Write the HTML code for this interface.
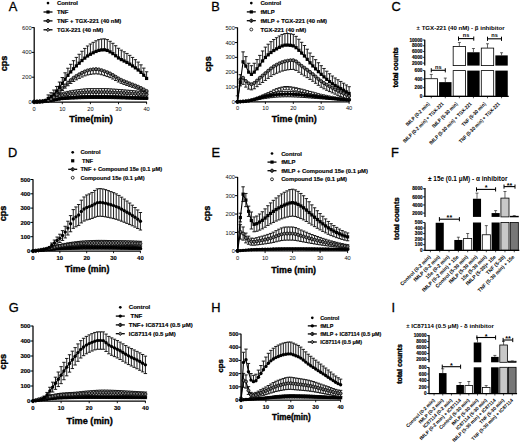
<!DOCTYPE html>
<html><head><meta charset="utf-8"><style>
html,body{margin:0;padding:0;background:#fff;}
svg{display:block;}
text{font-family:"Liberation Sans", sans-serif;}
.h{stroke:#000;stroke-width:0.35px;}
.m{stroke:#000;stroke-width:0.15px;}
.l{stroke:#000;stroke-width:0.3px;}
.hf{fill:#777;stroke:#000;stroke-width:0.8px;}
.op{fill:#fff;stroke:#000;stroke-width:0.8px;}
</style></head><body>
<svg width="520" height="443" viewBox="0 0 520 443">
<rect width="520" height="443" fill="#fff"/>
<text x="8.78" y="10.93" font-size="12.8" class="l">A</text>
<line x1="34.2" y1="27.3" x2="34.2" y2="102.5" stroke="#000" stroke-width="1.25"/>
<line x1="31.6" y1="102" x2="34.2" y2="102" stroke="#000" stroke-width="1.0"/>
<text x="31.6" y="104.05" font-size="5.7" text-anchor="end" fill="#111">0</text>
<line x1="31.6" y1="77.2" x2="34.2" y2="77.2" stroke="#000" stroke-width="1.0"/>
<text x="31.6" y="79.25" font-size="5.7" text-anchor="end" fill="#111">200</text>
<line x1="31.6" y1="52.4" x2="34.2" y2="52.4" stroke="#000" stroke-width="1.0"/>
<text x="31.6" y="54.45" font-size="5.7" text-anchor="end" fill="#111">400</text>
<line x1="31.6" y1="27.6" x2="34.2" y2="27.6" stroke="#000" stroke-width="1.0"/>
<text x="31.6" y="29.65" font-size="5.7" text-anchor="end" fill="#111">600</text>
<line x1="33.7" y1="102" x2="146.9" y2="102" stroke="#000" stroke-width="1.25"/>
<line x1="34.2" y1="102" x2="34.2" y2="104.2" stroke="#000" stroke-width="0.9"/>
<text x="34.2" y="110.65" font-size="5.7" text-anchor="middle" fill="#111">0</text>
<line x1="62.3" y1="102" x2="62.3" y2="104.2" stroke="#000" stroke-width="0.9"/>
<text x="62.3" y="110.65" font-size="5.7" text-anchor="middle" fill="#111">10</text>
<line x1="90.4" y1="102" x2="90.4" y2="104.2" stroke="#000" stroke-width="0.9"/>
<text x="90.4" y="110.65" font-size="5.7" text-anchor="middle" fill="#111">20</text>
<line x1="118.5" y1="102" x2="118.5" y2="104.2" stroke="#000" stroke-width="0.9"/>
<text x="118.5" y="110.65" font-size="5.7" text-anchor="middle" fill="#111">30</text>
<line x1="146.6" y1="102" x2="146.6" y2="104.2" stroke="#000" stroke-width="0.9"/>
<text x="146.6" y="110.65" font-size="5.7" text-anchor="middle" fill="#111">40</text>
<text x="69.2" y="121.7" font-size="9.2" font-weight="bold" class="h">Time(min)</text>
<text x="0" y="0" font-size="9" font-weight="bold" text-anchor="middle" class="h" transform="translate(7.2,63.5) rotate(-90)">cps</text>
<path d="M34.2 101.38V101.16M32.5 101.16h3.4M34.2 101.38V101.6M32.5 101.6h3.4M37.01 101.35V101.13M35.31 101.13h3.4M37.01 101.35V101.58M35.31 101.58h3.4M39.82 101.28V101.03M38.12 101.03h3.4M39.82 101.28V101.53M38.12 101.53h3.4M42.63 101.16V100.87M40.93 100.87h3.4M42.63 101.16V101.46M40.93 101.46h3.4M45.44 101.01V100.66M43.74 100.66h3.4M45.44 101.01V101.36M43.74 101.36h3.4M48.25 100.44V99.89M46.55 99.89h3.4M48.25 100.44V100.98M46.55 100.98h3.4M51.06 99.38V98.46M49.36 98.46h3.4M51.06 99.38V100.3M49.36 100.3h3.4M53.87 98.28V96.98M52.17 96.98h3.4M53.87 98.28V99.58M52.17 99.58h3.4M56.68 97.18V95.5M54.98 95.5h3.4M56.68 97.18V98.87M54.98 98.87h3.4M59.49 96.04V93.96M57.79 93.96h3.4M59.49 96.04V98.13M57.79 98.13h3.4M62.3 95.18V92.79M60.6 92.79h3.4M62.3 95.18V97.57M60.6 97.57h3.4M65.11 94.61V92.02M63.41 92.02h3.4M65.11 94.61V97.19M63.41 97.19h3.4M67.92 94.12V91.36M66.22 91.36h3.4M67.92 94.12V96.88M66.22 96.88h3.4M70.73 93.71V90.81M69.03 90.81h3.4M70.73 93.71V96.61M69.03 96.61h3.4M73.54 93.36V90.34M71.84 90.34h3.4M73.54 93.36V96.39M71.84 96.39h3.4M76.35 93.07V89.95M74.65 89.95h3.4M76.35 93.07V96.2M74.65 96.2h3.4M79.16 92.8V89.57M77.46 89.57h3.4M79.16 92.8V96.02M77.46 96.02h3.4M81.97 92.53V89.21M80.27 89.21h3.4M81.97 92.53V95.84M80.27 95.84h3.4M84.78 92.3V88.9M83.08 88.9h3.4M84.78 92.3V95.69M83.08 95.69h3.4M87.59 92.14V88.69M85.89 88.69h3.4M87.59 92.14V95.59M85.89 95.59h3.4M90.4 92.08V88.61M88.7 88.61h3.4M90.4 92.08V95.55M88.7 95.55h3.4M93.21 92.08V88.61M91.51 88.61h3.4M93.21 92.08V95.55M91.51 95.55h3.4M96.02 92.08V88.61M94.32 88.61h3.4M96.02 92.08V95.55M94.32 95.55h3.4M98.83 92.08V88.61M97.13 88.61h3.4M98.83 92.08V95.55M97.13 95.55h3.4M101.64 92.08V88.61M99.94 88.61h3.4M101.64 92.08V95.55M99.94 95.55h3.4M104.45 92.08V88.61M102.75 88.61h3.4M104.45 92.08V95.55M102.75 95.55h3.4M107.26 92.12V88.66M105.56 88.66h3.4M107.26 92.12V95.58M105.56 95.58h3.4M110.07 92.23V88.81M108.37 88.81h3.4M110.07 92.23V95.65M108.37 95.65h3.4M112.88 92.38V89.01M111.18 89.01h3.4M112.88 92.38V95.75M111.18 95.75h3.4M115.69 92.54V89.23M113.99 89.23h3.4M115.69 92.54V95.85M113.99 95.85h3.4M118.5 92.7V89.44M116.8 89.44h3.4M118.5 92.7V95.95M116.8 95.95h3.4M121.31 92.85V89.65M119.61 89.65h3.4M121.31 92.85V96.05M119.61 96.05h3.4M124.12 93.02V89.88M122.42 89.88h3.4M124.12 93.02V96.16M122.42 96.16h3.4M126.93 93.2V90.12M125.23 90.12h3.4M126.93 93.2V96.28M125.23 96.28h3.4M129.74 93.38V90.37M128.04 90.37h3.4M129.74 93.38V96.4M128.04 96.4h3.4M132.55 93.57V90.62M130.85 90.62h3.4M132.55 93.57V96.52M130.85 96.52h3.4M135.36 93.76V90.87M133.66 90.87h3.4M135.36 93.76V96.64M133.66 96.64h3.4M138.17 93.95V91.13M136.47 91.13h3.4M138.17 93.95V96.77M136.47 96.77h3.4M140.98 94.15V91.4M139.28 91.4h3.4M140.98 94.15V96.9M139.28 96.9h3.4M143.79 94.35V91.67M142.09 91.67h3.4M143.79 94.35V97.03M142.09 97.03h3.4M146.6 94.56V91.96M144.9 91.96h3.4M146.6 94.56V97.16M144.9 97.16h3.4" fill="none" stroke="#111" stroke-width="0.95"/>
<path d="M34.2 101.38 L37.01 101.35 L39.82 101.28 L42.63 101.16 L45.44 101.01 L48.25 100.44 L51.06 99.38 L53.87 98.28 L56.68 97.18 L59.49 96.04 L62.3 95.18 L65.11 94.61 L67.92 94.12 L70.73 93.71 L73.54 93.36 L76.35 93.07 L79.16 92.8 L81.97 92.53 L84.78 92.3 L87.59 92.14 L90.4 92.08 L93.21 92.08 L96.02 92.08 L98.83 92.08 L101.64 92.08 L104.45 92.08 L107.26 92.12 L110.07 92.23 L112.88 92.38 L115.69 92.54 L118.5 92.7 L121.31 92.85 L124.12 93.02 L126.93 93.2 L129.74 93.38 L132.55 93.57 L135.36 93.76 L138.17 93.95 L140.98 94.15 L143.79 94.35 L146.6 94.56" fill="none" stroke="#000" stroke-width="1.1" stroke-linejoin="round"/>
<circle cx="34.2" cy="101.38" r="1.55" class="hf"/>
<circle cx="37.01" cy="101.35" r="1.55" class="hf"/>
<circle cx="39.82" cy="101.28" r="1.55" class="hf"/>
<circle cx="42.63" cy="101.16" r="1.55" class="hf"/>
<circle cx="45.44" cy="101.01" r="1.55" class="hf"/>
<circle cx="48.25" cy="100.44" r="1.55" class="hf"/>
<circle cx="51.06" cy="99.38" r="1.55" class="hf"/>
<circle cx="53.87" cy="98.28" r="1.55" class="hf"/>
<circle cx="56.68" cy="97.18" r="1.55" class="hf"/>
<circle cx="59.49" cy="96.04" r="1.55" class="hf"/>
<circle cx="62.3" cy="95.18" r="1.55" class="hf"/>
<circle cx="65.11" cy="94.61" r="1.55" class="hf"/>
<circle cx="67.92" cy="94.12" r="1.55" class="hf"/>
<circle cx="70.73" cy="93.71" r="1.55" class="hf"/>
<circle cx="73.54" cy="93.36" r="1.55" class="hf"/>
<circle cx="76.35" cy="93.07" r="1.55" class="hf"/>
<circle cx="79.16" cy="92.8" r="1.55" class="hf"/>
<circle cx="81.97" cy="92.53" r="1.55" class="hf"/>
<circle cx="84.78" cy="92.3" r="1.55" class="hf"/>
<circle cx="87.59" cy="92.14" r="1.55" class="hf"/>
<circle cx="90.4" cy="92.08" r="1.55" class="hf"/>
<circle cx="93.21" cy="92.08" r="1.55" class="hf"/>
<circle cx="96.02" cy="92.08" r="1.55" class="hf"/>
<circle cx="98.83" cy="92.08" r="1.55" class="hf"/>
<circle cx="101.64" cy="92.08" r="1.55" class="hf"/>
<circle cx="104.45" cy="92.08" r="1.55" class="hf"/>
<circle cx="107.26" cy="92.12" r="1.55" class="hf"/>
<circle cx="110.07" cy="92.23" r="1.55" class="hf"/>
<circle cx="112.88" cy="92.38" r="1.55" class="hf"/>
<circle cx="115.69" cy="92.54" r="1.55" class="hf"/>
<circle cx="118.5" cy="92.7" r="1.55" class="hf"/>
<circle cx="121.31" cy="92.85" r="1.55" class="hf"/>
<circle cx="124.12" cy="93.02" r="1.55" class="hf"/>
<circle cx="126.93" cy="93.2" r="1.55" class="hf"/>
<circle cx="129.74" cy="93.38" r="1.55" class="hf"/>
<circle cx="132.55" cy="93.57" r="1.55" class="hf"/>
<circle cx="135.36" cy="93.76" r="1.55" class="hf"/>
<circle cx="138.17" cy="93.95" r="1.55" class="hf"/>
<circle cx="140.98" cy="94.15" r="1.55" class="hf"/>
<circle cx="143.79" cy="94.35" r="1.55" class="hf"/>
<circle cx="146.6" cy="94.56" r="1.55" class="hf"/>
<path d="M34.2 101.63V101.52M32.5 101.52h3.4M34.2 101.63V101.74M32.5 101.74h3.4M37.01 101.61V101.49M35.31 101.49h3.4M37.01 101.61V101.73M35.31 101.73h3.4M39.82 101.56V101.43M38.12 101.43h3.4M39.82 101.56V101.69M38.12 101.69h3.4M42.63 101.48V101.33M40.93 101.33h3.4M42.63 101.48V101.64M40.93 101.64h3.4M45.44 101.38V101.19M43.74 101.19h3.4M45.44 101.38V101.57M43.74 101.57h3.4M48.25 101.11V100.85M46.55 100.85h3.4M48.25 101.11V101.38M46.55 101.38h3.4M51.06 100.64V100.24M49.36 100.24h3.4M51.06 100.64V101.05M49.36 101.05h3.4M53.87 100.14V99.58M52.17 99.58h3.4M53.87 100.14V100.7M52.17 100.7h3.4M56.68 99.58V98.86M54.98 98.86h3.4M56.68 99.58V100.31M54.98 100.31h3.4M59.49 98.98V98.07M57.79 98.07h3.4M59.49 98.98V99.88M57.79 99.88h3.4M62.3 98.53V97.49M60.6 97.49h3.4M62.3 98.53V99.57M60.6 99.57h3.4M65.11 98.25V97.13M63.41 97.13h3.4M65.11 98.25V99.38M63.41 99.38h3.4M67.92 98.03V96.83M66.22 96.83h3.4M67.92 98.03V99.22M66.22 99.22h3.4M70.73 97.84V96.59M69.03 96.59h3.4M70.73 97.84V99.09M69.03 99.09h3.4M73.54 97.68V96.38M71.84 96.38h3.4M73.54 97.68V98.97M71.84 98.97h3.4M76.35 97.54V96.2M74.65 96.2h3.4M76.35 97.54V98.88M74.65 98.88h3.4M79.16 97.4V96.02M77.46 96.02h3.4M79.16 97.4V98.78M77.46 98.78h3.4M81.97 97.27V95.85M80.27 95.85h3.4M81.97 97.27V98.69M80.27 98.69h3.4M84.78 97.15V95.7M83.08 95.7h3.4M84.78 97.15V98.61M83.08 98.61h3.4M87.59 97.07V95.59M85.89 95.59h3.4M87.59 97.07V98.55M85.89 98.55h3.4M90.4 97.04V95.55M88.7 95.55h3.4M90.4 97.04V98.53M88.7 98.53h3.4M93.21 97.04V95.55M91.51 95.55h3.4M93.21 97.04V98.53M91.51 98.53h3.4M96.02 97.04V95.55M94.32 95.55h3.4M96.02 97.04V98.53M94.32 98.53h3.4M98.83 97.04V95.55M97.13 95.55h3.4M98.83 97.04V98.53M97.13 98.53h3.4M101.64 97.04V95.55M99.94 95.55h3.4M101.64 97.04V98.53M99.94 98.53h3.4M104.45 97.04V95.55M102.75 95.55h3.4M104.45 97.04V98.53M102.75 98.53h3.4M107.26 97.07V95.58M105.56 95.58h3.4M107.26 97.07V98.55M105.56 98.55h3.4M110.07 97.13V95.67M108.37 95.67h3.4M110.07 97.13V98.59M108.37 98.59h3.4M112.88 97.22V95.79M111.18 95.79h3.4M112.88 97.22V98.65M111.18 98.65h3.4M115.69 97.32V95.91M113.99 95.91h3.4M115.69 97.32V98.72M113.99 98.72h3.4M118.5 97.41V96.04M116.8 96.04h3.4M118.5 97.41V98.79M116.8 98.79h3.4M121.31 97.5V96.16M119.61 96.16h3.4M121.31 97.5V98.85M119.61 98.85h3.4M124.12 97.61V96.29M122.42 96.29h3.4M124.12 97.61V98.92M122.42 98.92h3.4M126.93 97.71V96.43M125.23 96.43h3.4M126.93 97.71V99M125.23 99h3.4M129.74 97.82V96.56M128.04 96.56h3.4M129.74 97.82V99.07M128.04 99.07h3.4M132.55 97.91V96.68M130.85 96.68h3.4M132.55 97.91V99.14M130.85 99.14h3.4M135.36 97.99V96.79M133.66 96.79h3.4M135.36 97.99V99.19M133.66 99.19h3.4M138.17 98.07V96.89M136.47 96.89h3.4M138.17 98.07V99.25M136.47 99.25h3.4M140.98 98.15V96.99M139.28 96.99h3.4M140.98 98.15V99.3M139.28 99.3h3.4M143.79 98.22V97.08M142.09 97.08h3.4M143.79 98.22V99.35M142.09 99.35h3.4M146.6 98.28V97.16M144.9 97.16h3.4M146.6 98.28V99.4M144.9 99.4h3.4" fill="none" stroke="#111" stroke-width="0.95"/>
<path d="M34.2 101.63 L37.01 101.61 L39.82 101.56 L42.63 101.48 L45.44 101.38 L48.25 101.11 L51.06 100.64 L53.87 100.14 L56.68 99.58 L59.49 98.98 L62.3 98.53 L65.11 98.25 L67.92 98.03 L70.73 97.84 L73.54 97.68 L76.35 97.54 L79.16 97.4 L81.97 97.27 L84.78 97.15 L87.59 97.07 L90.4 97.04 L93.21 97.04 L96.02 97.04 L98.83 97.04 L101.64 97.04 L104.45 97.04 L107.26 97.07 L110.07 97.13 L112.88 97.22 L115.69 97.32 L118.5 97.41 L121.31 97.5 L124.12 97.61 L126.93 97.71 L129.74 97.82 L132.55 97.91 L135.36 97.99 L138.17 98.07 L140.98 98.15 L143.79 98.22 L146.6 98.28" fill="none" stroke="#000" stroke-width="2.2" stroke-linejoin="round"/>
<circle cx="34.2" cy="101.63" r="1.7"/>
<circle cx="37.01" cy="101.61" r="1.7"/>
<circle cx="39.82" cy="101.56" r="1.7"/>
<circle cx="42.63" cy="101.48" r="1.7"/>
<circle cx="45.44" cy="101.38" r="1.7"/>
<circle cx="48.25" cy="101.11" r="1.7"/>
<circle cx="51.06" cy="100.64" r="1.7"/>
<circle cx="53.87" cy="100.14" r="1.7"/>
<circle cx="56.68" cy="99.58" r="1.7"/>
<circle cx="59.49" cy="98.98" r="1.7"/>
<circle cx="62.3" cy="98.53" r="1.7"/>
<circle cx="65.11" cy="98.25" r="1.7"/>
<circle cx="67.92" cy="98.03" r="1.7"/>
<circle cx="70.73" cy="97.84" r="1.7"/>
<circle cx="73.54" cy="97.68" r="1.7"/>
<circle cx="76.35" cy="97.54" r="1.7"/>
<circle cx="79.16" cy="97.4" r="1.7"/>
<circle cx="81.97" cy="97.27" r="1.7"/>
<circle cx="84.78" cy="97.15" r="1.7"/>
<circle cx="87.59" cy="97.07" r="1.7"/>
<circle cx="90.4" cy="97.04" r="1.7"/>
<circle cx="93.21" cy="97.04" r="1.7"/>
<circle cx="96.02" cy="97.04" r="1.7"/>
<circle cx="98.83" cy="97.04" r="1.7"/>
<circle cx="101.64" cy="97.04" r="1.7"/>
<circle cx="104.45" cy="97.04" r="1.7"/>
<circle cx="107.26" cy="97.07" r="1.7"/>
<circle cx="110.07" cy="97.13" r="1.7"/>
<circle cx="112.88" cy="97.22" r="1.7"/>
<circle cx="115.69" cy="97.32" r="1.7"/>
<circle cx="118.5" cy="97.41" r="1.7"/>
<circle cx="121.31" cy="97.5" r="1.7"/>
<circle cx="124.12" cy="97.61" r="1.7"/>
<circle cx="126.93" cy="97.71" r="1.7"/>
<circle cx="129.74" cy="97.82" r="1.7"/>
<circle cx="132.55" cy="97.91" r="1.7"/>
<circle cx="135.36" cy="97.99" r="1.7"/>
<circle cx="138.17" cy="98.07" r="1.7"/>
<circle cx="140.98" cy="98.15" r="1.7"/>
<circle cx="143.79" cy="98.22" r="1.7"/>
<circle cx="146.6" cy="98.28" r="1.7"/>
<path d="M51.06 99.03V100.13M49.36 100.13h3.4M53.87 97.29V98.6M52.17 98.6h3.4M56.68 94.67V96.3M54.98 96.3h3.4M59.49 91.28V93.31M57.79 93.31h3.4M62.3 88.11V90.52M60.6 90.52h3.4M65.11 85.36V88.1M63.41 88.1h3.4M67.92 82.65V85.72M66.22 85.72h3.4M70.73 80.11V83.48M69.03 83.48h3.4M73.54 77.84V81.48M71.84 81.48h3.4M76.35 75.96V79.83M74.65 79.83h3.4M79.16 74.34V78.4M77.46 78.4h3.4M81.97 72.81V77.06M80.27 77.06h3.4M84.78 71.48V75.89M83.08 75.89h3.4M87.59 70.43V74.97M85.89 74.97h3.4M90.4 69.76V74.37M88.7 74.37h3.4M93.21 69.34V74M91.51 74h3.4M96.02 69.14V73.83M94.32 73.83h3.4M98.83 69.43V74.09M97.13 74.09h3.4M101.64 70.18V74.74M99.94 74.74h3.4M104.45 71.18V75.62M102.75 75.62h3.4M107.26 72.24V76.56M105.56 76.56h3.4M110.07 73.48V77.65M108.37 77.65h3.4M112.88 75.04V79.02M111.18 79.02h3.4M115.69 76.76V80.53M113.99 80.53h3.4M118.5 78.44V82.01M116.8 82.01h3.4M121.31 79.93V83.32M119.61 83.32h3.4M124.12 81.18V84.43M122.42 84.43h3.4M126.93 82.33V85.44M125.23 85.44h3.4M129.74 83.42V86.39M128.04 86.39h3.4M132.55 84.48V87.33M130.85 87.33h3.4M135.36 85.57V88.29M133.66 88.29h3.4M138.17 86.73V89.31M136.47 89.31h3.4M140.98 88.01V90.43M139.28 90.43h3.4M143.79 89.44V91.69M142.09 91.69h3.4M146.6 90.96V93.03M144.9 93.03h3.4" fill="none" stroke="#111" stroke-width="0.95"/>
<path d="M34.2 102 L37.01 101.91 L39.82 101.65 L42.63 101.26 L45.44 100.75 L48.25 100.14 L51.06 99.03 L53.87 97.29 L56.68 94.67 L59.49 91.28 L62.3 88.11 L65.11 85.36 L67.92 82.65 L70.73 80.11 L73.54 77.84 L76.35 75.96 L79.16 74.34 L81.97 72.81 L84.78 71.48 L87.59 70.43 L90.4 69.76 L93.21 69.34 L96.02 69.14 L98.83 69.43 L101.64 70.18 L104.45 71.18 L107.26 72.24 L110.07 73.48 L112.88 75.04 L115.69 76.76 L118.5 78.44 L121.31 79.93 L124.12 81.18 L126.93 82.33 L129.74 83.42 L132.55 84.48 L135.36 85.57 L138.17 86.73 L140.98 88.01 L143.79 89.44 L146.6 90.96" fill="none" stroke="#000" stroke-width="1.1" stroke-linejoin="round"/>
<circle cx="34.2" cy="102" r="1.55" class="hf"/>
<circle cx="37.01" cy="101.91" r="1.55" class="hf"/>
<circle cx="39.82" cy="101.65" r="1.55" class="hf"/>
<circle cx="42.63" cy="101.26" r="1.55" class="hf"/>
<circle cx="45.44" cy="100.75" r="1.55" class="hf"/>
<circle cx="48.25" cy="100.14" r="1.55" class="hf"/>
<circle cx="51.06" cy="99.03" r="1.55" class="hf"/>
<circle cx="53.87" cy="97.29" r="1.55" class="hf"/>
<circle cx="56.68" cy="94.67" r="1.55" class="hf"/>
<circle cx="59.49" cy="91.28" r="1.55" class="hf"/>
<circle cx="62.3" cy="88.11" r="1.55" class="hf"/>
<circle cx="65.11" cy="85.36" r="1.55" class="hf"/>
<circle cx="67.92" cy="82.65" r="1.55" class="hf"/>
<circle cx="70.73" cy="80.11" r="1.55" class="hf"/>
<circle cx="73.54" cy="77.84" r="1.55" class="hf"/>
<circle cx="76.35" cy="75.96" r="1.55" class="hf"/>
<circle cx="79.16" cy="74.34" r="1.55" class="hf"/>
<circle cx="81.97" cy="72.81" r="1.55" class="hf"/>
<circle cx="84.78" cy="71.48" r="1.55" class="hf"/>
<circle cx="87.59" cy="70.43" r="1.55" class="hf"/>
<circle cx="90.4" cy="69.76" r="1.55" class="hf"/>
<circle cx="93.21" cy="69.34" r="1.55" class="hf"/>
<circle cx="96.02" cy="69.14" r="1.55" class="hf"/>
<circle cx="98.83" cy="69.43" r="1.55" class="hf"/>
<circle cx="101.64" cy="70.18" r="1.55" class="hf"/>
<circle cx="104.45" cy="71.18" r="1.55" class="hf"/>
<circle cx="107.26" cy="72.24" r="1.55" class="hf"/>
<circle cx="110.07" cy="73.48" r="1.55" class="hf"/>
<circle cx="112.88" cy="75.04" r="1.55" class="hf"/>
<circle cx="115.69" cy="76.76" r="1.55" class="hf"/>
<circle cx="118.5" cy="78.44" r="1.55" class="hf"/>
<circle cx="121.31" cy="79.93" r="1.55" class="hf"/>
<circle cx="124.12" cy="81.18" r="1.55" class="hf"/>
<circle cx="126.93" cy="82.33" r="1.55" class="hf"/>
<circle cx="129.74" cy="83.42" r="1.55" class="hf"/>
<circle cx="132.55" cy="84.48" r="1.55" class="hf"/>
<circle cx="135.36" cy="85.57" r="1.55" class="hf"/>
<circle cx="138.17" cy="86.73" r="1.55" class="hf"/>
<circle cx="140.98" cy="88.01" r="1.55" class="hf"/>
<circle cx="143.79" cy="89.44" r="1.55" class="hf"/>
<circle cx="146.6" cy="90.96" r="1.55" class="hf"/>
<path d="M48.25 98.53V94.91M46.55 94.91h3.4M51.06 96.63V92.72M49.36 92.72h3.4M53.87 94.31V90.06M52.17 90.06h3.4M56.68 91.17V86.45M54.98 86.45h3.4M59.49 87.35V82.05M57.79 82.05h3.4M62.3 83.4V77.51M60.6 77.51h3.4M65.11 79.3V72.8M63.41 72.8h3.4M67.92 75.34V68.24M66.22 68.24h3.4M70.73 71.92V64.3M69.03 64.3h3.4M73.54 68.77V60.69M71.84 60.69h3.4M76.35 65.92V57.4M74.65 57.4h3.4M79.16 63.2V54.28M77.46 54.28h3.4M81.97 60.56V51.25M80.27 51.25h3.4M84.78 58.11V48.43M83.08 48.43h3.4M87.59 55.97V45.97M85.89 45.97h3.4M90.4 54.26V44M88.7 44h3.4M93.21 52.8V42.32M91.51 42.32h3.4M96.02 51.46V40.77M94.32 40.77h3.4M98.83 50.43V39.6M97.13 39.6h3.4M101.64 49.92V39.01M99.94 39.01h3.4M104.45 49.8V38.87M102.75 38.87h3.4M107.26 50.43V39.59M105.56 39.59h3.4M110.07 51.91V41.3M108.37 41.3h3.4M112.88 53.64V43.29M111.18 43.29h3.4M115.69 55.77V45.73M113.99 45.73h3.4M118.5 57.98V48.28M116.8 48.28h3.4M121.31 59.61V50.15M119.61 50.15h3.4M124.12 61.03V51.78M122.42 51.78h3.4M126.93 62.47V53.44M125.23 53.44h3.4M129.74 64.13V55.35M128.04 55.35h3.4M132.55 65.93V57.42M130.85 57.42h3.4M135.36 67.87V59.65M133.66 59.65h3.4M138.17 69.99V62.09M136.47 62.09h3.4M140.98 72.37V64.83M139.28 64.83h3.4M143.79 75.22V68.1M142.09 68.1h3.4M146.6 78.44V71.81M144.9 71.81h3.4" fill="none" stroke="#111" stroke-width="0.95"/>
<path d="M34.2 102 L37.01 101.96 L39.82 101.83 L42.63 101.63 L45.44 100.46 L48.25 98.53 L51.06 96.63 L53.87 94.31 L56.68 91.17 L59.49 87.35 L62.3 83.4 L65.11 79.3 L67.92 75.34 L70.73 71.92 L73.54 68.77 L76.35 65.92 L79.16 63.2 L81.97 60.56 L84.78 58.11 L87.59 55.97 L90.4 54.26 L93.21 52.8 L96.02 51.46 L98.83 50.43 L101.64 49.92 L104.45 49.8 L107.26 50.43 L110.07 51.91 L112.88 53.64 L115.69 55.77 L118.5 57.98 L121.31 59.61 L124.12 61.03 L126.93 62.47 L129.74 64.13 L132.55 65.93 L135.36 67.87 L138.17 69.99 L140.98 72.37 L143.79 75.22 L146.6 78.44" fill="none" stroke="#000" stroke-width="1.1" stroke-linejoin="round"/>
<rect x="32.6" y="100.4" width="3.2" height="3.2"/>
<rect x="35.41" y="100.36" width="3.2" height="3.2"/>
<rect x="38.22" y="100.23" width="3.2" height="3.2"/>
<rect x="41.03" y="100.03" width="3.2" height="3.2"/>
<rect x="43.84" y="98.86" width="3.2" height="3.2"/>
<rect x="46.65" y="96.93" width="3.2" height="3.2"/>
<rect x="49.46" y="95.03" width="3.2" height="3.2"/>
<rect x="52.27" y="92.71" width="3.2" height="3.2"/>
<rect x="55.08" y="89.57" width="3.2" height="3.2"/>
<rect x="57.89" y="85.75" width="3.2" height="3.2"/>
<rect x="60.7" y="81.8" width="3.2" height="3.2"/>
<rect x="63.51" y="77.7" width="3.2" height="3.2"/>
<rect x="66.32" y="73.74" width="3.2" height="3.2"/>
<rect x="69.13" y="70.32" width="3.2" height="3.2"/>
<rect x="71.94" y="67.17" width="3.2" height="3.2"/>
<rect x="74.75" y="64.32" width="3.2" height="3.2"/>
<rect x="77.56" y="61.6" width="3.2" height="3.2"/>
<rect x="80.37" y="58.96" width="3.2" height="3.2"/>
<rect x="83.18" y="56.51" width="3.2" height="3.2"/>
<rect x="85.99" y="54.37" width="3.2" height="3.2"/>
<rect x="88.8" y="52.66" width="3.2" height="3.2"/>
<rect x="91.61" y="51.2" width="3.2" height="3.2"/>
<rect x="94.42" y="49.86" width="3.2" height="3.2"/>
<rect x="97.23" y="48.83" width="3.2" height="3.2"/>
<rect x="100.04" y="48.32" width="3.2" height="3.2"/>
<rect x="102.85" y="48.2" width="3.2" height="3.2"/>
<rect x="105.66" y="48.83" width="3.2" height="3.2"/>
<rect x="108.47" y="50.31" width="3.2" height="3.2"/>
<rect x="111.28" y="52.04" width="3.2" height="3.2"/>
<rect x="114.09" y="54.17" width="3.2" height="3.2"/>
<rect x="116.9" y="56.38" width="3.2" height="3.2"/>
<rect x="119.71" y="58.01" width="3.2" height="3.2"/>
<rect x="122.52" y="59.43" width="3.2" height="3.2"/>
<rect x="125.33" y="60.87" width="3.2" height="3.2"/>
<rect x="128.14" y="62.53" width="3.2" height="3.2"/>
<rect x="130.95" y="64.33" width="3.2" height="3.2"/>
<rect x="133.76" y="66.27" width="3.2" height="3.2"/>
<rect x="136.57" y="68.39" width="3.2" height="3.2"/>
<rect x="139.38" y="70.77" width="3.2" height="3.2"/>
<rect x="142.19" y="73.62" width="3.2" height="3.2"/>
<rect x="145" y="76.84" width="3.2" height="3.2"/>
<circle cx="48" cy="3.1" r="1.35"/>
<text x="57" y="5.22" font-size="5.9" font-weight="bold" class="m">Control</text>
<line x1="43.5" y1="12" x2="52.5" y2="12" stroke="#000" stroke-width="1.3"/>
<rect x="46.4" y="10.4" width="3.2" height="3.2"/>
<text x="57" y="14.12" font-size="5.9" font-weight="bold" class="m">TNF</text>
<line x1="43.5" y1="20.9" x2="52.5" y2="20.9" stroke="#000" stroke-width="1.3"/>
<circle cx="48" cy="20.9" r="1.55" class="hf"/>
<line x1="48" y1="19" x2="48" y2="22.8" stroke="#000" stroke-width="0.8"/>
<text x="57" y="23.02" font-size="5.9" font-weight="bold" class="m">TNF + TGX-221 (40 nM)</text>
<line x1="43.5" y1="29.8" x2="52.5" y2="29.8" stroke="#000" stroke-width="1.3"/>
<path d="M48 28l1.8 1.8l-1.8 1.8l-1.8-1.8z" class="hf"/>
<text x="57" y="31.92" font-size="5.9" font-weight="bold" class="m">TGX-221 (40 nM)</text>
<text x="211.15" y="10.93" font-size="12.8" class="l">B</text>
<line x1="237.5" y1="27.45" x2="237.5" y2="102.25" stroke="#000" stroke-width="1.25"/>
<line x1="234.9" y1="101.75" x2="237.5" y2="101.75" stroke="#000" stroke-width="1.0"/>
<text x="234.9" y="103.8" font-size="5.7" text-anchor="end" fill="#111">0</text>
<line x1="234.9" y1="86.95" x2="237.5" y2="86.95" stroke="#000" stroke-width="1.0"/>
<text x="234.9" y="89" font-size="5.7" text-anchor="end" fill="#111">100</text>
<line x1="234.9" y1="72.15" x2="237.5" y2="72.15" stroke="#000" stroke-width="1.0"/>
<text x="234.9" y="74.2" font-size="5.7" text-anchor="end" fill="#111">200</text>
<line x1="234.9" y1="57.35" x2="237.5" y2="57.35" stroke="#000" stroke-width="1.0"/>
<text x="234.9" y="59.4" font-size="5.7" text-anchor="end" fill="#111">300</text>
<line x1="234.9" y1="42.55" x2="237.5" y2="42.55" stroke="#000" stroke-width="1.0"/>
<text x="234.9" y="44.6" font-size="5.7" text-anchor="end" fill="#111">400</text>
<line x1="234.9" y1="27.75" x2="237.5" y2="27.75" stroke="#000" stroke-width="1.0"/>
<text x="234.9" y="29.8" font-size="5.7" text-anchor="end" fill="#111">500</text>
<line x1="237" y1="101.75" x2="349.4" y2="101.75" stroke="#000" stroke-width="1.25"/>
<line x1="237.5" y1="101.75" x2="237.5" y2="103.95" stroke="#000" stroke-width="0.9"/>
<text x="237.5" y="110.4" font-size="5.7" text-anchor="middle" fill="#111">0</text>
<line x1="265.4" y1="101.75" x2="265.4" y2="103.95" stroke="#000" stroke-width="0.9"/>
<text x="265.4" y="110.4" font-size="5.7" text-anchor="middle" fill="#111">10</text>
<line x1="293.3" y1="101.75" x2="293.3" y2="103.95" stroke="#000" stroke-width="0.9"/>
<text x="293.3" y="110.4" font-size="5.7" text-anchor="middle" fill="#111">20</text>
<line x1="321.2" y1="101.75" x2="321.2" y2="103.95" stroke="#000" stroke-width="0.9"/>
<text x="321.2" y="110.4" font-size="5.7" text-anchor="middle" fill="#111">30</text>
<line x1="349.1" y1="101.75" x2="349.1" y2="103.95" stroke="#000" stroke-width="0.9"/>
<text x="349.1" y="110.4" font-size="5.7" text-anchor="middle" fill="#111">40</text>
<text x="271.7" y="122" font-size="8.95" font-weight="bold" class="h">Time (min)</text>
<text x="0" y="0" font-size="9" font-weight="bold" text-anchor="middle" class="h" transform="translate(210.7,64) rotate(-90)">cps</text>
<path d="M245.87 101.01V100.9M244.17 100.9h3.4M248.66 100.57V100.39M246.96 100.39h3.4M251.45 99.97V99.71M249.75 99.71h3.4M254.24 99.22V98.84M252.54 98.84h3.4M257.03 98.28V97.76M255.33 97.76h3.4M259.82 97.24V96.57M258.12 96.57h3.4M262.61 96.16V95.32M260.91 95.32h3.4M265.4 95.09V94.09M263.7 94.09h3.4M268.19 93.96V92.79M266.49 92.79h3.4M270.98 92.72V91.37M269.28 91.37h3.4M273.77 91.5V89.96M272.07 89.96h3.4M276.56 90.42V88.72M274.86 88.72h3.4M279.35 89.61V87.79M277.65 87.79h3.4M282.14 88.97V87.05M280.44 87.05h3.4M284.93 88.5V86.52M283.23 86.52h3.4M287.72 88.48V86.49M286.02 86.49h3.4M290.51 88.77V86.83M288.81 86.83h3.4M293.3 89.17V87.28M291.6 87.28h3.4M296.09 89.62V87.8M294.39 87.8h3.4M298.88 90.18V88.45M297.18 88.45h3.4M301.67 90.81V89.17M299.97 89.17h3.4M304.46 91.48V89.94M302.76 89.94h3.4M307.25 92.13V90.69M305.55 90.69h3.4M310.04 92.8V91.45M308.34 91.45h3.4M312.83 93.51V92.27M311.13 92.27h3.4M315.62 94.22V93.09M313.92 93.09h3.4M318.41 94.91V93.89M316.71 93.89h3.4M321.2 95.53V94.6M319.5 94.6h3.4M323.99 96.11V95.26M322.29 95.26h3.4M326.78 96.66V95.89M325.08 95.89h3.4M329.57 97.17V96.49M327.87 96.49h3.4M332.36 97.64V97.03M330.66 97.03h3.4M335.15 98.05V97.5M333.45 97.5h3.4M337.94 98.41V97.91M336.24 97.91h3.4M340.73 98.75V98.3M339.03 98.3h3.4M343.52 99.05V98.64M341.82 98.64h3.4M346.31 99.31V98.95M344.61 98.95h3.4M349.1 99.53V99.2M347.4 99.2h3.4" fill="none" stroke="#111" stroke-width="0.95"/>
<path d="M237.5 101.75 L240.29 101.6 L243.08 101.34 L245.87 101.01 L248.66 100.57 L251.45 99.97 L254.24 99.22 L257.03 98.28 L259.82 97.24 L262.61 96.16 L265.4 95.09 L268.19 93.96 L270.98 92.72 L273.77 91.5 L276.56 90.42 L279.35 89.61 L282.14 88.97 L284.93 88.5 L287.72 88.48 L290.51 88.77 L293.3 89.17 L296.09 89.62 L298.88 90.18 L301.67 90.81 L304.46 91.48 L307.25 92.13 L310.04 92.8 L312.83 93.51 L315.62 94.22 L318.41 94.91 L321.2 95.53 L323.99 96.11 L326.78 96.66 L329.57 97.17 L332.36 97.64 L335.15 98.05 L337.94 98.41 L340.73 98.75 L343.52 99.05 L346.31 99.31 L349.1 99.53" fill="none" stroke="#000" stroke-width="1.1" stroke-linejoin="round"/>
<circle cx="237.5" cy="101.75" r="1.45" class="op"/>
<circle cx="240.29" cy="101.6" r="1.45" class="op"/>
<circle cx="243.08" cy="101.34" r="1.45" class="op"/>
<circle cx="245.87" cy="101.01" r="1.45" class="op"/>
<circle cx="248.66" cy="100.57" r="1.45" class="op"/>
<circle cx="251.45" cy="99.97" r="1.45" class="op"/>
<circle cx="254.24" cy="99.22" r="1.45" class="op"/>
<circle cx="257.03" cy="98.28" r="1.45" class="op"/>
<circle cx="259.82" cy="97.24" r="1.45" class="op"/>
<circle cx="262.61" cy="96.16" r="1.45" class="op"/>
<circle cx="265.4" cy="95.09" r="1.45" class="op"/>
<circle cx="268.19" cy="93.96" r="1.45" class="op"/>
<circle cx="270.98" cy="92.72" r="1.45" class="op"/>
<circle cx="273.77" cy="91.5" r="1.45" class="op"/>
<circle cx="276.56" cy="90.42" r="1.45" class="op"/>
<circle cx="279.35" cy="89.61" r="1.45" class="op"/>
<circle cx="282.14" cy="88.97" r="1.45" class="op"/>
<circle cx="284.93" cy="88.5" r="1.45" class="op"/>
<circle cx="287.72" cy="88.48" r="1.45" class="op"/>
<circle cx="290.51" cy="88.77" r="1.45" class="op"/>
<circle cx="293.3" cy="89.17" r="1.45" class="op"/>
<circle cx="296.09" cy="89.62" r="1.45" class="op"/>
<circle cx="298.88" cy="90.18" r="1.45" class="op"/>
<circle cx="301.67" cy="90.81" r="1.45" class="op"/>
<circle cx="304.46" cy="91.48" r="1.45" class="op"/>
<circle cx="307.25" cy="92.13" r="1.45" class="op"/>
<circle cx="310.04" cy="92.8" r="1.45" class="op"/>
<circle cx="312.83" cy="93.51" r="1.45" class="op"/>
<circle cx="315.62" cy="94.22" r="1.45" class="op"/>
<circle cx="318.41" cy="94.91" r="1.45" class="op"/>
<circle cx="321.2" cy="95.53" r="1.45" class="op"/>
<circle cx="323.99" cy="96.11" r="1.45" class="op"/>
<circle cx="326.78" cy="96.66" r="1.45" class="op"/>
<circle cx="329.57" cy="97.17" r="1.45" class="op"/>
<circle cx="332.36" cy="97.64" r="1.45" class="op"/>
<circle cx="335.15" cy="98.05" r="1.45" class="op"/>
<circle cx="337.94" cy="98.41" r="1.45" class="op"/>
<circle cx="340.73" cy="98.75" r="1.45" class="op"/>
<circle cx="343.52" cy="99.05" r="1.45" class="op"/>
<circle cx="346.31" cy="99.31" r="1.45" class="op"/>
<circle cx="349.1" cy="99.53" r="1.45" class="op"/>
<path d="M243.08 101.53V101.45M241.38 101.45h3.4M243.08 101.53V101.61M241.38 101.61h3.4M245.87 101.31V101.15M244.17 101.15h3.4M245.87 101.31V101.46M244.17 101.46h3.4M248.66 100.88V100.57M246.96 100.57h3.4M248.66 100.88V101.18M246.96 101.18h3.4M251.45 100.27V99.75M249.75 99.75h3.4M251.45 100.27V100.79M249.75 100.79h3.4M254.24 99.59V98.84M252.54 98.84h3.4M254.24 99.59V100.35M252.54 100.35h3.4M257.03 98.81V97.78M255.33 97.78h3.4M257.03 98.81V99.84M255.33 99.84h3.4M259.82 97.99V96.67M258.12 96.67h3.4M259.82 97.99V99.3M258.12 99.3h3.4M262.61 97.21V95.63M260.91 95.63h3.4M262.61 97.21V98.8M260.91 98.8h3.4M265.4 96.57V94.76M263.7 94.76h3.4M265.4 96.57V98.38M263.7 98.38h3.4M268.19 96.01V94M266.49 94h3.4M268.19 96.01V98.02M266.49 98.02h3.4M270.98 95.46V93.26M269.28 93.26h3.4M270.98 95.46V97.66M269.28 97.66h3.4M273.77 94.98V92.6M272.07 92.6h3.4M273.77 94.98V97.35M272.07 97.35h3.4M276.56 94.59V92.08M274.86 92.08h3.4M276.56 94.59V97.1M274.86 97.1h3.4M279.35 94.35V91.76M277.65 91.76h3.4M279.35 94.35V96.94M277.65 96.94h3.4M282.14 94.21V91.56M280.44 91.56h3.4M282.14 94.21V96.85M280.44 96.85h3.4M284.93 94.1V91.42M283.23 91.42h3.4M284.93 94.1V96.78M283.23 96.78h3.4M287.72 94.05V91.36M286.02 91.36h3.4M287.72 94.05V96.75M286.02 96.75h3.4M290.51 94.11V91.44M288.81 91.44h3.4M290.51 94.11V96.78M288.81 96.78h3.4M293.3 94.25V91.63M291.6 91.63h3.4M293.3 94.25V96.88M291.6 96.88h3.4M296.09 94.44V91.88M294.39 91.88h3.4M296.09 94.44V97M294.39 97h3.4M298.88 94.65V92.16M297.18 92.16h3.4M298.88 94.65V97.13M297.18 97.13h3.4M301.67 94.88V92.48M299.97 92.48h3.4M301.67 94.88V97.29M299.97 97.29h3.4M304.46 95.18V92.88M302.76 92.88h3.4M304.46 95.18V97.48M302.76 97.48h3.4M307.25 95.52V93.34M305.55 93.34h3.4M307.25 95.52V97.7M305.55 97.7h3.4M310.04 95.88V93.82M308.34 93.82h3.4M310.04 95.88V97.93M308.34 97.93h3.4M312.83 96.23V94.3M311.13 94.3h3.4M312.83 96.23V98.16M311.13 98.16h3.4M315.62 96.57V94.76M313.92 94.76h3.4M315.62 96.57V98.38M313.92 98.38h3.4M318.41 96.89V95.19M316.71 95.19h3.4M318.41 96.89V98.59M316.71 98.59h3.4M321.2 97.23V95.64M319.5 95.64h3.4M321.2 97.23V98.81M319.5 98.81h3.4M323.99 97.56V96.09M322.29 96.09h3.4M323.99 97.56V99.03M322.29 99.03h3.4M326.78 97.89V96.54M325.08 96.54h3.4M326.78 97.89V99.24M325.08 99.24h3.4M329.57 98.21V96.97M327.87 96.97h3.4M329.57 98.21V99.45M327.87 99.45h3.4M332.36 98.51V97.37M330.66 97.37h3.4M332.36 98.51V99.64M330.66 99.64h3.4M335.15 98.79V97.75M333.45 97.75h3.4M335.15 98.79V99.83M333.45 99.83h3.4M337.94 99.05V98.11M336.24 98.11h3.4M337.94 99.05V100M336.24 100h3.4M340.73 99.3V98.45M339.03 98.45h3.4M340.73 99.3V100.16M339.03 100.16h3.4M343.52 99.54V98.77M341.82 98.77h3.4M343.52 99.54V100.31M341.82 100.31h3.4M346.31 99.76V99.07M344.61 99.07h3.4M346.31 99.76V100.46M344.61 100.46h3.4M349.1 99.97V99.35M347.4 99.35h3.4M349.1 99.97V100.6M347.4 100.6h3.4" fill="none" stroke="#111" stroke-width="0.95"/>
<path d="M237.5 101.75 L240.29 101.69 L243.08 101.53 L245.87 101.31 L248.66 100.88 L251.45 100.27 L254.24 99.59 L257.03 98.81 L259.82 97.99 L262.61 97.21 L265.4 96.57 L268.19 96.01 L270.98 95.46 L273.77 94.98 L276.56 94.59 L279.35 94.35 L282.14 94.21 L284.93 94.1 L287.72 94.05 L290.51 94.11 L293.3 94.25 L296.09 94.44 L298.88 94.65 L301.67 94.88 L304.46 95.18 L307.25 95.52 L310.04 95.88 L312.83 96.23 L315.62 96.57 L318.41 96.89 L321.2 97.23 L323.99 97.56 L326.78 97.89 L329.57 98.21 L332.36 98.51 L335.15 98.79 L337.94 99.05 L340.73 99.3 L343.52 99.54 L346.31 99.76 L349.1 99.97" fill="none" stroke="#000" stroke-width="2.4" stroke-linejoin="round"/>
<circle cx="237.5" cy="101.75" r="1.7"/>
<circle cx="240.29" cy="101.69" r="1.7"/>
<circle cx="243.08" cy="101.53" r="1.7"/>
<circle cx="245.87" cy="101.31" r="1.7"/>
<circle cx="248.66" cy="100.88" r="1.7"/>
<circle cx="251.45" cy="100.27" r="1.7"/>
<circle cx="254.24" cy="99.59" r="1.7"/>
<circle cx="257.03" cy="98.81" r="1.7"/>
<circle cx="259.82" cy="97.99" r="1.7"/>
<circle cx="262.61" cy="97.21" r="1.7"/>
<circle cx="265.4" cy="96.57" r="1.7"/>
<circle cx="268.19" cy="96.01" r="1.7"/>
<circle cx="270.98" cy="95.46" r="1.7"/>
<circle cx="273.77" cy="94.98" r="1.7"/>
<circle cx="276.56" cy="94.59" r="1.7"/>
<circle cx="279.35" cy="94.35" r="1.7"/>
<circle cx="282.14" cy="94.21" r="1.7"/>
<circle cx="284.93" cy="94.1" r="1.7"/>
<circle cx="287.72" cy="94.05" r="1.7"/>
<circle cx="290.51" cy="94.11" r="1.7"/>
<circle cx="293.3" cy="94.25" r="1.7"/>
<circle cx="296.09" cy="94.44" r="1.7"/>
<circle cx="298.88" cy="94.65" r="1.7"/>
<circle cx="301.67" cy="94.88" r="1.7"/>
<circle cx="304.46" cy="95.18" r="1.7"/>
<circle cx="307.25" cy="95.52" r="1.7"/>
<circle cx="310.04" cy="95.88" r="1.7"/>
<circle cx="312.83" cy="96.23" r="1.7"/>
<circle cx="315.62" cy="96.57" r="1.7"/>
<circle cx="318.41" cy="96.89" r="1.7"/>
<circle cx="321.2" cy="97.23" r="1.7"/>
<circle cx="323.99" cy="97.56" r="1.7"/>
<circle cx="326.78" cy="97.89" r="1.7"/>
<circle cx="329.57" cy="98.21" r="1.7"/>
<circle cx="332.36" cy="98.51" r="1.7"/>
<circle cx="335.15" cy="98.79" r="1.7"/>
<circle cx="337.94" cy="99.05" r="1.7"/>
<circle cx="340.73" cy="99.3" r="1.7"/>
<circle cx="343.52" cy="99.54" r="1.7"/>
<circle cx="346.31" cy="99.76" r="1.7"/>
<circle cx="349.1" cy="99.97" r="1.7"/>
<path d="M237.5 101.75V101.75M235.8 101.75h3.4M240.29 79.55V85.84M238.59 85.84h3.4M243.08 77.77V84.33M241.38 84.33h3.4M245.87 81.03V87.1M244.17 87.1h3.4M248.66 83.35V89.07M246.96 89.07h3.4M251.45 84.26V89.84M249.75 89.84h3.4M254.24 83V88.77M252.54 88.77h3.4M257.03 80.53V86.67M255.33 86.67h3.4M259.82 77.82V84.37M258.12 84.37h3.4M262.61 75.55V82.44M260.91 82.44h3.4M265.4 73.17V80.42M263.7 80.42h3.4M268.19 70.74V78.35M266.49 78.35h3.4M270.98 68.42V76.38M269.28 76.38h3.4M273.77 66.37V74.64M272.07 74.64h3.4M276.56 64.76V73.27M274.86 73.27h3.4M279.35 63.38V72.1M277.65 72.1h3.4M282.14 62.19V71.09M280.44 71.09h3.4M284.93 61.3V70.33M283.23 70.33h3.4M287.72 60.73V69.84M286.02 69.84h3.4M290.51 60.3V69.47M288.81 69.47h3.4M293.3 60.2V69.39M291.6 69.39h3.4M296.09 61.41V70.42M294.39 70.42h3.4M298.88 63.61V72.29M297.18 72.29h3.4M301.67 65.89V74.23M299.97 74.23h3.4M304.46 67.84V75.89M302.76 75.89h3.4M307.25 69.87V77.61M305.55 77.61h3.4M310.04 71.97V79.4M308.34 79.4h3.4M312.83 74.15V81.25M311.13 81.25h3.4M315.62 76.52V83.27M313.92 83.27h3.4M318.41 78.94V85.32M316.71 85.32h3.4M321.2 81.17V87.22M319.5 87.22h3.4M323.99 83.06V88.82M322.29 88.82h3.4M326.78 84.76V90.27M325.08 90.27h3.4M329.57 86.33V91.6M327.87 91.6h3.4M332.36 87.84V92.89M330.66 92.89h3.4M335.15 89.32V94.14M333.45 94.14h3.4M337.94 90.76V95.37M336.24 95.37h3.4M340.73 92.15V96.55M339.03 96.55h3.4M343.52 93.49V97.69M341.82 97.69h3.4M346.31 94.76V98.77M344.61 98.77h3.4M349.1 95.98V99.8M347.4 99.8h3.4" fill="none" stroke="#111" stroke-width="0.95"/>
<path d="M237.5 101.75 L240.29 79.55 L243.08 77.77 L245.87 81.03 L248.66 83.35 L251.45 84.26 L254.24 83 L257.03 80.53 L259.82 77.82 L262.61 75.55 L265.4 73.17 L268.19 70.74 L270.98 68.42 L273.77 66.37 L276.56 64.76 L279.35 63.38 L282.14 62.19 L284.93 61.3 L287.72 60.73 L290.51 60.3 L293.3 60.2 L296.09 61.41 L298.88 63.61 L301.67 65.89 L304.46 67.84 L307.25 69.87 L310.04 71.97 L312.83 74.15 L315.62 76.52 L318.41 78.94 L321.2 81.17 L323.99 83.06 L326.78 84.76 L329.57 86.33 L332.36 87.84 L335.15 89.32 L337.94 90.76 L340.73 92.15 L343.52 93.49 L346.31 94.76 L349.1 95.98" fill="none" stroke="#000" stroke-width="1.1" stroke-linejoin="round"/>
<circle cx="237.5" cy="101.75" r="1.55" class="hf"/>
<circle cx="240.29" cy="79.55" r="1.55" class="hf"/>
<circle cx="243.08" cy="77.77" r="1.55" class="hf"/>
<circle cx="245.87" cy="81.03" r="1.55" class="hf"/>
<circle cx="248.66" cy="83.35" r="1.55" class="hf"/>
<circle cx="251.45" cy="84.26" r="1.55" class="hf"/>
<circle cx="254.24" cy="83" r="1.55" class="hf"/>
<circle cx="257.03" cy="80.53" r="1.55" class="hf"/>
<circle cx="259.82" cy="77.82" r="1.55" class="hf"/>
<circle cx="262.61" cy="75.55" r="1.55" class="hf"/>
<circle cx="265.4" cy="73.17" r="1.55" class="hf"/>
<circle cx="268.19" cy="70.74" r="1.55" class="hf"/>
<circle cx="270.98" cy="68.42" r="1.55" class="hf"/>
<circle cx="273.77" cy="66.37" r="1.55" class="hf"/>
<circle cx="276.56" cy="64.76" r="1.55" class="hf"/>
<circle cx="279.35" cy="63.38" r="1.55" class="hf"/>
<circle cx="282.14" cy="62.19" r="1.55" class="hf"/>
<circle cx="284.93" cy="61.3" r="1.55" class="hf"/>
<circle cx="287.72" cy="60.73" r="1.55" class="hf"/>
<circle cx="290.51" cy="60.3" r="1.55" class="hf"/>
<circle cx="293.3" cy="60.2" r="1.55" class="hf"/>
<circle cx="296.09" cy="61.41" r="1.55" class="hf"/>
<circle cx="298.88" cy="63.61" r="1.55" class="hf"/>
<circle cx="301.67" cy="65.89" r="1.55" class="hf"/>
<circle cx="304.46" cy="67.84" r="1.55" class="hf"/>
<circle cx="307.25" cy="69.87" r="1.55" class="hf"/>
<circle cx="310.04" cy="71.97" r="1.55" class="hf"/>
<circle cx="312.83" cy="74.15" r="1.55" class="hf"/>
<circle cx="315.62" cy="76.52" r="1.55" class="hf"/>
<circle cx="318.41" cy="78.94" r="1.55" class="hf"/>
<circle cx="321.2" cy="81.17" r="1.55" class="hf"/>
<circle cx="323.99" cy="83.06" r="1.55" class="hf"/>
<circle cx="326.78" cy="84.76" r="1.55" class="hf"/>
<circle cx="329.57" cy="86.33" r="1.55" class="hf"/>
<circle cx="332.36" cy="87.84" r="1.55" class="hf"/>
<circle cx="335.15" cy="89.32" r="1.55" class="hf"/>
<circle cx="337.94" cy="90.76" r="1.55" class="hf"/>
<circle cx="340.73" cy="92.15" r="1.55" class="hf"/>
<circle cx="343.52" cy="93.49" r="1.55" class="hf"/>
<circle cx="346.31" cy="94.76" r="1.55" class="hf"/>
<circle cx="349.1" cy="95.98" r="1.55" class="hf"/>
<path d="M237.5 101.75V95.83M235.8 95.83h3.4M240.29 82.51V74.67M238.59 74.67h3.4M243.08 61.79V51.87M241.38 51.87h3.4M245.87 66.08V56.6M244.17 56.6h3.4M248.66 72.15V63.27M246.96 63.27h3.4M251.45 74.37V65.71M249.75 65.71h3.4M254.24 72.15V63.27M252.54 63.27h3.4M257.03 68.78V59.56M255.33 59.56h3.4M259.82 64.98V55.38M258.12 55.38h3.4M262.61 60.97V50.97M260.91 50.97h3.4M265.4 57.47V47.12M263.7 47.12h3.4M268.19 54.82V44.21M266.49 44.21h3.4M270.98 52.51V41.67M269.28 41.67h3.4M273.77 50.53V39.49M272.07 39.49h3.4M276.56 48.91V37.7M274.86 37.7h3.4M279.35 47.34V35.98M277.65 35.98h3.4M282.14 45.96V34.46M280.44 34.46h3.4M284.93 45.15V33.57M283.23 33.57h3.4M287.72 45.11V33.53M286.02 33.53h3.4M290.51 45.34V33.78M288.81 33.78h3.4M293.3 45.9V34.39M291.6 34.39h3.4M296.09 47.69V36.37M294.39 36.37h3.4M298.88 50.3V39.24M297.18 39.24h3.4M301.67 53.09V42.3M299.97 42.3h3.4M304.46 55.99V45.5M302.76 45.5h3.4M307.25 59.37V49.21M305.55 49.21h3.4M310.04 62.81V53M308.34 53h3.4M312.83 65.94V56.44M311.13 56.44h3.4M315.62 68.87V59.66M313.92 59.66h3.4M318.41 71.67V62.74M316.71 62.74h3.4M321.2 74.34V65.68M319.5 65.68h3.4M323.99 76.89V68.48M322.29 68.48h3.4M326.78 79.37V71.21M325.08 71.21h3.4M329.57 81.68V73.75M327.87 73.75h3.4M332.36 83.74V76.02M330.66 76.02h3.4M335.15 85.51V77.97M333.45 77.97h3.4M337.94 87.12V79.73M336.24 79.73h3.4M340.73 88.67V81.44M339.03 81.44h3.4M343.52 90.27V83.21M341.82 83.21h3.4M346.31 91.88V84.97M344.61 84.97h3.4M349.1 93.46V86.71M347.4 86.71h3.4" fill="none" stroke="#111" stroke-width="0.95"/>
<path d="M237.5 101.75 L240.29 82.51 L243.08 61.79 L245.87 66.08 L248.66 72.15 L251.45 74.37 L254.24 72.15 L257.03 68.78 L259.82 64.98 L262.61 60.97 L265.4 57.47 L268.19 54.82 L270.98 52.51 L273.77 50.53 L276.56 48.91 L279.35 47.34 L282.14 45.96 L284.93 45.15 L287.72 45.11 L290.51 45.34 L293.3 45.9 L296.09 47.69 L298.88 50.3 L301.67 53.09 L304.46 55.99 L307.25 59.37 L310.04 62.81 L312.83 65.94 L315.62 68.87 L318.41 71.67 L321.2 74.34 L323.99 76.89 L326.78 79.37 L329.57 81.68 L332.36 83.74 L335.15 85.51 L337.94 87.12 L340.73 88.67 L343.52 90.27 L346.31 91.88 L349.1 93.46" fill="none" stroke="#000" stroke-width="1.1" stroke-linejoin="round"/>
<rect x="235.9" y="100.15" width="3.2" height="3.2"/>
<rect x="238.69" y="80.91" width="3.2" height="3.2"/>
<rect x="241.48" y="60.19" width="3.2" height="3.2"/>
<rect x="244.27" y="64.48" width="3.2" height="3.2"/>
<rect x="247.06" y="70.55" width="3.2" height="3.2"/>
<rect x="249.85" y="72.77" width="3.2" height="3.2"/>
<rect x="252.64" y="70.55" width="3.2" height="3.2"/>
<rect x="255.43" y="67.18" width="3.2" height="3.2"/>
<rect x="258.22" y="63.38" width="3.2" height="3.2"/>
<rect x="261.01" y="59.37" width="3.2" height="3.2"/>
<rect x="263.8" y="55.87" width="3.2" height="3.2"/>
<rect x="266.59" y="53.22" width="3.2" height="3.2"/>
<rect x="269.38" y="50.91" width="3.2" height="3.2"/>
<rect x="272.17" y="48.93" width="3.2" height="3.2"/>
<rect x="274.96" y="47.31" width="3.2" height="3.2"/>
<rect x="277.75" y="45.74" width="3.2" height="3.2"/>
<rect x="280.54" y="44.36" width="3.2" height="3.2"/>
<rect x="283.33" y="43.55" width="3.2" height="3.2"/>
<rect x="286.12" y="43.51" width="3.2" height="3.2"/>
<rect x="288.91" y="43.74" width="3.2" height="3.2"/>
<rect x="291.7" y="44.3" width="3.2" height="3.2"/>
<rect x="294.49" y="46.09" width="3.2" height="3.2"/>
<rect x="297.28" y="48.7" width="3.2" height="3.2"/>
<rect x="300.07" y="51.49" width="3.2" height="3.2"/>
<rect x="302.86" y="54.39" width="3.2" height="3.2"/>
<rect x="305.65" y="57.77" width="3.2" height="3.2"/>
<rect x="308.44" y="61.21" width="3.2" height="3.2"/>
<rect x="311.23" y="64.34" width="3.2" height="3.2"/>
<rect x="314.02" y="67.27" width="3.2" height="3.2"/>
<rect x="316.81" y="70.07" width="3.2" height="3.2"/>
<rect x="319.6" y="72.74" width="3.2" height="3.2"/>
<rect x="322.39" y="75.29" width="3.2" height="3.2"/>
<rect x="325.18" y="77.77" width="3.2" height="3.2"/>
<rect x="327.97" y="80.08" width="3.2" height="3.2"/>
<rect x="330.76" y="82.14" width="3.2" height="3.2"/>
<rect x="333.55" y="83.91" width="3.2" height="3.2"/>
<rect x="336.34" y="85.52" width="3.2" height="3.2"/>
<rect x="339.13" y="87.07" width="3.2" height="3.2"/>
<rect x="341.92" y="88.67" width="3.2" height="3.2"/>
<rect x="344.71" y="90.28" width="3.2" height="3.2"/>
<rect x="347.5" y="91.86" width="3.2" height="3.2"/>
<circle cx="251.3" cy="3.1" r="1.35"/>
<text x="260.4" y="5.21" font-size="5.85" font-weight="bold" class="m">Control</text>
<line x1="246.8" y1="11.9" x2="255.8" y2="11.9" stroke="#000" stroke-width="1.3"/>
<rect x="249.7" y="10.3" width="3.2" height="3.2"/>
<text x="260.4" y="14.01" font-size="5.85" font-weight="bold" class="m">fMLP</text>
<line x1="246.8" y1="20.7" x2="255.8" y2="20.7" stroke="#000" stroke-width="1.3"/>
<circle cx="251.3" cy="20.7" r="1.55" class="hf"/>
<line x1="251.3" y1="18.8" x2="251.3" y2="22.6" stroke="#000" stroke-width="0.8"/>
<text x="260.4" y="22.81" font-size="5.85" font-weight="bold" class="m">fMLP + TGX-221 (40 nM)</text>
<circle cx="251.3" cy="29.5" r="1.45" class="op"/>
<text x="260.4" y="31.61" font-size="5.85" font-weight="bold" class="m">TGX-221 (40 nM)</text>
<text x="8" y="156.65" font-size="12.8" class="l">D</text>
<line x1="33" y1="179.2" x2="33" y2="251.5" stroke="#000" stroke-width="1.25"/>
<line x1="30.4" y1="251" x2="33" y2="251" stroke="#000" stroke-width="1.0"/>
<text x="30.4" y="253.12" font-size="5.9" font-weight="bold" text-anchor="end" class="m">0</text>
<line x1="30.4" y1="236.7" x2="33" y2="236.7" stroke="#000" stroke-width="1.0"/>
<text x="30.4" y="238.82" font-size="5.9" font-weight="bold" text-anchor="end" class="m">100</text>
<line x1="30.4" y1="222.4" x2="33" y2="222.4" stroke="#000" stroke-width="1.0"/>
<text x="30.4" y="224.52" font-size="5.9" font-weight="bold" text-anchor="end" class="m">200</text>
<line x1="30.4" y1="208.1" x2="33" y2="208.1" stroke="#000" stroke-width="1.0"/>
<text x="30.4" y="210.22" font-size="5.9" font-weight="bold" text-anchor="end" class="m">300</text>
<line x1="30.4" y1="193.8" x2="33" y2="193.8" stroke="#000" stroke-width="1.0"/>
<text x="30.4" y="195.92" font-size="5.9" font-weight="bold" text-anchor="end" class="m">400</text>
<line x1="30.4" y1="179.5" x2="33" y2="179.5" stroke="#000" stroke-width="1.0"/>
<text x="30.4" y="181.62" font-size="5.9" font-weight="bold" text-anchor="end" class="m">500</text>
<line x1="32.5" y1="251" x2="140.7" y2="251" stroke="#000" stroke-width="1.25"/>
<line x1="33" y1="251" x2="33" y2="253.2" stroke="#000" stroke-width="0.9"/>
<text x="33" y="259.72" font-size="5.9" font-weight="bold" text-anchor="middle" class="m">0</text>
<line x1="59.85" y1="251" x2="59.85" y2="253.2" stroke="#000" stroke-width="0.9"/>
<text x="59.85" y="259.72" font-size="5.9" font-weight="bold" text-anchor="middle" class="m">10</text>
<line x1="86.7" y1="251" x2="86.7" y2="253.2" stroke="#000" stroke-width="0.9"/>
<text x="86.7" y="259.72" font-size="5.9" font-weight="bold" text-anchor="middle" class="m">20</text>
<line x1="113.55" y1="251" x2="113.55" y2="253.2" stroke="#000" stroke-width="0.9"/>
<text x="113.55" y="259.72" font-size="5.9" font-weight="bold" text-anchor="middle" class="m">30</text>
<line x1="140.4" y1="251" x2="140.4" y2="253.2" stroke="#000" stroke-width="0.9"/>
<text x="140.4" y="259.72" font-size="5.9" font-weight="bold" text-anchor="middle" class="m">40</text>
<text x="65.1" y="272.3" font-size="8.8" font-weight="bold" class="h">Time (min)</text>
<text x="0" y="0" font-size="9" font-weight="bold" text-anchor="middle" class="h" transform="translate(5.6,213.5) rotate(-90)">cps</text>
<path d="M35.69 250.79V250.69M33.98 250.69h3.4M35.69 250.79V250.9M33.98 250.9h3.4M38.37 250.58V250.36M36.67 250.36h3.4M38.37 250.58V250.79M36.67 250.79h3.4M41.05 250.35V250.02M39.35 250.02h3.4M41.05 250.35V250.67M39.35 250.67h3.4M43.74 250.11V249.66M42.04 249.66h3.4M43.74 250.11V250.55M42.04 250.55h3.4M46.42 249.86V249.28M44.72 249.28h3.4M46.42 249.86V250.43M44.72 250.43h3.4M49.11 249.57V248.86M47.41 248.86h3.4M49.11 249.57V250.29M47.41 250.29h3.4M51.8 249.25V248.37M50.09 248.37h3.4M51.8 249.25V250.12M50.09 250.12h3.4M54.48 248.93V247.89M52.78 247.89h3.4M54.48 248.93V249.96M52.78 249.96h3.4M57.16 248.64V247.46M55.46 247.46h3.4M57.16 248.64V249.82M55.46 249.82h3.4M59.85 248.43V247.14M58.15 247.14h3.4M59.85 248.43V249.71M58.15 249.71h3.4M62.53 248.28V246.92M60.83 246.92h3.4M62.53 248.28V249.64M60.83 249.64h3.4M65.22 248.15V246.73M63.52 246.73h3.4M65.22 248.15V249.58M63.52 249.58h3.4M67.91 248.05V246.57M66.2 246.57h3.4M67.91 248.05V249.52M66.2 249.52h3.4M70.59 247.95V246.43M68.89 246.43h3.4M70.59 247.95V249.48M68.89 249.48h3.4M73.28 247.85V246.28M71.58 246.28h3.4M73.28 247.85V249.43M71.58 249.43h3.4M75.96 247.75V246.12M74.26 246.12h3.4M75.96 247.75V249.37M74.26 249.37h3.4M78.65 247.63V245.95M76.95 245.95h3.4M78.65 247.63V249.32M76.95 249.32h3.4M81.33 247.53V245.79M79.63 245.79h3.4M81.33 247.53V249.26M79.63 249.26h3.4M84.02 247.45V245.68M82.31 245.68h3.4M84.02 247.45V249.23M82.31 249.23h3.4M86.7 247.43V245.64M85 245.64h3.4M86.7 247.43V249.21M85 249.21h3.4M89.38 247.43V245.64M87.68 245.64h3.4M89.38 247.43V249.21M87.68 249.21h3.4M92.07 247.43V245.64M90.37 245.64h3.4M92.07 247.43V249.21M90.37 249.21h3.4M94.75 247.43V245.64M93.05 245.64h3.4M94.75 247.43V249.21M93.05 249.21h3.4M97.44 247.43V245.64M95.74 245.64h3.4M97.44 247.43V249.21M95.74 249.21h3.4M100.12 247.43V245.64M98.42 245.64h3.4M100.12 247.43V249.21M98.42 249.21h3.4M102.81 247.43V245.65M101.11 245.65h3.4M102.81 247.43V249.22M101.11 249.22h3.4M105.5 247.46V245.69M103.8 245.69h3.4M105.5 247.46V249.23M103.8 249.23h3.4M108.18 247.49V245.74M106.48 245.74h3.4M108.18 247.49V249.25M106.48 249.25h3.4M110.86 247.53V245.79M109.16 245.79h3.4M110.86 247.53V249.26M109.16 249.26h3.4M113.55 247.57V245.85M111.85 245.85h3.4M113.55 247.57V249.28M111.85 249.28h3.4M116.23 247.61V245.92M114.53 245.92h3.4M116.23 247.61V249.31M114.53 249.31h3.4M118.92 247.67V246M117.22 246h3.4M118.92 247.67V249.33M117.22 249.33h3.4M121.61 247.73V246.1M119.91 246.1h3.4M121.61 247.73V249.37M119.91 249.37h3.4M124.29 247.79V246.19M122.59 246.19h3.4M124.29 247.79V249.4M122.59 249.4h3.4M126.98 247.85V246.28M125.28 246.28h3.4M126.98 247.85V249.43M125.28 249.43h3.4M129.66 247.91V246.37M127.96 246.37h3.4M129.66 247.91V249.46M127.96 249.46h3.4M132.34 247.97V246.45M130.65 246.45h3.4M132.34 247.97V249.48M130.65 249.48h3.4M135.03 248.03V246.54M133.33 246.54h3.4M135.03 248.03V249.51M133.33 249.51h3.4M137.72 248.08V246.62M136.02 246.62h3.4M137.72 248.08V249.54M136.02 249.54h3.4M140.4 248.14V246.71M138.7 246.71h3.4M140.4 248.14V249.57M138.7 249.57h3.4" fill="none" stroke="#111" stroke-width="0.95"/>
<path d="M33 251 L35.69 250.79 L38.37 250.58 L41.05 250.35 L43.74 250.11 L46.42 249.86 L49.11 249.57 L51.8 249.25 L54.48 248.93 L57.16 248.64 L59.85 248.43 L62.53 248.28 L65.22 248.15 L67.91 248.05 L70.59 247.95 L73.28 247.85 L75.96 247.75 L78.65 247.63 L81.33 247.53 L84.02 247.45 L86.7 247.43 L89.38 247.43 L92.07 247.43 L94.75 247.43 L97.44 247.43 L100.12 247.43 L102.81 247.43 L105.5 247.46 L108.18 247.49 L110.86 247.53 L113.55 247.57 L116.23 247.61 L118.92 247.67 L121.61 247.73 L124.29 247.79 L126.98 247.85 L129.66 247.91 L132.34 247.97 L135.03 248.03 L137.72 248.08 L140.4 248.14" fill="none" stroke="#000" stroke-width="2.5" stroke-linejoin="round"/>
<circle cx="33" cy="251" r="1.7"/>
<circle cx="35.69" cy="250.79" r="1.7"/>
<circle cx="38.37" cy="250.58" r="1.7"/>
<circle cx="41.05" cy="250.35" r="1.7"/>
<circle cx="43.74" cy="250.11" r="1.7"/>
<circle cx="46.42" cy="249.86" r="1.7"/>
<circle cx="49.11" cy="249.57" r="1.7"/>
<circle cx="51.8" cy="249.25" r="1.7"/>
<circle cx="54.48" cy="248.93" r="1.7"/>
<circle cx="57.16" cy="248.64" r="1.7"/>
<circle cx="59.85" cy="248.43" r="1.7"/>
<circle cx="62.53" cy="248.28" r="1.7"/>
<circle cx="65.22" cy="248.15" r="1.7"/>
<circle cx="67.91" cy="248.05" r="1.7"/>
<circle cx="70.59" cy="247.95" r="1.7"/>
<circle cx="73.28" cy="247.85" r="1.7"/>
<circle cx="75.96" cy="247.75" r="1.7"/>
<circle cx="78.65" cy="247.63" r="1.7"/>
<circle cx="81.33" cy="247.53" r="1.7"/>
<circle cx="84.02" cy="247.45" r="1.7"/>
<circle cx="86.7" cy="247.43" r="1.7"/>
<circle cx="89.38" cy="247.43" r="1.7"/>
<circle cx="92.07" cy="247.43" r="1.7"/>
<circle cx="94.75" cy="247.43" r="1.7"/>
<circle cx="97.44" cy="247.43" r="1.7"/>
<circle cx="100.12" cy="247.43" r="1.7"/>
<circle cx="102.81" cy="247.43" r="1.7"/>
<circle cx="105.5" cy="247.46" r="1.7"/>
<circle cx="108.18" cy="247.49" r="1.7"/>
<circle cx="110.86" cy="247.53" r="1.7"/>
<circle cx="113.55" cy="247.57" r="1.7"/>
<circle cx="116.23" cy="247.61" r="1.7"/>
<circle cx="118.92" cy="247.67" r="1.7"/>
<circle cx="121.61" cy="247.73" r="1.7"/>
<circle cx="124.29" cy="247.79" r="1.7"/>
<circle cx="126.98" cy="247.85" r="1.7"/>
<circle cx="129.66" cy="247.91" r="1.7"/>
<circle cx="132.34" cy="247.97" r="1.7"/>
<circle cx="135.03" cy="248.03" r="1.7"/>
<circle cx="137.72" cy="248.08" r="1.7"/>
<circle cx="140.4" cy="248.14" r="1.7"/>
<path d="M35.69 250.63V250.51M33.98 250.51h3.4M35.69 250.63V250.74M33.98 250.74h3.4M38.37 250.22V249.99M36.67 249.99h3.4M38.37 250.22V250.46M36.67 250.46h3.4M41.05 249.79V249.43M39.35 249.43h3.4M41.05 249.79V250.15M39.35 250.15h3.4M43.74 249.33V248.84M42.04 248.84h3.4M43.74 249.33V249.83M42.04 249.83h3.4M46.42 248.85V248.21M44.72 248.21h3.4M46.42 248.85V249.5M44.72 249.5h3.4M49.11 248.32V247.51M47.41 247.51h3.4M49.11 248.32V249.12M47.41 249.12h3.4M51.8 247.71V246.73M50.09 246.73h3.4M51.8 247.71V248.7M50.09 248.7h3.4M54.48 247.09V245.92M52.78 245.92h3.4M54.48 247.09V248.26M52.78 248.26h3.4M57.16 246.5V245.15M55.46 245.15h3.4M57.16 246.5V247.85M55.46 247.85h3.4M59.85 246V244.49M58.15 244.49h3.4M59.85 246V247.5M58.15 247.5h3.4M62.53 245.55V243.92M60.83 243.92h3.4M62.53 245.55V247.19M60.83 247.19h3.4M65.22 245.14V243.38M63.52 243.38h3.4M65.22 245.14V246.9M63.52 246.9h3.4M67.91 244.76V242.89M66.2 242.89h3.4M67.91 244.76V246.63M66.2 246.63h3.4M70.59 244.42V242.45M68.89 242.45h3.4M70.59 244.42V246.4M68.89 246.4h3.4M73.28 244.14V242.08M71.58 242.08h3.4M73.28 244.14V246.2M71.58 246.2h3.4M75.96 243.88V241.74M74.26 241.74h3.4M75.96 243.88V246.02M74.26 246.02h3.4M78.65 243.64V241.43M76.95 241.43h3.4M78.65 243.64V245.85M76.95 245.85h3.4M81.33 243.43V241.15M79.63 241.15h3.4M81.33 243.43V245.7M79.63 245.7h3.4M84.02 243.25V240.93M82.31 240.93h3.4M84.02 243.25V245.58M82.31 245.58h3.4M86.7 243.13V240.78M85 240.78h3.4M86.7 243.13V245.49M85 245.49h3.4M89.38 243.05V240.66M87.68 240.66h3.4M89.38 243.05V245.43M87.68 245.43h3.4M92.07 242.97V240.56M90.37 240.56h3.4M92.07 242.97V245.38M90.37 245.38h3.4M94.75 242.91V240.48M93.05 240.48h3.4M94.75 242.91V245.33M93.05 245.33h3.4M97.44 242.86V240.42M95.74 240.42h3.4M97.44 242.86V245.31M95.74 245.31h3.4M100.12 242.85V240.4M98.42 240.4h3.4M100.12 242.85V245.29M98.42 245.29h3.4M102.81 242.86V240.42M101.11 240.42h3.4M102.81 242.86V245.3M101.11 245.3h3.4M105.5 242.89V240.45M103.8 240.45h3.4M105.5 242.89V245.32M103.8 245.32h3.4M108.18 242.92V240.5M106.48 240.5h3.4M108.18 242.92V245.34M106.48 245.34h3.4M110.86 242.96V240.55M109.16 240.55h3.4M110.86 242.96V245.37M109.16 245.37h3.4M113.55 242.99V240.59M111.85 240.59h3.4M113.55 242.99V245.39M111.85 245.39h3.4M116.23 243.02V240.62M114.53 240.62h3.4M116.23 243.02V245.41M114.53 245.41h3.4M118.92 243.04V240.66M117.22 240.66h3.4M118.92 243.04V245.43M117.22 245.43h3.4M121.61 243.07V240.69M119.91 240.69h3.4M121.61 243.07V245.45M119.91 245.45h3.4M124.29 243.1V240.73M122.59 240.73h3.4M124.29 243.1V245.47M122.59 245.47h3.4M126.98 243.13V240.78M125.28 240.78h3.4M126.98 243.13V245.49M125.28 245.49h3.4M129.66 243.19V240.85M127.96 240.85h3.4M129.66 243.19V245.53M127.96 245.53h3.4M132.34 243.26V240.94M130.65 240.94h3.4M132.34 243.26V245.58M130.65 245.58h3.4M135.03 243.35V241.06M133.33 241.06h3.4M135.03 243.35V245.65M133.33 245.65h3.4M137.72 243.45V241.19M136.02 241.19h3.4M137.72 243.45V245.72M136.02 245.72h3.4M140.4 243.56V241.33M138.7 241.33h3.4M140.4 243.56V245.79M138.7 245.79h3.4" fill="none" stroke="#111" stroke-width="0.95"/>
<path d="M33 251 L35.69 250.63 L38.37 250.22 L41.05 249.79 L43.74 249.33 L46.42 248.85 L49.11 248.32 L51.8 247.71 L54.48 247.09 L57.16 246.5 L59.85 246 L62.53 245.55 L65.22 245.14 L67.91 244.76 L70.59 244.42 L73.28 244.14 L75.96 243.88 L78.65 243.64 L81.33 243.43 L84.02 243.25 L86.7 243.13 L89.38 243.05 L92.07 242.97 L94.75 242.91 L97.44 242.86 L100.12 242.85 L102.81 242.86 L105.5 242.89 L108.18 242.92 L110.86 242.96 L113.55 242.99 L116.23 243.02 L118.92 243.04 L121.61 243.07 L124.29 243.1 L126.98 243.13 L129.66 243.19 L132.34 243.26 L135.03 243.35 L137.72 243.45 L140.4 243.56" fill="none" stroke="#000" stroke-width="1.1" stroke-linejoin="round"/>
<circle cx="33" cy="251" r="1.55" class="hf"/>
<circle cx="35.69" cy="250.63" r="1.55" class="hf"/>
<circle cx="38.37" cy="250.22" r="1.55" class="hf"/>
<circle cx="41.05" cy="249.79" r="1.55" class="hf"/>
<circle cx="43.74" cy="249.33" r="1.55" class="hf"/>
<circle cx="46.42" cy="248.85" r="1.55" class="hf"/>
<circle cx="49.11" cy="248.32" r="1.55" class="hf"/>
<circle cx="51.8" cy="247.71" r="1.55" class="hf"/>
<circle cx="54.48" cy="247.09" r="1.55" class="hf"/>
<circle cx="57.16" cy="246.5" r="1.55" class="hf"/>
<circle cx="59.85" cy="246" r="1.55" class="hf"/>
<circle cx="62.53" cy="245.55" r="1.55" class="hf"/>
<circle cx="65.22" cy="245.14" r="1.55" class="hf"/>
<circle cx="67.91" cy="244.76" r="1.55" class="hf"/>
<circle cx="70.59" cy="244.42" r="1.55" class="hf"/>
<circle cx="73.28" cy="244.14" r="1.55" class="hf"/>
<circle cx="75.96" cy="243.88" r="1.55" class="hf"/>
<circle cx="78.65" cy="243.64" r="1.55" class="hf"/>
<circle cx="81.33" cy="243.43" r="1.55" class="hf"/>
<circle cx="84.02" cy="243.25" r="1.55" class="hf"/>
<circle cx="86.7" cy="243.13" r="1.55" class="hf"/>
<circle cx="89.38" cy="243.05" r="1.55" class="hf"/>
<circle cx="92.07" cy="242.97" r="1.55" class="hf"/>
<circle cx="94.75" cy="242.91" r="1.55" class="hf"/>
<circle cx="97.44" cy="242.86" r="1.55" class="hf"/>
<circle cx="100.12" cy="242.85" r="1.55" class="hf"/>
<circle cx="102.81" cy="242.86" r="1.55" class="hf"/>
<circle cx="105.5" cy="242.89" r="1.55" class="hf"/>
<circle cx="108.18" cy="242.92" r="1.55" class="hf"/>
<circle cx="110.86" cy="242.96" r="1.55" class="hf"/>
<circle cx="113.55" cy="242.99" r="1.55" class="hf"/>
<circle cx="116.23" cy="243.02" r="1.55" class="hf"/>
<circle cx="118.92" cy="243.04" r="1.55" class="hf"/>
<circle cx="121.61" cy="243.07" r="1.55" class="hf"/>
<circle cx="124.29" cy="243.1" r="1.55" class="hf"/>
<circle cx="126.98" cy="243.13" r="1.55" class="hf"/>
<circle cx="129.66" cy="243.19" r="1.55" class="hf"/>
<circle cx="132.34" cy="243.26" r="1.55" class="hf"/>
<circle cx="135.03" cy="243.35" r="1.55" class="hf"/>
<circle cx="137.72" cy="243.45" r="1.55" class="hf"/>
<circle cx="140.4" cy="243.56" r="1.55" class="hf"/>
<path d="M51.8 245.28V243.02M50.09 243.02h3.4M51.8 245.28V247.54M50.09 247.54h3.4M54.48 242.96V240.07M52.78 240.07h3.4M54.48 242.96V245.84M52.78 245.84h3.4M57.16 240.57V237.04M55.46 237.04h3.4M57.16 240.57V244.1M55.46 244.1h3.4M59.85 238.35V234.22M58.15 234.22h3.4M59.85 238.35V242.48M58.15 242.48h3.4M62.53 235.52V230.63M60.83 230.63h3.4M62.53 235.52V240.42M60.83 240.42h3.4M65.22 232.12V226.31M63.52 226.31h3.4M65.22 232.12V237.94M63.52 237.94h3.4M67.91 228.12V221.23M66.2 221.23h3.4M67.91 228.12V235.01M66.2 235.01h3.4M70.59 223.69V215.6M68.89 215.6h3.4M70.59 223.69V231.78M68.89 231.78h3.4M73.28 218.97V209.6M71.58 209.6h3.4M73.28 218.97V228.33M71.58 228.33h3.4M75.96 216.87V206.94M74.26 206.94h3.4M75.96 216.87V226.8M74.26 226.8h3.4M78.65 214.96V204.52M76.95 204.52h3.4M78.65 214.96V225.41M76.95 225.41h3.4M81.33 211.55V200.18M79.63 200.18h3.4M81.33 211.55V222.92M79.63 222.92h3.4M84.02 209.02V196.97M82.31 196.97h3.4M84.02 209.02V221.07M82.31 221.07h3.4M86.7 207.49V195.03M85 195.03h3.4M86.7 207.49V219.95M85 219.95h3.4M89.38 206.62V193.92M87.68 193.92h3.4M89.38 206.62V219.32M87.68 219.32h3.4M92.07 205.47V192.46M90.37 192.46h3.4M92.07 205.47V218.48M90.37 218.48h3.4M94.75 203.89V190.45M93.05 190.45h3.4M94.75 203.89V217.32M93.05 217.32h3.4M97.44 202.64V188.87M95.74 188.87h3.4M97.44 202.64V216.41M95.74 216.41h3.4M100.12 202.41V188.57M98.42 188.57h3.4M100.12 202.41V216.24M98.42 216.24h3.4M102.81 202.7V188.94M101.11 188.94h3.4M102.81 202.7V216.46M101.11 216.46h3.4M105.5 203.24V189.64M103.8 189.64h3.4M105.5 203.24V216.85M103.8 216.85h3.4M108.18 203.96V190.55M106.48 190.55h3.4M108.18 203.96V217.38M106.48 217.38h3.4M110.86 204.78V191.58M109.16 191.58h3.4M110.86 204.78V217.97M109.16 217.97h3.4M113.55 205.61V192.64M111.85 192.64h3.4M113.55 205.61V218.58M111.85 218.58h3.4M116.23 206.59V193.89M114.53 193.89h3.4M116.23 206.59V219.3M114.53 219.3h3.4M118.92 207.8V195.42M117.22 195.42h3.4M118.92 207.8V220.18M117.22 220.18h3.4M121.61 209.18V197.18M119.91 197.18h3.4M121.61 209.18V221.19M119.91 221.19h3.4M124.29 210.67V199.07M122.59 199.07h3.4M124.29 210.67V222.28M122.59 222.28h3.4M126.98 212.21V201.03M125.28 201.03h3.4M126.98 212.21V223.4M125.28 223.4h3.4M129.66 213.79V203.03M127.96 203.03h3.4M129.66 213.79V224.55M127.96 224.55h3.4M132.34 215.49V205.19M130.65 205.19h3.4M132.34 215.49V225.79M130.65 225.79h3.4M135.03 217.31V207.5M133.33 207.5h3.4M135.03 217.31V227.12M133.33 227.12h3.4M137.72 219.24V209.95M136.02 209.95h3.4M137.72 219.24V228.53M136.02 228.53h3.4M140.4 221.26V212.51M138.7 212.51h3.4M140.4 221.26V230M138.7 230h3.4" fill="none" stroke="#111" stroke-width="0.95"/>
<circle cx="33" cy="251" r="1.7"/>
<circle cx="35.69" cy="250.9" r="1.7"/>
<circle cx="38.37" cy="250.61" r="1.7"/>
<circle cx="41.05" cy="250.16" r="1.7"/>
<circle cx="43.74" cy="249.56" r="1.7"/>
<circle cx="46.42" cy="248.85" r="1.7"/>
<circle cx="49.11" cy="247.39" r="1.7"/>
<circle cx="51.8" cy="245.28" r="1.7"/>
<circle cx="54.48" cy="242.96" r="1.7"/>
<circle cx="57.16" cy="240.57" r="1.7"/>
<circle cx="59.85" cy="238.35" r="1.7"/>
<circle cx="62.53" cy="235.52" r="1.7"/>
<circle cx="65.22" cy="232.12" r="1.7"/>
<circle cx="67.91" cy="228.12" r="1.7"/>
<circle cx="70.59" cy="223.69" r="1.7"/>
<circle cx="73.28" cy="218.97" r="1.7"/>
<circle cx="75.96" cy="216.87" r="1.7"/>
<circle cx="78.65" cy="214.96" r="1.7"/>
<circle cx="81.33" cy="211.55" r="1.7"/>
<circle cx="84.02" cy="209.02" r="1.7"/>
<circle cx="86.7" cy="207.49" r="1.7"/>
<circle cx="89.38" cy="206.62" r="1.7"/>
<circle cx="92.07" cy="205.47" r="1.7"/>
<circle cx="94.75" cy="203.89" r="1.7"/>
<circle cx="97.44" cy="202.64" r="1.7"/>
<circle cx="100.12" cy="202.41" r="1.7"/>
<circle cx="102.81" cy="202.7" r="1.7"/>
<circle cx="105.5" cy="203.24" r="1.7"/>
<circle cx="108.18" cy="203.96" r="1.7"/>
<circle cx="110.86" cy="204.78" r="1.7"/>
<circle cx="113.55" cy="205.61" r="1.7"/>
<circle cx="116.23" cy="206.59" r="1.7"/>
<circle cx="118.92" cy="207.8" r="1.7"/>
<circle cx="121.61" cy="209.18" r="1.7"/>
<circle cx="124.29" cy="210.67" r="1.7"/>
<circle cx="126.98" cy="212.21" r="1.7"/>
<circle cx="129.66" cy="213.79" r="1.7"/>
<circle cx="132.34" cy="215.49" r="1.7"/>
<circle cx="135.03" cy="217.31" r="1.7"/>
<circle cx="137.72" cy="219.24" r="1.7"/>
<circle cx="140.4" cy="221.26" r="1.7"/>
<circle cx="72.7" cy="152.3" r="1.35"/>
<text x="80.4" y="154.35" font-size="5.7" font-weight="bold" class="m">Control</text>
<rect x="71.1" y="159.2" width="3.2" height="3.2"/>
<text x="81.98" y="162.85" font-size="5.7" font-weight="bold" class="m">TNF</text>
<line x1="68.2" y1="169.3" x2="77.2" y2="169.3" stroke="#000" stroke-width="1.3"/>
<circle cx="72.7" cy="169.3" r="1.55" class="hf"/>
<line x1="72.7" y1="167.4" x2="72.7" y2="171.2" stroke="#000" stroke-width="0.8"/>
<text x="80.4" y="171.35" font-size="5.7" font-weight="bold" class="m">TNF + Compound 15e (0.1 &#956;M)</text>
<circle cx="72.7" cy="177.8" r="1.45" class="op"/>
<text x="80.4" y="179.85" font-size="5.7" font-weight="bold" class="m">Compound 15e (0.1 &#956;M)</text>
<text x="211.46" y="157.05" font-size="12.8" class="l">E</text>
<line x1="237.6" y1="176.95" x2="237.6" y2="251.35" stroke="#000" stroke-width="1.25"/>
<line x1="235" y1="250.85" x2="237.6" y2="250.85" stroke="#000" stroke-width="1.0"/>
<text x="235" y="252.9" font-size="5.7" text-anchor="end" fill="#111">0</text>
<line x1="235" y1="232.45" x2="237.6" y2="232.45" stroke="#000" stroke-width="1.0"/>
<text x="235" y="234.5" font-size="5.7" text-anchor="end" fill="#111">100</text>
<line x1="235" y1="214.05" x2="237.6" y2="214.05" stroke="#000" stroke-width="1.0"/>
<text x="235" y="216.1" font-size="5.7" text-anchor="end" fill="#111">200</text>
<line x1="235" y1="195.65" x2="237.6" y2="195.65" stroke="#000" stroke-width="1.0"/>
<text x="235" y="197.7" font-size="5.7" text-anchor="end" fill="#111">300</text>
<line x1="235" y1="177.25" x2="237.6" y2="177.25" stroke="#000" stroke-width="1.0"/>
<text x="235" y="179.3" font-size="5.7" text-anchor="end" fill="#111">400</text>
<line x1="237.1" y1="250.85" x2="347.9" y2="250.85" stroke="#000" stroke-width="1.25"/>
<line x1="237.6" y1="250.85" x2="237.6" y2="253.05" stroke="#000" stroke-width="0.9"/>
<text x="237.6" y="259.5" font-size="5.7" text-anchor="middle" fill="#111">0</text>
<line x1="265.1" y1="250.85" x2="265.1" y2="253.05" stroke="#000" stroke-width="0.9"/>
<text x="265.1" y="259.5" font-size="5.7" text-anchor="middle" fill="#111">10</text>
<line x1="292.6" y1="250.85" x2="292.6" y2="253.05" stroke="#000" stroke-width="0.9"/>
<text x="292.6" y="259.5" font-size="5.7" text-anchor="middle" fill="#111">20</text>
<line x1="320.1" y1="250.85" x2="320.1" y2="253.05" stroke="#000" stroke-width="0.9"/>
<text x="320.1" y="259.5" font-size="5.7" text-anchor="middle" fill="#111">30</text>
<line x1="347.6" y1="250.85" x2="347.6" y2="253.05" stroke="#000" stroke-width="0.9"/>
<text x="347.6" y="259.5" font-size="5.7" text-anchor="middle" fill="#111">40</text>
<text x="271.3" y="272.5" font-size="8.9" font-weight="bold" class="h">Time (min)</text>
<text x="0" y="0" font-size="9" font-weight="bold" text-anchor="middle" class="h" transform="translate(210.3,213.4) rotate(-90)">cps</text>
<path d="M240.35 250.58V250.47M238.65 250.47h3.4M240.35 250.58V250.69M238.65 250.69h3.4M243.1 250.33V250.13M241.4 250.13h3.4M243.1 250.33V250.54M241.4 250.54h3.4M245.85 250.11V249.81M244.15 249.81h3.4M245.85 250.11V250.4M244.15 250.4h3.4M248.6 249.91V249.54M246.9 249.54h3.4M248.6 249.91V250.29M246.9 250.29h3.4M251.35 249.75V249.3M249.65 249.3h3.4M251.35 249.75V250.19M249.65 250.19h3.4M254.1 249.6V249.11M252.4 249.11h3.4M254.1 249.6V250.1M252.4 250.1h3.4M256.85 249.47V248.92M255.15 248.92h3.4M256.85 249.47V250.02M255.15 250.02h3.4M259.6 249.36V248.76M257.9 248.76h3.4M259.6 249.36V249.96M257.9 249.96h3.4M262.35 249.27V248.63M260.65 248.63h3.4M262.35 249.27V249.9M260.65 249.9h3.4M265.1 249.19V248.53M263.4 248.53h3.4M265.1 249.19V249.86M263.4 249.86h3.4M267.85 249.14V248.45M266.15 248.45h3.4M267.85 249.14V249.82M266.15 249.82h3.4M270.6 249.08V248.37M268.9 248.37h3.4M270.6 249.08V249.79M268.9 249.79h3.4M273.35 249.03V248.3M271.65 248.3h3.4M273.35 249.03V249.76M271.65 249.76h3.4M276.1 248.98V248.23M274.4 248.23h3.4M276.1 248.98V249.73M274.4 249.73h3.4M278.85 248.94V248.17M277.15 248.17h3.4M278.85 248.94V249.7M277.15 249.7h3.4M281.6 248.9V248.12M279.9 248.12h3.4M281.6 248.9V249.68M279.9 249.68h3.4M284.35 248.87V248.08M282.65 248.08h3.4M284.35 248.87V249.66M282.65 249.66h3.4M287.1 248.85V248.04M285.4 248.04h3.4M287.1 248.85V249.65M285.4 249.65h3.4M289.85 248.83V248.02M288.15 248.02h3.4M289.85 248.83V249.64M288.15 249.64h3.4M292.6 248.83V248.02M290.9 248.02h3.4M292.6 248.83V249.64M290.9 249.64h3.4M295.35 248.83V248.02M293.65 248.02h3.4M295.35 248.83V249.64M293.65 249.64h3.4M298.1 248.84V248.03M296.4 248.03h3.4M298.1 248.84V249.64M296.4 249.64h3.4M300.85 248.85V248.06M299.15 248.06h3.4M300.85 248.85V249.65M299.15 249.65h3.4M303.6 248.87V248.08M301.9 248.08h3.4M303.6 248.87V249.66M301.9 249.66h3.4M306.35 248.89V248.11M304.65 248.11h3.4M306.35 248.89V249.68M304.65 249.68h3.4M309.1 248.92V248.15M307.4 248.15h3.4M309.1 248.92V249.69M307.4 249.69h3.4M311.85 248.94V248.18M310.15 248.18h3.4M311.85 248.94V249.71M310.15 249.71h3.4M314.6 248.97V248.21M312.9 248.21h3.4M314.6 248.97V249.72M312.9 249.72h3.4M317.35 248.99V248.25M315.65 248.25h3.4M317.35 248.99V249.73M315.65 249.73h3.4M320.1 249.01V248.27M318.4 248.27h3.4M320.1 249.01V249.75M318.4 249.75h3.4M322.85 249.03V248.3M321.15 248.3h3.4M322.85 249.03V249.76M321.15 249.76h3.4M325.6 249.05V248.33M323.9 248.33h3.4M325.6 249.05V249.77M323.9 249.77h3.4M328.35 249.07V248.35M326.65 248.35h3.4M328.35 249.07V249.78M326.65 249.78h3.4M331.1 249.08V248.38M329.4 248.38h3.4M331.1 249.08V249.79M329.4 249.79h3.4M333.85 249.1V248.4M332.15 248.4h3.4M333.85 249.1V249.8M332.15 249.8h3.4M336.6 249.12V248.43M334.9 248.43h3.4M336.6 249.12V249.81M334.9 249.81h3.4M339.35 249.14V248.45M337.65 248.45h3.4M339.35 249.14V249.82M337.65 249.82h3.4M342.1 249.16V248.48M340.4 248.48h3.4M342.1 249.16V249.83M340.4 249.83h3.4M344.85 249.18V248.51M343.15 248.51h3.4M344.85 249.18V249.85M343.15 249.85h3.4M347.6 249.19V248.53M345.9 248.53h3.4M347.6 249.19V249.86M345.9 249.86h3.4" fill="none" stroke="#111" stroke-width="0.95"/>
<path d="M237.6 250.85 L240.35 250.58 L243.1 250.33 L245.85 250.11 L248.6 249.91 L251.35 249.75 L254.1 249.6 L256.85 249.47 L259.6 249.36 L262.35 249.27 L265.1 249.19 L267.85 249.14 L270.6 249.08 L273.35 249.03 L276.1 248.98 L278.85 248.94 L281.6 248.9 L284.35 248.87 L287.1 248.85 L289.85 248.83 L292.6 248.83 L295.35 248.83 L298.1 248.84 L300.85 248.85 L303.6 248.87 L306.35 248.89 L309.1 248.92 L311.85 248.94 L314.6 248.97 L317.35 248.99 L320.1 249.01 L322.85 249.03 L325.6 249.05 L328.35 249.07 L331.1 249.08 L333.85 249.1 L336.6 249.12 L339.35 249.14 L342.1 249.16 L344.85 249.18 L347.6 249.19" fill="none" stroke="#000" stroke-width="2.2" stroke-linejoin="round"/>
<circle cx="237.6" cy="250.85" r="1.7"/>
<circle cx="240.35" cy="250.58" r="1.7"/>
<circle cx="243.1" cy="250.33" r="1.7"/>
<circle cx="245.85" cy="250.11" r="1.7"/>
<circle cx="248.6" cy="249.91" r="1.7"/>
<circle cx="251.35" cy="249.75" r="1.7"/>
<circle cx="254.1" cy="249.6" r="1.7"/>
<circle cx="256.85" cy="249.47" r="1.7"/>
<circle cx="259.6" cy="249.36" r="1.7"/>
<circle cx="262.35" cy="249.27" r="1.7"/>
<circle cx="265.1" cy="249.19" r="1.7"/>
<circle cx="267.85" cy="249.14" r="1.7"/>
<circle cx="270.6" cy="249.08" r="1.7"/>
<circle cx="273.35" cy="249.03" r="1.7"/>
<circle cx="276.1" cy="248.98" r="1.7"/>
<circle cx="278.85" cy="248.94" r="1.7"/>
<circle cx="281.6" cy="248.9" r="1.7"/>
<circle cx="284.35" cy="248.87" r="1.7"/>
<circle cx="287.1" cy="248.85" r="1.7"/>
<circle cx="289.85" cy="248.83" r="1.7"/>
<circle cx="292.6" cy="248.83" r="1.7"/>
<circle cx="295.35" cy="248.83" r="1.7"/>
<circle cx="298.1" cy="248.84" r="1.7"/>
<circle cx="300.85" cy="248.85" r="1.7"/>
<circle cx="303.6" cy="248.87" r="1.7"/>
<circle cx="306.35" cy="248.89" r="1.7"/>
<circle cx="309.1" cy="248.92" r="1.7"/>
<circle cx="311.85" cy="248.94" r="1.7"/>
<circle cx="314.6" cy="248.97" r="1.7"/>
<circle cx="317.35" cy="248.99" r="1.7"/>
<circle cx="320.1" cy="249.01" r="1.7"/>
<circle cx="322.85" cy="249.03" r="1.7"/>
<circle cx="325.6" cy="249.05" r="1.7"/>
<circle cx="328.35" cy="249.07" r="1.7"/>
<circle cx="331.1" cy="249.08" r="1.7"/>
<circle cx="333.85" cy="249.1" r="1.7"/>
<circle cx="336.6" cy="249.12" r="1.7"/>
<circle cx="339.35" cy="249.14" r="1.7"/>
<circle cx="342.1" cy="249.16" r="1.7"/>
<circle cx="344.85" cy="249.18" r="1.7"/>
<circle cx="347.6" cy="249.19" r="1.7"/>
<path d="M240.35 231.9V224.7M238.65 224.7h3.4M240.35 231.9V239.1M238.65 239.1h3.4M243.1 233.55V226.98M241.4 226.98h3.4M243.1 233.55V240.13M241.4 240.13h3.4M245.85 237.97V233.08M244.15 233.08h3.4M245.85 237.97V242.86M244.15 242.86h3.4M248.6 240.22V236.17M246.9 236.17h3.4M248.6 240.22V244.26M246.9 244.26h3.4M251.35 241.63V238.12M249.65 238.12h3.4M251.35 241.63V245.13M249.65 245.13h3.4M254.1 241.76V238.31M252.4 238.31h3.4M254.1 241.76V245.21M252.4 245.21h3.4M256.85 241.3V237.67M255.15 237.67h3.4M256.85 241.3V244.93M255.15 244.93h3.4M259.6 240.73V236.88M257.9 236.88h3.4M259.6 240.73V244.58M257.9 244.58h3.4M262.35 240.19V236.14M260.65 236.14h3.4M262.35 240.19V244.24M260.65 244.24h3.4M265.1 239.58V235.3M263.4 235.3h3.4M265.1 239.58V243.86M263.4 243.86h3.4M267.85 238.93V234.4M266.15 234.4h3.4M267.85 238.93V243.46M266.15 243.46h3.4M270.6 238.22V233.42M268.9 233.42h3.4M270.6 238.22V243.02M268.9 243.02h3.4M273.35 237.28V232.13M271.65 232.13h3.4M273.35 237.28V242.44M271.65 242.44h3.4M276.1 236.21V230.65M274.4 230.65h3.4M276.1 236.21V241.77M274.4 241.77h3.4M278.85 235.15V229.19M277.15 229.19h3.4M278.85 235.15V241.12M277.15 241.12h3.4M281.6 234.26V227.96M279.9 227.96h3.4M281.6 234.26V240.56M279.9 240.56h3.4M284.35 233.69V227.16M282.65 227.16h3.4M284.35 233.69V240.21M282.65 240.21h3.4M287.1 233.55V226.98M285.4 226.98h3.4M287.1 233.55V240.13M285.4 240.13h3.4M289.85 233.55V226.98M288.15 226.98h3.4M289.85 233.55V240.13M288.15 240.13h3.4M292.6 233.57V227M290.9 227h3.4M292.6 233.57V240.14M290.9 240.14h3.4M295.35 233.99V227.59M293.65 227.59h3.4M295.35 233.99V240.4M293.65 240.4h3.4M298.1 234.8V228.71M296.4 228.71h3.4M298.1 234.8V240.9M296.4 240.9h3.4M300.85 235.72V229.97M299.15 229.97h3.4M300.85 235.72V241.47M299.15 241.47h3.4M303.6 236.52V231.07M301.9 231.07h3.4M303.6 236.52V241.97M301.9 241.97h3.4M306.35 237.35V232.22M304.65 232.22h3.4M306.35 237.35V242.48M304.65 242.48h3.4M309.1 238.2V233.4M307.4 233.4h3.4M309.1 238.2V243.01M307.4 243.01h3.4M311.85 239V234.5M310.15 234.5h3.4M311.85 239V243.5M310.15 243.5h3.4M314.6 239.73V235.51M312.9 235.51h3.4M314.6 239.73V243.96M312.9 243.96h3.4M317.35 240.45V236.49M315.65 236.49h3.4M317.35 240.45V244.4M315.65 244.4h3.4M320.1 241.14V237.45M318.4 237.45h3.4M320.1 241.14V244.83M318.4 244.83h3.4M322.85 241.81V238.38M321.15 238.38h3.4M322.85 241.81V245.25M321.15 245.25h3.4M325.6 242.46V239.27M323.9 239.27h3.4M325.6 242.46V245.65M323.9 245.65h3.4M328.35 243.07V240.11M326.65 240.11h3.4M328.35 243.07V246.02M326.65 246.02h3.4M331.1 243.64V240.9M329.4 240.9h3.4M331.1 243.64V246.38M329.4 246.38h3.4M333.85 244.18V241.64M332.15 241.64h3.4M333.85 244.18V246.71M332.15 246.71h3.4M336.6 244.68V242.34M334.9 242.34h3.4M336.6 244.68V247.03M334.9 247.03h3.4M339.35 245.17V243.01M337.65 243.01h3.4M339.35 245.17V247.33M337.65 247.33h3.4M342.1 245.62V243.63M340.4 243.63h3.4M342.1 245.62V247.61M340.4 247.61h3.4M344.85 246.04V244.22M343.15 244.22h3.4M344.85 246.04V247.87M343.15 247.87h3.4M347.6 246.43V244.76M345.9 244.76h3.4M347.6 246.43V248.11M345.9 248.11h3.4" fill="none" stroke="#111" stroke-width="0.95"/>
<path d="M237.6 250.85 L240.35 231.9 L243.1 233.55 L245.85 237.97 L248.6 240.22 L251.35 241.63 L254.1 241.76 L256.85 241.3 L259.6 240.73 L262.35 240.19 L265.1 239.58 L267.85 238.93 L270.6 238.22 L273.35 237.28 L276.1 236.21 L278.85 235.15 L281.6 234.26 L284.35 233.69 L287.1 233.55 L289.85 233.55 L292.6 233.57 L295.35 233.99 L298.1 234.8 L300.85 235.72 L303.6 236.52 L306.35 237.35 L309.1 238.2 L311.85 239 L314.6 239.73 L317.35 240.45 L320.1 241.14 L322.85 241.81 L325.6 242.46 L328.35 243.07 L331.1 243.64 L333.85 244.18 L336.6 244.68 L339.35 245.17 L342.1 245.62 L344.85 246.04 L347.6 246.43" fill="none" stroke="#000" stroke-width="1.1" stroke-linejoin="round"/>
<circle cx="237.6" cy="250.85" r="1.55" class="hf"/>
<circle cx="240.35" cy="231.9" r="1.55" class="hf"/>
<circle cx="243.1" cy="233.55" r="1.55" class="hf"/>
<circle cx="245.85" cy="237.97" r="1.55" class="hf"/>
<circle cx="248.6" cy="240.22" r="1.55" class="hf"/>
<circle cx="251.35" cy="241.63" r="1.55" class="hf"/>
<circle cx="254.1" cy="241.76" r="1.55" class="hf"/>
<circle cx="256.85" cy="241.3" r="1.55" class="hf"/>
<circle cx="259.6" cy="240.73" r="1.55" class="hf"/>
<circle cx="262.35" cy="240.19" r="1.55" class="hf"/>
<circle cx="265.1" cy="239.58" r="1.55" class="hf"/>
<circle cx="267.85" cy="238.93" r="1.55" class="hf"/>
<circle cx="270.6" cy="238.22" r="1.55" class="hf"/>
<circle cx="273.35" cy="237.28" r="1.55" class="hf"/>
<circle cx="276.1" cy="236.21" r="1.55" class="hf"/>
<circle cx="278.85" cy="235.15" r="1.55" class="hf"/>
<circle cx="281.6" cy="234.26" r="1.55" class="hf"/>
<circle cx="284.35" cy="233.69" r="1.55" class="hf"/>
<circle cx="287.1" cy="233.55" r="1.55" class="hf"/>
<circle cx="289.85" cy="233.55" r="1.55" class="hf"/>
<circle cx="292.6" cy="233.57" r="1.55" class="hf"/>
<circle cx="295.35" cy="233.99" r="1.55" class="hf"/>
<circle cx="298.1" cy="234.8" r="1.55" class="hf"/>
<circle cx="300.85" cy="235.72" r="1.55" class="hf"/>
<circle cx="303.6" cy="236.52" r="1.55" class="hf"/>
<circle cx="306.35" cy="237.35" r="1.55" class="hf"/>
<circle cx="309.1" cy="238.2" r="1.55" class="hf"/>
<circle cx="311.85" cy="239" r="1.55" class="hf"/>
<circle cx="314.6" cy="239.73" r="1.55" class="hf"/>
<circle cx="317.35" cy="240.45" r="1.55" class="hf"/>
<circle cx="320.1" cy="241.14" r="1.55" class="hf"/>
<circle cx="322.85" cy="241.81" r="1.55" class="hf"/>
<circle cx="325.6" cy="242.46" r="1.55" class="hf"/>
<circle cx="328.35" cy="243.07" r="1.55" class="hf"/>
<circle cx="331.1" cy="243.64" r="1.55" class="hf"/>
<circle cx="333.85" cy="244.18" r="1.55" class="hf"/>
<circle cx="336.6" cy="244.68" r="1.55" class="hf"/>
<circle cx="339.35" cy="245.17" r="1.55" class="hf"/>
<circle cx="342.1" cy="245.62" r="1.55" class="hf"/>
<circle cx="344.85" cy="246.04" r="1.55" class="hf"/>
<circle cx="347.6" cy="246.43" r="1.55" class="hf"/>
<path d="M240.35 217.55V213.22M238.65 213.22h3.4M240.35 217.55V221.88M238.65 221.88h3.4M243.1 194.18V186.81M241.4 186.81h3.4M243.1 194.18V201.55M241.4 201.55h3.4M245.85 200.07V193.46M244.15 193.46h3.4M245.85 200.07V206.67M244.15 206.67h3.4M248.6 211.29V206.15M246.9 206.15h3.4M248.6 211.29V216.43M246.9 216.43h3.4M251.35 220.49V211.99M249.65 211.99h3.4M251.35 220.49V228.99M249.65 228.99h3.4M254.1 224.35V216.94M252.4 216.94h3.4M254.1 224.35V231.77M252.4 231.77h3.4M256.85 223.64V216.03M255.15 216.03h3.4M256.85 223.64V231.26M255.15 231.26h3.4M259.6 222.07V214.01M257.9 214.01h3.4M259.6 222.07V230.12M257.9 230.12h3.4M262.35 220.32V211.77M260.65 211.77h3.4M262.35 220.32V228.87M260.65 228.87h3.4M265.1 218.05V208.87M263.4 208.87h3.4M265.1 218.05V227.24M263.4 227.24h3.4M267.85 215.58V205.71M266.15 205.71h3.4M267.85 215.58V225.46M266.15 225.46h3.4M270.6 213.41V202.92M268.9 202.92h3.4M270.6 213.41V223.89M268.9 223.89h3.4M273.35 211.39V200.34M271.65 200.34h3.4M273.35 211.39V222.44M271.65 222.44h3.4M276.1 209.52V197.95M274.4 197.95h3.4M276.1 209.52V221.09M274.4 221.09h3.4M278.85 207.88V195.84M277.15 195.84h3.4M278.85 207.88V219.91M277.15 219.91h3.4M281.6 206.38V193.93M279.9 193.93h3.4M281.6 206.38V218.83M279.9 218.83h3.4M284.35 205.06V192.24M282.65 192.24h3.4M284.35 205.06V217.88M282.65 217.88h3.4M287.1 203.99V190.87M285.4 190.87h3.4M287.1 203.99V217.11M285.4 217.11h3.4M289.85 202.99V189.6M288.15 189.6h3.4M289.85 202.99V216.39M288.15 216.39h3.4M292.6 202.67V189.18M290.9 189.18h3.4M292.6 202.67V216.16M290.9 216.16h3.4M295.35 203.22V189.89M293.65 189.89h3.4M295.35 203.22V216.56M293.65 216.56h3.4M298.1 204.4V191.39M296.4 191.39h3.4M298.1 204.4V217.41M296.4 217.41h3.4M300.85 206.01V193.46M299.15 193.46h3.4M300.85 206.01V218.57M299.15 218.57h3.4M303.6 207.81V195.75M301.9 195.75h3.4M303.6 207.81V219.86M301.9 219.86h3.4M306.35 210.03V198.6M304.65 198.6h3.4M306.35 210.03V221.46M304.65 221.46h3.4M309.1 212.5V201.76M307.4 201.76h3.4M309.1 212.5V223.24M307.4 223.24h3.4M311.85 214.93V204.87M310.15 204.87h3.4M311.85 214.93V224.98M310.15 224.98h3.4M314.6 217.22V207.8M312.9 207.8h3.4M314.6 217.22V226.63M312.9 226.63h3.4M317.35 219.51V210.73M315.65 210.73h3.4M317.35 219.51V228.28M315.65 228.28h3.4M320.1 221.74V213.59M318.4 213.59h3.4M320.1 221.74V229.89M318.4 229.89h3.4M322.85 223.84V216.28M321.15 216.28h3.4M322.85 223.84V231.41M321.15 231.41h3.4M325.6 225.9V218.91M323.9 218.91h3.4M325.6 225.9V232.88M323.9 232.88h3.4M328.35 227.86V221.43M326.65 221.43h3.4M328.35 227.86V234.3M326.65 234.3h3.4M331.1 229.62V223.68M329.4 223.68h3.4M331.1 229.62V235.57M329.4 235.57h3.4M333.85 231.12V225.59M332.15 225.59h3.4M333.85 231.12V236.64M332.15 236.64h3.4M336.6 232.52V227.39M334.9 227.39h3.4M336.6 232.52V237.65M334.9 237.65h3.4M339.35 233.82V229.05M337.65 229.05h3.4M339.35 233.82V238.59M337.65 238.59h3.4M342.1 234.99V230.55M340.4 230.55h3.4M342.1 234.99V239.43M340.4 239.43h3.4M344.85 236.02V231.86M343.15 231.86h3.4M344.85 236.02V240.17M343.15 240.17h3.4M347.6 236.87V232.95M345.9 232.95h3.4M347.6 236.87V240.78M345.9 240.78h3.4" fill="none" stroke="#111" stroke-width="0.95"/>
<path d="M237.6 250.85 L240.35 217.55 L243.1 194.18 L245.85 200.07 L248.6 211.29 L251.35 220.49 L254.1 224.35 L256.85 223.64 L259.6 222.07 L262.35 220.32 L265.1 218.05 L267.85 215.58 L270.6 213.41 L273.35 211.39 L276.1 209.52 L278.85 207.88 L281.6 206.38 L284.35 205.06 L287.1 203.99 L289.85 202.99 L292.6 202.67 L295.35 203.22 L298.1 204.4 L300.85 206.01 L303.6 207.81 L306.35 210.03 L309.1 212.5 L311.85 214.93 L314.6 217.22 L317.35 219.51 L320.1 221.74 L322.85 223.84 L325.6 225.9 L328.35 227.86 L331.1 229.62 L333.85 231.12 L336.6 232.52 L339.35 233.82 L342.1 234.99 L344.85 236.02 L347.6 236.87" fill="none" stroke="#000" stroke-width="1.1" stroke-linejoin="round"/>
<rect x="236" y="249.25" width="3.2" height="3.2"/>
<rect x="238.75" y="215.95" width="3.2" height="3.2"/>
<rect x="241.5" y="192.58" width="3.2" height="3.2"/>
<rect x="244.25" y="198.47" width="3.2" height="3.2"/>
<rect x="247" y="209.69" width="3.2" height="3.2"/>
<rect x="249.75" y="218.89" width="3.2" height="3.2"/>
<rect x="252.5" y="222.75" width="3.2" height="3.2"/>
<rect x="255.25" y="222.04" width="3.2" height="3.2"/>
<rect x="258" y="220.47" width="3.2" height="3.2"/>
<rect x="260.75" y="218.72" width="3.2" height="3.2"/>
<rect x="263.5" y="216.45" width="3.2" height="3.2"/>
<rect x="266.25" y="213.98" width="3.2" height="3.2"/>
<rect x="269" y="211.81" width="3.2" height="3.2"/>
<rect x="271.75" y="209.79" width="3.2" height="3.2"/>
<rect x="274.5" y="207.92" width="3.2" height="3.2"/>
<rect x="277.25" y="206.28" width="3.2" height="3.2"/>
<rect x="280" y="204.78" width="3.2" height="3.2"/>
<rect x="282.75" y="203.46" width="3.2" height="3.2"/>
<rect x="285.5" y="202.39" width="3.2" height="3.2"/>
<rect x="288.25" y="201.39" width="3.2" height="3.2"/>
<rect x="291" y="201.07" width="3.2" height="3.2"/>
<rect x="293.75" y="201.62" width="3.2" height="3.2"/>
<rect x="296.5" y="202.8" width="3.2" height="3.2"/>
<rect x="299.25" y="204.41" width="3.2" height="3.2"/>
<rect x="302" y="206.21" width="3.2" height="3.2"/>
<rect x="304.75" y="208.43" width="3.2" height="3.2"/>
<rect x="307.5" y="210.9" width="3.2" height="3.2"/>
<rect x="310.25" y="213.33" width="3.2" height="3.2"/>
<rect x="313" y="215.62" width="3.2" height="3.2"/>
<rect x="315.75" y="217.91" width="3.2" height="3.2"/>
<rect x="318.5" y="220.14" width="3.2" height="3.2"/>
<rect x="321.25" y="222.24" width="3.2" height="3.2"/>
<rect x="324" y="224.3" width="3.2" height="3.2"/>
<rect x="326.75" y="226.26" width="3.2" height="3.2"/>
<rect x="329.5" y="228.02" width="3.2" height="3.2"/>
<rect x="332.25" y="229.52" width="3.2" height="3.2"/>
<rect x="335" y="230.92" width="3.2" height="3.2"/>
<rect x="337.75" y="232.22" width="3.2" height="3.2"/>
<rect x="340.5" y="233.39" width="3.2" height="3.2"/>
<rect x="343.25" y="234.42" width="3.2" height="3.2"/>
<rect x="346" y="235.27" width="3.2" height="3.2"/>
<circle cx="272" cy="153.5" r="1.35"/>
<text x="281.15" y="155.61" font-size="5.85" font-weight="bold" class="m">Control</text>
<line x1="267.5" y1="162.1" x2="276.5" y2="162.1" stroke="#000" stroke-width="1.3"/>
<rect x="270.4" y="160.5" width="3.2" height="3.2"/>
<text x="281.15" y="164.21" font-size="5.85" font-weight="bold" class="m">fMLP</text>
<line x1="267.5" y1="170.7" x2="276.5" y2="170.7" stroke="#000" stroke-width="1.3"/>
<circle cx="272" cy="170.7" r="1.55" class="hf"/>
<line x1="272" y1="168.8" x2="272" y2="172.6" stroke="#000" stroke-width="0.8"/>
<text x="281.15" y="172.81" font-size="5.85" font-weight="bold" class="m">fMLP + Compound 15e (0.1 &#956;M)</text>
<circle cx="272" cy="179.3" r="1.45" class="op"/>
<text x="281.15" y="181.41" font-size="5.85" font-weight="bold" class="m">Compound 15e (0.1 &#956;M)</text>
<text x="8.83" y="312.1" font-size="12.8" class="l">G</text>
<line x1="33" y1="325.7" x2="33" y2="401.5" stroke="#000" stroke-width="1.25"/>
<line x1="30.4" y1="401" x2="33" y2="401" stroke="#000" stroke-width="1.0"/>
<text x="30.4" y="403.16" font-size="6.0" font-weight="bold" text-anchor="end" class="m">0</text>
<line x1="30.4" y1="386" x2="33" y2="386" stroke="#000" stroke-width="1.0"/>
<text x="30.4" y="388.16" font-size="6.0" font-weight="bold" text-anchor="end" class="m">100</text>
<line x1="30.4" y1="371" x2="33" y2="371" stroke="#000" stroke-width="1.0"/>
<text x="30.4" y="373.16" font-size="6.0" font-weight="bold" text-anchor="end" class="m">200</text>
<line x1="30.4" y1="356" x2="33" y2="356" stroke="#000" stroke-width="1.0"/>
<text x="30.4" y="358.16" font-size="6.0" font-weight="bold" text-anchor="end" class="m">300</text>
<line x1="30.4" y1="341" x2="33" y2="341" stroke="#000" stroke-width="1.0"/>
<text x="30.4" y="343.16" font-size="6.0" font-weight="bold" text-anchor="end" class="m">400</text>
<line x1="30.4" y1="326" x2="33" y2="326" stroke="#000" stroke-width="1.0"/>
<text x="30.4" y="328.16" font-size="6.0" font-weight="bold" text-anchor="end" class="m">500</text>
<line x1="32.5" y1="401" x2="145.7" y2="401" stroke="#000" stroke-width="1.25"/>
<line x1="33" y1="401" x2="33" y2="403.2" stroke="#000" stroke-width="0.9"/>
<text x="33" y="409.76" font-size="6.0" font-weight="bold" text-anchor="middle" class="m">0</text>
<line x1="61.1" y1="401" x2="61.1" y2="403.2" stroke="#000" stroke-width="0.9"/>
<text x="61.1" y="409.76" font-size="6.0" font-weight="bold" text-anchor="middle" class="m">10</text>
<line x1="89.2" y1="401" x2="89.2" y2="403.2" stroke="#000" stroke-width="0.9"/>
<text x="89.2" y="409.76" font-size="6.0" font-weight="bold" text-anchor="middle" class="m">20</text>
<line x1="117.3" y1="401" x2="117.3" y2="403.2" stroke="#000" stroke-width="0.9"/>
<text x="117.3" y="409.76" font-size="6.0" font-weight="bold" text-anchor="middle" class="m">30</text>
<line x1="145.4" y1="401" x2="145.4" y2="403.2" stroke="#000" stroke-width="0.9"/>
<text x="145.4" y="409.76" font-size="6.0" font-weight="bold" text-anchor="middle" class="m">40</text>
<text x="66.5" y="423.6" font-size="9.2" font-weight="bold" class="h">Time (min)</text>
<text x="0" y="0" font-size="9" font-weight="bold" text-anchor="middle" class="h" transform="translate(6.4,361.8) rotate(-90)">cps</text>
<path d="M35.81 400.62V400.48M34.11 400.48h3.4M35.81 400.62V400.75M34.11 400.75h3.4M38.62 400.24V399.98M36.92 399.98h3.4M38.62 400.24V400.51M36.92 400.51h3.4M41.43 399.88V399.49M39.73 399.49h3.4M41.43 399.88V400.27M39.73 400.27h3.4M44.24 399.53V399.02M42.54 399.02h3.4M44.24 399.53V400.05M42.54 400.05h3.4M47.05 399.2V398.57M45.35 398.57h3.4M47.05 399.2V399.83M45.35 399.83h3.4M49.86 398.85V398.1M48.16 398.1h3.4M49.86 398.85V399.6M48.16 399.6h3.4M52.67 398.49V397.61M50.97 397.61h3.4M52.67 398.49V399.37M50.97 399.37h3.4M55.48 398.15V397.15M53.78 397.15h3.4M55.48 398.15V399.15M53.78 399.15h3.4M58.29 397.87V396.78M56.59 396.78h3.4M58.29 397.87V398.97M56.59 398.97h3.4M61.1 397.7V396.55M59.4 396.55h3.4M61.1 397.7V398.86M59.4 398.86h3.4M63.91 397.6V396.4M62.21 396.4h3.4M63.91 397.6V398.79M62.21 398.79h3.4M66.72 397.5V396.27M65.02 396.27h3.4M66.72 397.5V398.72M65.02 398.72h3.4M69.53 397.41V396.16M67.83 396.16h3.4M69.53 397.41V398.67M67.83 398.67h3.4M72.34 397.33V396.05M70.64 396.05h3.4M72.34 397.33V398.62M70.64 398.62h3.4M75.15 397.26V395.96M73.45 395.96h3.4M75.15 397.26V398.57M73.45 398.57h3.4M77.96 397.21V395.88M76.26 395.88h3.4M77.96 397.21V398.53M76.26 398.53h3.4M80.77 397.16V395.82M79.07 395.82h3.4M80.77 397.16V398.51M79.07 398.51h3.4M83.58 397.13V395.77M81.88 395.77h3.4M83.58 397.13V398.48M81.88 398.48h3.4M86.39 397.11V395.74M84.69 395.74h3.4M86.39 397.11V398.47M84.69 398.47h3.4M89.2 397.1V395.74M87.5 395.74h3.4M89.2 397.1V398.46M87.5 398.46h3.4M92.01 397.1V395.74M90.31 395.74h3.4M92.01 397.1V398.47M90.31 398.47h3.4M94.82 397.11V395.75M93.12 395.75h3.4M94.82 397.11V398.47M93.12 398.47h3.4M97.63 397.12V395.77M95.93 395.77h3.4M97.63 397.12V398.48M95.93 398.48h3.4M100.44 397.14V395.79M98.74 395.79h3.4M100.44 397.14V398.49M98.74 398.49h3.4M103.25 397.16V395.81M101.55 395.81h3.4M103.25 397.16V398.5M101.55 398.5h3.4M106.06 397.18V395.84M104.36 395.84h3.4M106.06 397.18V398.51M104.36 398.51h3.4M108.87 397.2V395.86M107.17 395.86h3.4M108.87 397.2V398.53M107.17 398.53h3.4M111.68 397.22V395.89M109.98 395.89h3.4M111.68 397.22V398.54M109.98 398.54h3.4M114.49 397.23V395.92M112.79 395.92h3.4M114.49 397.23V398.55M112.79 398.55h3.4M117.3 397.25V395.94M115.6 395.94h3.4M117.3 397.25V398.56M115.6 398.56h3.4M120.11 397.26V395.96M118.41 395.96h3.4M120.11 397.26V398.57M118.41 398.57h3.4M122.92 397.28V395.98M121.22 395.98h3.4M122.92 397.28V398.58M121.22 398.58h3.4M125.73 397.3V396M124.03 396h3.4M125.73 397.3V398.59M124.03 398.59h3.4M128.54 397.31V396.02M126.84 396.02h3.4M128.54 397.31V398.6M126.84 398.6h3.4M131.35 397.32V396.04M129.65 396.04h3.4M131.35 397.32V398.61M129.65 398.61h3.4M134.16 397.34V396.06M132.46 396.06h3.4M134.16 397.34V398.62M132.46 398.62h3.4M136.97 397.36V396.08M135.27 396.08h3.4M136.97 397.36V398.63M135.27 398.63h3.4M139.78 397.37V396.1M138.08 396.1h3.4M139.78 397.37V398.64M138.08 398.64h3.4M142.59 397.38V396.12M140.89 396.12h3.4M142.59 397.38V398.65M140.89 398.65h3.4M145.4 397.4V396.14M143.7 396.14h3.4M145.4 397.4V398.66M143.7 398.66h3.4" fill="none" stroke="#111" stroke-width="0.95"/>
<path d="M33 401 L35.81 400.62 L38.62 400.24 L41.43 399.88 L44.24 399.53 L47.05 399.2 L49.86 398.85 L52.67 398.49 L55.48 398.15 L58.29 397.87 L61.1 397.7 L63.91 397.6 L66.72 397.5 L69.53 397.41 L72.34 397.33 L75.15 397.26 L77.96 397.21 L80.77 397.16 L83.58 397.13 L86.39 397.11 L89.2 397.1 L92.01 397.1 L94.82 397.11 L97.63 397.12 L100.44 397.14 L103.25 397.16 L106.06 397.18 L108.87 397.2 L111.68 397.22 L114.49 397.23 L117.3 397.25 L120.11 397.26 L122.92 397.28 L125.73 397.3 L128.54 397.31 L131.35 397.32 L134.16 397.34 L136.97 397.36 L139.78 397.37 L142.59 397.38 L145.4 397.4" fill="none" stroke="#000" stroke-width="2.2" stroke-linejoin="round"/>
<circle cx="33" cy="401" r="1.7"/>
<circle cx="35.81" cy="400.62" r="1.7"/>
<circle cx="38.62" cy="400.24" r="1.7"/>
<circle cx="41.43" cy="399.88" r="1.7"/>
<circle cx="44.24" cy="399.53" r="1.7"/>
<circle cx="47.05" cy="399.2" r="1.7"/>
<circle cx="49.86" cy="398.85" r="1.7"/>
<circle cx="52.67" cy="398.49" r="1.7"/>
<circle cx="55.48" cy="398.15" r="1.7"/>
<circle cx="58.29" cy="397.87" r="1.7"/>
<circle cx="61.1" cy="397.7" r="1.7"/>
<circle cx="63.91" cy="397.6" r="1.7"/>
<circle cx="66.72" cy="397.5" r="1.7"/>
<circle cx="69.53" cy="397.41" r="1.7"/>
<circle cx="72.34" cy="397.33" r="1.7"/>
<circle cx="75.15" cy="397.26" r="1.7"/>
<circle cx="77.96" cy="397.21" r="1.7"/>
<circle cx="80.77" cy="397.16" r="1.7"/>
<circle cx="83.58" cy="397.13" r="1.7"/>
<circle cx="86.39" cy="397.11" r="1.7"/>
<circle cx="89.2" cy="397.1" r="1.7"/>
<circle cx="92.01" cy="397.1" r="1.7"/>
<circle cx="94.82" cy="397.11" r="1.7"/>
<circle cx="97.63" cy="397.12" r="1.7"/>
<circle cx="100.44" cy="397.14" r="1.7"/>
<circle cx="103.25" cy="397.16" r="1.7"/>
<circle cx="106.06" cy="397.18" r="1.7"/>
<circle cx="108.87" cy="397.2" r="1.7"/>
<circle cx="111.68" cy="397.22" r="1.7"/>
<circle cx="114.49" cy="397.23" r="1.7"/>
<circle cx="117.3" cy="397.25" r="1.7"/>
<circle cx="120.11" cy="397.26" r="1.7"/>
<circle cx="122.92" cy="397.28" r="1.7"/>
<circle cx="125.73" cy="397.3" r="1.7"/>
<circle cx="128.54" cy="397.31" r="1.7"/>
<circle cx="131.35" cy="397.32" r="1.7"/>
<circle cx="134.16" cy="397.34" r="1.7"/>
<circle cx="136.97" cy="397.36" r="1.7"/>
<circle cx="139.78" cy="397.37" r="1.7"/>
<circle cx="142.59" cy="397.38" r="1.7"/>
<circle cx="145.4" cy="397.4" r="1.7"/>
<path d="M35.81 400.12V399.86M34.11 399.86h3.4M35.81 400.12V400.39M34.11 400.39h3.4M38.62 399.3V398.79M36.92 398.79h3.4M38.62 399.3V399.81M36.92 399.81h3.4M41.43 398.54V397.81M39.73 397.81h3.4M41.43 398.54V399.28M39.73 399.28h3.4M44.24 397.86V396.91M42.54 396.91h3.4M44.24 397.86V398.8M42.54 398.8h3.4M47.05 397.25V396.12M45.35 396.12h3.4M47.05 397.25V398.38M45.35 398.38h3.4M49.86 396.69V395.4M48.16 395.4h3.4M49.86 396.69V397.98M48.16 397.98h3.4M52.67 396.16V394.71M50.97 394.71h3.4M52.67 396.16V397.61M50.97 397.61h3.4M55.48 395.68V394.09M53.78 394.09h3.4M55.48 395.68V397.28M53.78 397.28h3.4M58.29 395.29V393.57M56.59 393.57h3.4M58.29 395.29V397M56.59 397h3.4M61.1 395V393.2M59.4 393.2h3.4M61.1 395V396.8M59.4 396.8h3.4M63.91 394.81V392.95M62.21 392.95h3.4M63.91 394.81V396.66M62.21 396.66h3.4M66.72 394.66V392.76M65.02 392.76h3.4M66.72 394.66V396.56M65.02 396.56h3.4M69.53 394.53V392.59M67.83 392.59h3.4M69.53 394.53V396.47M67.83 396.47h3.4M72.34 394.4V392.43M70.64 392.43h3.4M72.34 394.4V396.38M70.64 396.38h3.4M75.15 394.25V392.23M73.45 392.23h3.4M75.15 394.25V396.27M73.45 396.27h3.4M77.96 394.05V391.97M76.26 391.97h3.4M77.96 394.05V396.14M76.26 396.14h3.4M80.77 393.83V391.68M79.07 391.68h3.4M80.77 393.83V395.98M79.07 395.98h3.4M83.58 393.6V391.37M81.88 391.37h3.4M83.58 393.6V395.82M81.88 395.82h3.4M86.39 393.38V391.09M84.69 391.09h3.4M86.39 393.38V395.67M84.69 395.67h3.4M89.2 393.2V390.86M87.5 390.86h3.4M89.2 393.2V395.54M87.5 395.54h3.4M92.01 393.04V390.65M90.31 390.65h3.4M92.01 393.04V395.43M90.31 395.43h3.4M94.82 392.88V390.44M93.12 390.44h3.4M94.82 392.88V395.32M93.12 395.32h3.4M97.63 392.74V390.26M95.93 390.26h3.4M97.63 392.74V395.22M95.93 395.22h3.4M100.44 392.64V390.13M98.74 390.13h3.4M100.44 392.64V395.15M98.74 395.15h3.4M103.25 392.6V390.08M101.55 390.08h3.4M103.25 392.6V395.12M101.55 395.12h3.4M106.06 392.62V390.1M104.36 390.1h3.4M106.06 392.62V395.13M104.36 395.13h3.4M108.87 392.67V390.17M107.17 390.17h3.4M108.87 392.67V395.17M107.17 395.17h3.4M111.68 392.74V390.26M109.98 390.26h3.4M111.68 392.74V395.22M109.98 395.22h3.4M114.49 392.82V390.36M112.79 390.36h3.4M114.49 392.82V395.27M112.79 395.27h3.4M117.3 392.9V390.47M115.6 390.47h3.4M117.3 392.9V395.33M115.6 395.33h3.4M120.11 392.99V390.59M118.41 390.59h3.4M120.11 392.99V395.4M118.41 395.4h3.4M122.92 393.11V390.74M121.22 390.74h3.4M122.92 393.11V395.48M121.22 395.48h3.4M125.73 393.24V390.91M124.03 390.91h3.4M125.73 393.24V395.57M124.03 395.57h3.4M128.54 393.37V391.09M126.84 391.09h3.4M128.54 393.37V395.66M126.84 395.66h3.4M131.35 393.5V391.25M129.65 391.25h3.4M131.35 393.5V395.75M129.65 395.75h3.4M134.16 393.62V391.41M132.46 391.41h3.4M134.16 393.62V395.83M132.46 395.83h3.4M136.97 393.74V391.56M135.27 391.56h3.4M136.97 393.74V395.92M135.27 395.92h3.4M139.78 393.86V391.72M138.08 391.72h3.4M139.78 393.86V396M138.08 396h3.4M142.59 393.98V391.87M140.89 391.87h3.4M142.59 393.98V396.09M140.89 396.09h3.4M145.4 394.1V392.03M143.7 392.03h3.4M145.4 394.1V396.17M143.7 396.17h3.4" fill="none" stroke="#111" stroke-width="0.95"/>
<path d="M33 401 L35.81 400.12 L38.62 399.3 L41.43 398.54 L44.24 397.86 L47.05 397.25 L49.86 396.69 L52.67 396.16 L55.48 395.68 L58.29 395.29 L61.1 395 L63.91 394.81 L66.72 394.66 L69.53 394.53 L72.34 394.4 L75.15 394.25 L77.96 394.05 L80.77 393.83 L83.58 393.6 L86.39 393.38 L89.2 393.2 L92.01 393.04 L94.82 392.88 L97.63 392.74 L100.44 392.64 L103.25 392.6 L106.06 392.62 L108.87 392.67 L111.68 392.74 L114.49 392.82 L117.3 392.9 L120.11 392.99 L122.92 393.11 L125.73 393.24 L128.54 393.37 L131.35 393.5 L134.16 393.62 L136.97 393.74 L139.78 393.86 L142.59 393.98 L145.4 394.1" fill="none" stroke="#000" stroke-width="1.1" stroke-linejoin="round"/>
<circle cx="33" cy="401" r="1.55" class="hf"/>
<circle cx="35.81" cy="400.12" r="1.55" class="hf"/>
<circle cx="38.62" cy="399.3" r="1.55" class="hf"/>
<circle cx="41.43" cy="398.54" r="1.55" class="hf"/>
<circle cx="44.24" cy="397.86" r="1.55" class="hf"/>
<circle cx="47.05" cy="397.25" r="1.55" class="hf"/>
<circle cx="49.86" cy="396.69" r="1.55" class="hf"/>
<circle cx="52.67" cy="396.16" r="1.55" class="hf"/>
<circle cx="55.48" cy="395.68" r="1.55" class="hf"/>
<circle cx="58.29" cy="395.29" r="1.55" class="hf"/>
<circle cx="61.1" cy="395" r="1.55" class="hf"/>
<circle cx="63.91" cy="394.81" r="1.55" class="hf"/>
<circle cx="66.72" cy="394.66" r="1.55" class="hf"/>
<circle cx="69.53" cy="394.53" r="1.55" class="hf"/>
<circle cx="72.34" cy="394.4" r="1.55" class="hf"/>
<circle cx="75.15" cy="394.25" r="1.55" class="hf"/>
<circle cx="77.96" cy="394.05" r="1.55" class="hf"/>
<circle cx="80.77" cy="393.83" r="1.55" class="hf"/>
<circle cx="83.58" cy="393.6" r="1.55" class="hf"/>
<circle cx="86.39" cy="393.38" r="1.55" class="hf"/>
<circle cx="89.2" cy="393.2" r="1.55" class="hf"/>
<circle cx="92.01" cy="393.04" r="1.55" class="hf"/>
<circle cx="94.82" cy="392.88" r="1.55" class="hf"/>
<circle cx="97.63" cy="392.74" r="1.55" class="hf"/>
<circle cx="100.44" cy="392.64" r="1.55" class="hf"/>
<circle cx="103.25" cy="392.6" r="1.55" class="hf"/>
<circle cx="106.06" cy="392.62" r="1.55" class="hf"/>
<circle cx="108.87" cy="392.67" r="1.55" class="hf"/>
<circle cx="111.68" cy="392.74" r="1.55" class="hf"/>
<circle cx="114.49" cy="392.82" r="1.55" class="hf"/>
<circle cx="117.3" cy="392.9" r="1.55" class="hf"/>
<circle cx="120.11" cy="392.99" r="1.55" class="hf"/>
<circle cx="122.92" cy="393.11" r="1.55" class="hf"/>
<circle cx="125.73" cy="393.24" r="1.55" class="hf"/>
<circle cx="128.54" cy="393.37" r="1.55" class="hf"/>
<circle cx="131.35" cy="393.5" r="1.55" class="hf"/>
<circle cx="134.16" cy="393.62" r="1.55" class="hf"/>
<circle cx="136.97" cy="393.74" r="1.55" class="hf"/>
<circle cx="139.78" cy="393.86" r="1.55" class="hf"/>
<circle cx="142.59" cy="393.98" r="1.55" class="hf"/>
<circle cx="145.4" cy="394.1" r="1.55" class="hf"/>
<path d="M44.24 397.77V396.06M42.54 396.06h3.4M44.24 397.77V399.49M42.54 399.49h3.4M47.05 395V392.45M45.35 392.45h3.4M47.05 395V397.55M45.35 397.55h3.4M49.86 391.02V387.28M48.16 387.28h3.4M49.86 391.02V394.76M48.16 394.76h3.4M52.67 387.09V382.17M50.97 382.17h3.4M52.67 387.09V392.02M50.97 392.02h3.4M55.48 383.25V377.18M53.78 377.18h3.4M55.48 383.25V389.33M53.78 389.33h3.4M58.29 379.29V372.02M56.59 372.02h3.4M58.29 379.29V386.55M56.59 386.55h3.4M61.1 375.14V366.63M59.4 366.63h3.4M61.1 375.14V383.65M59.4 383.65h3.4M63.91 371.02V362.32M62.21 362.32h3.4M63.91 371.02V379.72M62.21 379.72h3.4M66.72 367.14V358.44M65.02 358.44h3.4M66.72 367.14V375.84M65.02 375.84h3.4M69.53 363.44V354.74M67.83 354.74h3.4M69.53 363.44V372.14M67.83 372.14h3.4M72.34 359.86V351.16M70.64 351.16h3.4M72.34 359.86V368.56M70.64 368.56h3.4M75.15 356.3V347.6M73.45 347.6h3.4M75.15 356.3V365M73.45 365h3.4M77.96 352.61V343.91M76.26 343.91h3.4M77.96 352.61V361.31M76.26 361.31h3.4M80.77 349.33V340.63M79.07 340.63h3.4M80.77 349.33V358.03M79.07 358.03h3.4M83.58 346.97V338.27M81.88 338.27h3.4M83.58 346.97V355.67M81.88 355.67h3.4M86.39 345.1V336.4M84.69 336.4h3.4M86.39 345.1V353.8M84.69 353.8h3.4M89.2 343.58V334.88M87.5 334.88h3.4M89.2 343.58V352.28M87.5 352.28h3.4M92.01 342.33V333.63M90.31 333.63h3.4M92.01 342.33V351.03M90.31 351.03h3.4M94.82 341.16V332.46M93.12 332.46h3.4M94.82 341.16V349.86M93.12 349.86h3.4M97.63 340.56V331.86M95.93 331.86h3.4M97.63 340.56V349.26M95.93 349.26h3.4M100.44 340.55V331.85M98.74 331.85h3.4M100.44 340.55V349.25M98.74 349.25h3.4M103.25 340.58V331.88M101.55 331.88h3.4M103.25 340.58V349.28M101.55 349.28h3.4M106.06 342.77V334.07M104.36 334.07h3.4M106.06 342.77V351.47M104.36 351.47h3.4M108.87 345.11V336.41M107.17 336.41h3.4M108.87 345.11V353.81M107.17 353.81h3.4M111.68 346.6V337.9M109.98 337.9h3.4M111.68 346.6V355.3M109.98 355.3h3.4M114.49 347.91V339.21M112.79 339.21h3.4M114.49 347.91V356.61M112.79 356.61h3.4M117.3 349.25V340.55M115.6 340.55h3.4M117.3 349.25V357.95M115.6 357.95h3.4M120.11 350.82V342.12M118.41 342.12h3.4M120.11 350.82V359.52M118.41 359.52h3.4M122.92 352.54V343.84M121.22 343.84h3.4M122.92 352.54V361.24M121.22 361.24h3.4M125.73 354.26V345.56M124.03 345.56h3.4M125.73 354.26V362.96M124.03 362.96h3.4M128.54 355.85V347.15M126.84 347.15h3.4M128.54 355.85V364.55M126.84 364.55h3.4M131.35 357.29V348.59M129.65 348.59h3.4M131.35 357.29V365.99M129.65 365.99h3.4M134.16 358.65V349.95M132.46 349.95h3.4M134.16 358.65V367.35M132.46 367.35h3.4M136.97 360.06V351.36M135.27 351.36h3.4M136.97 360.06V368.76M135.27 368.76h3.4M139.78 361.57V352.87M138.08 352.87h3.4M139.78 361.57V370.27M138.08 370.27h3.4M142.59 363.18V354.48M140.89 354.48h3.4M142.59 363.18V371.88M140.89 371.88h3.4M145.4 364.85V356.15M143.7 356.15h3.4M145.4 364.85V373.55M143.7 373.55h3.4" fill="none" stroke="#111" stroke-width="0.95"/>
<path d="M33 401 L35.81 400.8 L38.62 400.27 L41.43 399.5 L44.24 397.77 L47.05 395 L49.86 391.02 L52.67 387.09 L55.48 383.25 L58.29 379.29 L61.1 375.14 L63.91 371.02 L66.72 367.14 L69.53 363.44 L72.34 359.86 L75.15 356.3 L77.96 352.61 L80.77 349.33 L83.58 346.97 L86.39 345.1 L89.2 343.58 L92.01 342.33 L94.82 341.16 L97.63 340.56 L100.44 340.55 L103.25 340.58 L106.06 342.77 L108.87 345.11 L111.68 346.6 L114.49 347.91 L117.3 349.25 L120.11 350.82 L122.92 352.54 L125.73 354.26 L128.54 355.85 L131.35 357.29 L134.16 358.65 L136.97 360.06 L139.78 361.57 L142.59 363.18 L145.4 364.85" fill="none" stroke="#000" stroke-width="1.1" stroke-linejoin="round"/>
<circle cx="33" cy="401" r="1.7"/>
<circle cx="35.81" cy="400.8" r="1.7"/>
<circle cx="38.62" cy="400.27" r="1.7"/>
<circle cx="41.43" cy="399.5" r="1.7"/>
<circle cx="44.24" cy="397.77" r="1.7"/>
<circle cx="47.05" cy="395" r="1.7"/>
<circle cx="49.86" cy="391.02" r="1.7"/>
<circle cx="52.67" cy="387.09" r="1.7"/>
<circle cx="55.48" cy="383.25" r="1.7"/>
<circle cx="58.29" cy="379.29" r="1.7"/>
<circle cx="61.1" cy="375.14" r="1.7"/>
<circle cx="63.91" cy="371.02" r="1.7"/>
<circle cx="66.72" cy="367.14" r="1.7"/>
<circle cx="69.53" cy="363.44" r="1.7"/>
<circle cx="72.34" cy="359.86" r="1.7"/>
<circle cx="75.15" cy="356.3" r="1.7"/>
<circle cx="77.96" cy="352.61" r="1.7"/>
<circle cx="80.77" cy="349.33" r="1.7"/>
<circle cx="83.58" cy="346.97" r="1.7"/>
<circle cx="86.39" cy="345.1" r="1.7"/>
<circle cx="89.2" cy="343.58" r="1.7"/>
<circle cx="92.01" cy="342.33" r="1.7"/>
<circle cx="94.82" cy="341.16" r="1.7"/>
<circle cx="97.63" cy="340.56" r="1.7"/>
<circle cx="100.44" cy="340.55" r="1.7"/>
<circle cx="103.25" cy="340.58" r="1.7"/>
<circle cx="106.06" cy="342.77" r="1.7"/>
<circle cx="108.87" cy="345.11" r="1.7"/>
<circle cx="111.68" cy="346.6" r="1.7"/>
<circle cx="114.49" cy="347.91" r="1.7"/>
<circle cx="117.3" cy="349.25" r="1.7"/>
<circle cx="120.11" cy="350.82" r="1.7"/>
<circle cx="122.92" cy="352.54" r="1.7"/>
<circle cx="125.73" cy="354.26" r="1.7"/>
<circle cx="128.54" cy="355.85" r="1.7"/>
<circle cx="131.35" cy="357.29" r="1.7"/>
<circle cx="134.16" cy="358.65" r="1.7"/>
<circle cx="136.97" cy="360.06" r="1.7"/>
<circle cx="139.78" cy="361.57" r="1.7"/>
<circle cx="142.59" cy="363.18" r="1.7"/>
<circle cx="145.4" cy="364.85" r="1.7"/>
<circle cx="120.3" cy="307.3" r="1.35"/>
<text x="128.8" y="309.48" font-size="6.05" font-weight="bold" class="m">Control</text>
<line x1="115.8" y1="316.1" x2="124.8" y2="316.1" stroke="#000" stroke-width="1.3"/>
<circle cx="120.3" cy="316.1" r="1.7"/>
<text x="130.48" y="318.28" font-size="6.05" font-weight="bold" class="m">TNF</text>
<line x1="115.8" y1="324.9" x2="124.8" y2="324.9" stroke="#000" stroke-width="1.3"/>
<circle cx="120.3" cy="324.9" r="1.55" class="hf"/>
<line x1="120.3" y1="323" x2="120.3" y2="326.8" stroke="#000" stroke-width="0.8"/>
<text x="128.8" y="327.08" font-size="6.05" font-weight="bold" class="m">TNF+ IC87114 (0.5 &#956;M)</text>
<line x1="115.8" y1="333.7" x2="124.8" y2="333.7" stroke="#000" stroke-width="1.3"/>
<path d="M120.3 331.9l1.8 1.8l-1.8 1.8l-1.8-1.8z" class="hf"/>
<text x="128.8" y="335.88" font-size="6.05" font-weight="bold" class="m">IC87114 (0.5 &#956;M)</text>
<text x="211.17" y="311.95" font-size="12.8" class="l">H</text>
<line x1="241" y1="333.7" x2="241" y2="400.5" stroke="#000" stroke-width="1.25"/>
<line x1="238.4" y1="400" x2="241" y2="400" stroke="#000" stroke-width="1.0"/>
<text x="238.4" y="402.02" font-size="5.6" font-weight="bold" text-anchor="end" class="m">0</text>
<line x1="238.4" y1="386.8" x2="241" y2="386.8" stroke="#000" stroke-width="1.0"/>
<text x="238.4" y="388.82" font-size="5.6" font-weight="bold" text-anchor="end" class="m">100</text>
<line x1="238.4" y1="373.6" x2="241" y2="373.6" stroke="#000" stroke-width="1.0"/>
<text x="238.4" y="375.62" font-size="5.6" font-weight="bold" text-anchor="end" class="m">200</text>
<line x1="238.4" y1="360.4" x2="241" y2="360.4" stroke="#000" stroke-width="1.0"/>
<text x="238.4" y="362.42" font-size="5.6" font-weight="bold" text-anchor="end" class="m">300</text>
<line x1="238.4" y1="347.2" x2="241" y2="347.2" stroke="#000" stroke-width="1.0"/>
<text x="238.4" y="349.22" font-size="5.6" font-weight="bold" text-anchor="end" class="m">400</text>
<line x1="238.4" y1="334" x2="241" y2="334" stroke="#000" stroke-width="1.0"/>
<text x="238.4" y="336.02" font-size="5.6" font-weight="bold" text-anchor="end" class="m">500</text>
<line x1="240.5" y1="400" x2="340.9" y2="400" stroke="#000" stroke-width="1.25"/>
<line x1="241" y1="400" x2="241" y2="402.2" stroke="#000" stroke-width="0.9"/>
<text x="241" y="408.62" font-size="5.6" font-weight="bold" text-anchor="middle" class="m">0</text>
<line x1="265.9" y1="400" x2="265.9" y2="402.2" stroke="#000" stroke-width="0.9"/>
<text x="265.9" y="408.62" font-size="5.6" font-weight="bold" text-anchor="middle" class="m">10</text>
<line x1="290.8" y1="400" x2="290.8" y2="402.2" stroke="#000" stroke-width="0.9"/>
<text x="290.8" y="408.62" font-size="5.6" font-weight="bold" text-anchor="middle" class="m">20</text>
<line x1="315.7" y1="400" x2="315.7" y2="402.2" stroke="#000" stroke-width="0.9"/>
<text x="315.7" y="408.62" font-size="5.6" font-weight="bold" text-anchor="middle" class="m">30</text>
<line x1="340.6" y1="400" x2="340.6" y2="402.2" stroke="#000" stroke-width="0.9"/>
<text x="340.6" y="408.62" font-size="5.6" font-weight="bold" text-anchor="middle" class="m">40</text>
<text x="272.1" y="420.2" font-size="8.15" font-weight="bold" class="h">Time(min)</text>
<text x="0" y="0" font-size="7.8" font-weight="bold" text-anchor="middle" class="h" transform="translate(222.8,365.9) rotate(-90)">cps</text>
<path d="M243.49 399.78V399.68M241.79 399.68h3.4M243.49 399.78V399.88M241.79 399.88h3.4M245.98 399.56V399.36M244.28 399.36h3.4M245.98 399.56V399.76M244.28 399.76h3.4M248.47 399.35V399.06M246.77 399.06h3.4M248.47 399.35V399.64M246.77 399.64h3.4M250.96 399.14V398.76M249.26 398.76h3.4M250.96 399.14V399.53M249.26 399.53h3.4M253.45 398.94V398.47M251.75 398.47h3.4M253.45 398.94V399.42M251.75 399.42h3.4M255.94 398.76V398.19M254.24 398.19h3.4M255.94 398.76V399.32M254.24 399.32h3.4M258.43 398.58V397.94M256.73 397.94h3.4M258.43 398.58V399.22M256.73 399.22h3.4M260.92 398.4V397.68M259.22 397.68h3.4M260.92 398.4V399.12M259.22 399.12h3.4M263.41 398.22V397.42M261.71 397.42h3.4M263.41 398.22V399.02M261.71 399.02h3.4M265.9 398.02V397.13M264.2 397.13h3.4M265.9 398.02V398.91M264.2 398.91h3.4M268.39 397.79V396.79M266.69 396.79h3.4M268.39 397.79V398.78M266.69 398.78h3.4M270.88 397.52V396.41M269.18 396.41h3.4M270.88 397.52V398.64M269.18 398.64h3.4M273.37 397.26V396.02M271.67 396.02h3.4M273.37 397.26V398.49M271.67 398.49h3.4M275.86 397.02V395.67M274.16 395.67h3.4M275.86 397.02V398.36M274.16 398.36h3.4M278.35 396.83V395.41M276.65 395.41h3.4M278.35 396.83V398.26M276.65 398.26h3.4M280.84 396.68V395.19M279.14 395.19h3.4M280.84 396.68V398.18M279.14 398.18h3.4M283.33 396.54V394.98M281.63 394.98h3.4M283.33 396.54V398.1M281.63 398.1h3.4M285.82 396.42V394.81M284.12 394.81h3.4M285.82 396.42V398.03M284.12 398.03h3.4M288.31 396.34V394.69M286.61 394.69h3.4M288.31 396.34V397.98M286.61 397.98h3.4M290.8 396.3V394.64M289.1 394.64h3.4M290.8 396.3V397.97M289.1 397.97h3.4M293.29 396.31V394.65M291.59 394.65h3.4M293.29 396.31V397.97M291.59 397.97h3.4M295.78 396.33V394.68M294.08 394.68h3.4M295.78 396.33V397.98M294.08 397.98h3.4M298.27 396.36V394.72M296.57 394.72h3.4M298.27 396.36V398M296.57 398h3.4M300.76 396.4V394.78M299.06 394.78h3.4M300.76 396.4V398.02M299.06 398.02h3.4M303.25 396.44V394.83M301.55 394.83h3.4M303.25 396.44V398.04M301.55 398.04h3.4M305.74 396.49V394.91M304.04 394.91h3.4M305.74 396.49V398.07M304.04 398.07h3.4M308.23 396.56V395.01M306.53 395.01h3.4M308.23 396.56V398.11M306.53 398.11h3.4M310.72 396.65V395.14M309.02 395.14h3.4M310.72 396.65V398.16M309.02 398.16h3.4M313.21 396.74V395.27M311.51 395.27h3.4M313.21 396.74V398.21M311.51 398.21h3.4M315.7 396.83V395.41M314 395.41h3.4M315.7 396.83V398.26M314 398.26h3.4M318.19 396.93V395.55M316.49 395.55h3.4M318.19 396.93V398.31M316.49 398.31h3.4M320.68 397.04V395.71M318.98 395.71h3.4M320.68 397.04V398.37M318.98 398.37h3.4M323.17 397.15V395.87M321.47 395.87h3.4M323.17 397.15V398.43M321.47 398.43h3.4M325.66 397.26V396.03M323.96 396.03h3.4M325.66 397.26V398.49M323.96 398.49h3.4M328.15 397.36V396.17M326.45 396.17h3.4M328.15 397.36V398.55M326.45 398.55h3.4M330.64 397.45V396.3M328.94 396.3h3.4M330.64 397.45V398.6M328.94 398.6h3.4M333.13 397.53V396.42M331.43 396.42h3.4M333.13 397.53V398.64M331.43 398.64h3.4M335.62 397.61V396.54M333.92 396.54h3.4M335.62 397.61V398.69M333.92 398.69h3.4M338.11 397.69V396.65M336.41 396.65h3.4M338.11 397.69V398.73M336.41 398.73h3.4M340.6 397.76V396.75M338.9 396.75h3.4M340.6 397.76V398.77M338.9 398.77h3.4" fill="none" stroke="#111" stroke-width="0.95"/>
<path d="M241 400 L243.49 399.78 L245.98 399.56 L248.47 399.35 L250.96 399.14 L253.45 398.94 L255.94 398.76 L258.43 398.58 L260.92 398.4 L263.41 398.22 L265.9 398.02 L268.39 397.79 L270.88 397.52 L273.37 397.26 L275.86 397.02 L278.35 396.83 L280.84 396.68 L283.33 396.54 L285.82 396.42 L288.31 396.34 L290.8 396.3 L293.29 396.31 L295.78 396.33 L298.27 396.36 L300.76 396.4 L303.25 396.44 L305.74 396.49 L308.23 396.56 L310.72 396.65 L313.21 396.74 L315.7 396.83 L318.19 396.93 L320.68 397.04 L323.17 397.15 L325.66 397.26 L328.15 397.36 L330.64 397.45 L333.13 397.53 L335.62 397.61 L338.11 397.69 L340.6 397.76" fill="none" stroke="#000" stroke-width="2.6" stroke-linejoin="round"/>
<circle cx="241" cy="400" r="1.7"/>
<circle cx="243.49" cy="399.78" r="1.7"/>
<circle cx="245.98" cy="399.56" r="1.7"/>
<circle cx="248.47" cy="399.35" r="1.7"/>
<circle cx="250.96" cy="399.14" r="1.7"/>
<circle cx="253.45" cy="398.94" r="1.7"/>
<circle cx="255.94" cy="398.76" r="1.7"/>
<circle cx="258.43" cy="398.58" r="1.7"/>
<circle cx="260.92" cy="398.4" r="1.7"/>
<circle cx="263.41" cy="398.22" r="1.7"/>
<circle cx="265.9" cy="398.02" r="1.7"/>
<circle cx="268.39" cy="397.79" r="1.7"/>
<circle cx="270.88" cy="397.52" r="1.7"/>
<circle cx="273.37" cy="397.26" r="1.7"/>
<circle cx="275.86" cy="397.02" r="1.7"/>
<circle cx="278.35" cy="396.83" r="1.7"/>
<circle cx="280.84" cy="396.68" r="1.7"/>
<circle cx="283.33" cy="396.54" r="1.7"/>
<circle cx="285.82" cy="396.42" r="1.7"/>
<circle cx="288.31" cy="396.34" r="1.7"/>
<circle cx="290.8" cy="396.3" r="1.7"/>
<circle cx="293.29" cy="396.31" r="1.7"/>
<circle cx="295.78" cy="396.33" r="1.7"/>
<circle cx="298.27" cy="396.36" r="1.7"/>
<circle cx="300.76" cy="396.4" r="1.7"/>
<circle cx="303.25" cy="396.44" r="1.7"/>
<circle cx="305.74" cy="396.49" r="1.7"/>
<circle cx="308.23" cy="396.56" r="1.7"/>
<circle cx="310.72" cy="396.65" r="1.7"/>
<circle cx="313.21" cy="396.74" r="1.7"/>
<circle cx="315.7" cy="396.83" r="1.7"/>
<circle cx="318.19" cy="396.93" r="1.7"/>
<circle cx="320.68" cy="397.04" r="1.7"/>
<circle cx="323.17" cy="397.15" r="1.7"/>
<circle cx="325.66" cy="397.26" r="1.7"/>
<circle cx="328.15" cy="397.36" r="1.7"/>
<circle cx="330.64" cy="397.45" r="1.7"/>
<circle cx="333.13" cy="397.53" r="1.7"/>
<circle cx="335.62" cy="397.61" r="1.7"/>
<circle cx="338.11" cy="397.69" r="1.7"/>
<circle cx="340.6" cy="397.76" r="1.7"/>
<path d="M241 400V398.94M239.3 398.94h3.4M241 400V400M239.3 400h3.4M243.49 380.34V373.39M241.79 373.39h3.4M243.49 380.34V387.3M241.79 387.3h3.4M245.98 381.52V374.92M244.28 374.92h3.4M245.98 381.52V388.12M244.28 388.12h3.4M248.47 390.53V386.63M246.77 386.63h3.4M248.47 390.53V394.42M246.77 394.42h3.4M250.96 394.94V392.36M249.26 392.36h3.4M250.96 394.94V397.51M249.26 397.51h3.4M253.45 395.56V393.17M251.75 393.17h3.4M253.45 395.56V397.95M251.75 397.95h3.4M255.94 394.96V392.39M254.24 392.39h3.4M255.94 394.96V397.53M254.24 397.53h3.4M258.43 393.99V391.13M256.73 391.13h3.4M258.43 393.99V396.85M256.73 396.85h3.4M260.92 392.86V389.66M259.22 389.66h3.4M260.92 392.86V396.06M259.22 396.06h3.4M263.41 391.82V388.3M261.71 388.3h3.4M263.41 391.82V395.33M261.71 395.33h3.4M265.9 390.8V386.99M264.2 386.99h3.4M265.9 390.8V394.62M264.2 394.62h3.4M268.39 389.68V385.53M266.69 385.53h3.4M268.39 389.68V393.83M266.69 393.83h3.4M270.88 388.52V384.02M269.18 384.02h3.4M270.88 388.52V393.02M269.18 393.02h3.4M273.37 387.4V382.57M271.67 382.57h3.4M273.37 387.4V392.24M271.67 392.24h3.4M275.86 386.41V381.27M274.16 381.27h3.4M275.86 386.41V391.54M274.16 391.54h3.4M278.35 385.61V380.24M276.65 380.24h3.4M278.35 385.61V390.98M276.65 390.98h3.4M280.84 384.92V379.34M279.14 379.34h3.4M280.84 384.92V390.5M279.14 390.5h3.4M283.33 384.25V378.46M281.63 378.46h3.4M283.33 384.25V390.03M281.63 390.03h3.4M285.82 383.68V377.73M284.12 377.73h3.4M285.82 383.68V389.63M284.12 389.63h3.4M288.31 383.32V377.26M286.61 377.26h3.4M288.31 383.32V389.38M286.61 389.38h3.4M290.8 383.28V377.21M289.1 377.21h3.4M290.8 383.28V389.35M289.1 389.35h3.4M293.29 383.62V377.65M291.59 377.65h3.4M293.29 383.62V389.59M291.59 389.59h3.4M295.78 383.91V378.03M294.08 378.03h3.4M295.78 383.91V389.8M294.08 389.8h3.4M298.27 384.2V378.41M296.57 378.41h3.4M298.27 384.2V390M296.57 390h3.4M300.76 384.5V378.8M299.06 378.8h3.4M300.76 384.5V390.21M299.06 390.21h3.4M303.25 384.82V379.22M301.55 379.22h3.4M303.25 384.82V390.43M301.55 390.43h3.4M305.74 385.18V379.67M304.04 379.67h3.4M305.74 385.18V390.68M304.04 390.68h3.4M308.23 385.57V380.18M306.53 380.18h3.4M308.23 385.57V390.95M306.53 390.95h3.4M310.72 386.04V380.79M309.02 380.79h3.4M310.72 386.04V391.28M309.02 391.28h3.4M313.21 386.59V381.51M311.51 381.51h3.4M313.21 386.59V391.67M311.51 391.67h3.4M315.7 387.21V382.32M314 382.32h3.4M315.7 387.21V392.1M314 392.1h3.4M318.19 387.88V383.18M316.49 383.18h3.4M318.19 387.88V392.57M316.49 392.57h3.4M320.68 388.56V384.07M318.98 384.07h3.4M320.68 388.56V393.05M318.98 393.05h3.4M323.17 389.25V384.97M321.47 384.97h3.4M323.17 389.25V393.53M321.47 393.53h3.4M325.66 389.91V385.83M323.96 385.83h3.4M325.66 389.91V394M323.96 394h3.4M328.15 390.56V386.67M326.45 386.67h3.4M328.15 390.56V394.45M326.45 394.45h3.4M330.64 391.27V387.59M328.94 387.59h3.4M330.64 391.27V394.94M328.94 394.94h3.4M333.13 391.99V388.53M331.43 388.53h3.4M333.13 391.99V395.45M331.43 395.45h3.4M335.62 392.64V389.37M333.92 389.37h3.4M335.62 392.64V395.9M333.92 395.9h3.4M338.11 393.13V390.02M336.41 390.02h3.4M338.11 393.13V396.25M336.41 396.25h3.4M340.6 393.4V390.36M338.9 390.36h3.4M340.6 393.4V396.44M338.9 396.44h3.4" fill="none" stroke="#111" stroke-width="0.95"/>
<path d="M241 400 L243.49 380.34 L245.98 381.52 L248.47 390.53 L250.96 394.94 L253.45 395.56 L255.94 394.96 L258.43 393.99 L260.92 392.86 L263.41 391.82 L265.9 390.8 L268.39 389.68 L270.88 388.52 L273.37 387.4 L275.86 386.41 L278.35 385.61 L280.84 384.92 L283.33 384.25 L285.82 383.68 L288.31 383.32 L290.8 383.28 L293.29 383.62 L295.78 383.91 L298.27 384.2 L300.76 384.5 L303.25 384.82 L305.74 385.18 L308.23 385.57 L310.72 386.04 L313.21 386.59 L315.7 387.21 L318.19 387.88 L320.68 388.56 L323.17 389.25 L325.66 389.91 L328.15 390.56 L330.64 391.27 L333.13 391.99 L335.62 392.64 L338.11 393.13 L340.6 393.4" fill="none" stroke="#000" stroke-width="1.1" stroke-linejoin="round"/>
<circle cx="241" cy="400" r="1.55" class="hf"/>
<circle cx="243.49" cy="380.34" r="1.55" class="hf"/>
<circle cx="245.98" cy="381.52" r="1.55" class="hf"/>
<circle cx="248.47" cy="390.53" r="1.55" class="hf"/>
<circle cx="250.96" cy="394.94" r="1.55" class="hf"/>
<circle cx="253.45" cy="395.56" r="1.55" class="hf"/>
<circle cx="255.94" cy="394.96" r="1.55" class="hf"/>
<circle cx="258.43" cy="393.99" r="1.55" class="hf"/>
<circle cx="260.92" cy="392.86" r="1.55" class="hf"/>
<circle cx="263.41" cy="391.82" r="1.55" class="hf"/>
<circle cx="265.9" cy="390.8" r="1.55" class="hf"/>
<circle cx="268.39" cy="389.68" r="1.55" class="hf"/>
<circle cx="270.88" cy="388.52" r="1.55" class="hf"/>
<circle cx="273.37" cy="387.4" r="1.55" class="hf"/>
<circle cx="275.86" cy="386.41" r="1.55" class="hf"/>
<circle cx="278.35" cy="385.61" r="1.55" class="hf"/>
<circle cx="280.84" cy="384.92" r="1.55" class="hf"/>
<circle cx="283.33" cy="384.25" r="1.55" class="hf"/>
<circle cx="285.82" cy="383.68" r="1.55" class="hf"/>
<circle cx="288.31" cy="383.32" r="1.55" class="hf"/>
<circle cx="290.8" cy="383.28" r="1.55" class="hf"/>
<circle cx="293.29" cy="383.62" r="1.55" class="hf"/>
<circle cx="295.78" cy="383.91" r="1.55" class="hf"/>
<circle cx="298.27" cy="384.2" r="1.55" class="hf"/>
<circle cx="300.76" cy="384.5" r="1.55" class="hf"/>
<circle cx="303.25" cy="384.82" r="1.55" class="hf"/>
<circle cx="305.74" cy="385.18" r="1.55" class="hf"/>
<circle cx="308.23" cy="385.57" r="1.55" class="hf"/>
<circle cx="310.72" cy="386.04" r="1.55" class="hf"/>
<circle cx="313.21" cy="386.59" r="1.55" class="hf"/>
<circle cx="315.7" cy="387.21" r="1.55" class="hf"/>
<circle cx="318.19" cy="387.88" r="1.55" class="hf"/>
<circle cx="320.68" cy="388.56" r="1.55" class="hf"/>
<circle cx="323.17" cy="389.25" r="1.55" class="hf"/>
<circle cx="325.66" cy="389.91" r="1.55" class="hf"/>
<circle cx="328.15" cy="390.56" r="1.55" class="hf"/>
<circle cx="330.64" cy="391.27" r="1.55" class="hf"/>
<circle cx="333.13" cy="391.99" r="1.55" class="hf"/>
<circle cx="335.62" cy="392.64" r="1.55" class="hf"/>
<circle cx="338.11" cy="393.13" r="1.55" class="hf"/>
<circle cx="340.6" cy="393.4" r="1.55" class="hf"/>
<path d="M241 400V397.36M239.3 397.36h3.4M243.49 362.41V352.25M241.79 352.25h3.4M245.98 359.78V349.1M244.28 349.1h3.4M248.47 371.73V363.44M246.77 363.44h3.4M250.96 380.11V373.49M249.26 373.49h3.4M253.45 381.64V375.33M251.75 375.33h3.4M255.94 380.7V374.19M254.24 374.19h3.4M258.43 377.29V370.11M256.73 370.11h3.4M260.92 373.48V365.54M259.22 365.54h3.4M263.41 369.77V361.09M261.71 361.09h3.4M265.9 366.42V357.07M264.2 357.07h3.4M268.39 363.29V353.31M266.69 353.31h3.4M270.88 360.86V350.39M269.18 350.39h3.4M273.37 359.06V348.23M271.67 348.23h3.4M275.86 357.58V346.46M274.16 346.46h3.4M278.35 356.44V345.09M276.65 345.09h3.4M280.84 355.52V343.98M279.14 343.98h3.4M283.33 354.76V343.07M281.63 343.07h3.4M285.82 354.23V342.44M284.12 342.44h3.4M288.31 353.9V342.04M286.61 342.04h3.4M290.8 353.92V342.06M289.1 342.06h3.4M293.29 354.79V343.11M291.59 343.11h3.4M295.78 355.69V344.18M294.08 344.18h3.4M298.27 356.74V345.45M296.57 345.45h3.4M300.76 358.12V347.1M299.06 347.1h3.4M303.25 360V349.35M301.55 349.35h3.4M305.74 362.08V351.86M304.04 351.86h3.4M308.23 364.05V354.22M306.53 354.22h3.4M310.72 365.76V356.28M309.02 356.28h3.4M313.21 367.4V358.24M311.51 358.24h3.4M315.7 369V360.16M314 360.16h3.4M318.19 370.63V362.11M316.49 362.11h3.4M320.68 372.28V364.09M318.98 364.09h3.4M323.17 373.92V366.07M321.47 366.07h3.4M325.66 375.56V368.03M323.96 368.03h3.4M328.15 377.19V369.99M326.45 369.99h3.4M330.64 378.89V372.02M328.94 372.02h3.4M333.13 380.58V374.05M331.43 374.05h3.4M335.62 382.19V375.99M333.92 375.99h3.4M338.11 383.64V377.73M336.41 377.73h3.4M340.6 384.82V379.14M338.9 379.14h3.4" fill="none" stroke="#111" stroke-width="0.95"/>
<path d="M241 400 L243.49 362.41 L245.98 359.78 L248.47 371.73 L250.96 380.11 L253.45 381.64 L255.94 380.7 L258.43 377.29 L260.92 373.48 L263.41 369.77 L265.9 366.42 L268.39 363.29 L270.88 360.86 L273.37 359.06 L275.86 357.58 L278.35 356.44 L280.84 355.52 L283.33 354.76 L285.82 354.23 L288.31 353.9 L290.8 353.92 L293.29 354.79 L295.78 355.69 L298.27 356.74 L300.76 358.12 L303.25 360 L305.74 362.08 L308.23 364.05 L310.72 365.76 L313.21 367.4 L315.7 369 L318.19 370.63 L320.68 372.28 L323.17 373.92 L325.66 375.56 L328.15 377.19 L330.64 378.89 L333.13 380.58 L335.62 382.19 L338.11 383.64 L340.6 384.82" fill="none" stroke="#000" stroke-width="1.1" stroke-linejoin="round"/>
<circle cx="241" cy="400" r="1.7"/>
<circle cx="243.49" cy="362.41" r="1.7"/>
<circle cx="245.98" cy="359.78" r="1.7"/>
<circle cx="248.47" cy="371.73" r="1.7"/>
<circle cx="250.96" cy="380.11" r="1.7"/>
<circle cx="253.45" cy="381.64" r="1.7"/>
<circle cx="255.94" cy="380.7" r="1.7"/>
<circle cx="258.43" cy="377.29" r="1.7"/>
<circle cx="260.92" cy="373.48" r="1.7"/>
<circle cx="263.41" cy="369.77" r="1.7"/>
<circle cx="265.9" cy="366.42" r="1.7"/>
<circle cx="268.39" cy="363.29" r="1.7"/>
<circle cx="270.88" cy="360.86" r="1.7"/>
<circle cx="273.37" cy="359.06" r="1.7"/>
<circle cx="275.86" cy="357.58" r="1.7"/>
<circle cx="278.35" cy="356.44" r="1.7"/>
<circle cx="280.84" cy="355.52" r="1.7"/>
<circle cx="283.33" cy="354.76" r="1.7"/>
<circle cx="285.82" cy="354.23" r="1.7"/>
<circle cx="288.31" cy="353.9" r="1.7"/>
<circle cx="290.8" cy="353.92" r="1.7"/>
<circle cx="293.29" cy="354.79" r="1.7"/>
<circle cx="295.78" cy="355.69" r="1.7"/>
<circle cx="298.27" cy="356.74" r="1.7"/>
<circle cx="300.76" cy="358.12" r="1.7"/>
<circle cx="303.25" cy="360" r="1.7"/>
<circle cx="305.74" cy="362.08" r="1.7"/>
<circle cx="308.23" cy="364.05" r="1.7"/>
<circle cx="310.72" cy="365.76" r="1.7"/>
<circle cx="313.21" cy="367.4" r="1.7"/>
<circle cx="315.7" cy="369" r="1.7"/>
<circle cx="318.19" cy="370.63" r="1.7"/>
<circle cx="320.68" cy="372.28" r="1.7"/>
<circle cx="323.17" cy="373.92" r="1.7"/>
<circle cx="325.66" cy="375.56" r="1.7"/>
<circle cx="328.15" cy="377.19" r="1.7"/>
<circle cx="330.64" cy="378.89" r="1.7"/>
<circle cx="333.13" cy="380.58" r="1.7"/>
<circle cx="335.62" cy="382.19" r="1.7"/>
<circle cx="338.11" cy="383.64" r="1.7"/>
<circle cx="340.6" cy="384.82" r="1.7"/>
<circle cx="312.3" cy="317.8" r="1.35"/>
<text x="320.2" y="319.74" font-size="5.4" font-weight="bold" class="m">Control</text>
<line x1="307.8" y1="325.87" x2="316.8" y2="325.87" stroke="#000" stroke-width="1.3"/>
<circle cx="312.3" cy="325.87" r="1.7"/>
<text x="320.2" y="327.81" font-size="5.4" font-weight="bold" class="m">fMLP</text>
<line x1="307.8" y1="333.94" x2="316.8" y2="333.94" stroke="#000" stroke-width="1.3"/>
<circle cx="312.3" cy="333.94" r="1.55" class="hf"/>
<line x1="312.3" y1="332.04" x2="312.3" y2="335.84" stroke="#000" stroke-width="0.8"/>
<text x="320.2" y="335.88" font-size="5.4" font-weight="bold" class="m">fMLP + IC87114 (0.5 &#956;M)</text>
<line x1="307.8" y1="342.01" x2="316.8" y2="342.01" stroke="#000" stroke-width="1.3"/>
<path d="M312.3 340.21l1.8 1.8l-1.8 1.8l-1.8-1.8z" class="hf"/>
<text x="320.2" y="343.95" font-size="5.4" font-weight="bold" class="m">IC87114 (0.5 &#956;M)</text>
<text x="391.4" y="11.25" font-size="12.8" class="l">C</text>
<line x1="424.75" y1="39.7" x2="424.75" y2="65.6" stroke="#000" stroke-width="1.25"/>
<line x1="424.75" y1="70.6" x2="424.75" y2="96.75" stroke="#000" stroke-width="1.25"/>
<line x1="422.75" y1="40" x2="424.75" y2="40" stroke="#000" stroke-width="0.8"/>
<text x="422.45" y="41.69" font-size="4.7" font-weight="bold" text-anchor="end" class="m">10000</text>
<line x1="422.75" y1="45.78" x2="424.75" y2="45.78" stroke="#000" stroke-width="0.8"/>
<text x="422.45" y="47.47" font-size="4.7" font-weight="bold" text-anchor="end" class="m">8000</text>
<line x1="422.75" y1="51.56" x2="424.75" y2="51.56" stroke="#000" stroke-width="0.8"/>
<text x="422.45" y="53.25" font-size="4.7" font-weight="bold" text-anchor="end" class="m">6000</text>
<line x1="422.75" y1="57.34" x2="424.75" y2="57.34" stroke="#000" stroke-width="0.8"/>
<text x="422.45" y="59.03" font-size="4.7" font-weight="bold" text-anchor="end" class="m">4000</text>
<line x1="422.75" y1="63.12" x2="424.75" y2="63.12" stroke="#000" stroke-width="0.8"/>
<text x="422.45" y="64.81" font-size="4.7" font-weight="bold" text-anchor="end" class="m">2000</text>
<line x1="422.75" y1="70.6" x2="424.75" y2="70.6" stroke="#000" stroke-width="0.8"/>
<text x="422.45" y="72.29" font-size="4.7" font-weight="bold" text-anchor="end" class="m">600</text>
<line x1="422.75" y1="79.15" x2="424.75" y2="79.15" stroke="#000" stroke-width="0.8"/>
<text x="422.45" y="80.84" font-size="4.7" font-weight="bold" text-anchor="end" class="m">400</text>
<line x1="422.75" y1="87.7" x2="424.75" y2="87.7" stroke="#000" stroke-width="0.8"/>
<text x="422.45" y="89.39" font-size="4.7" font-weight="bold" text-anchor="end" class="m">200</text>
<line x1="422.75" y1="96.25" x2="424.75" y2="96.25" stroke="#000" stroke-width="0.8"/>
<text x="422.45" y="97.94" font-size="4.7" font-weight="bold" text-anchor="end" class="m">0</text>
<rect x="425.05" y="78.72" width="12.4" height="17.53" fill="#fff" stroke="#000" stroke-width="0.8"/>
<line x1="431.25" y1="78.72" x2="431.25" y2="74.45" stroke="#222" stroke-width="0.7"/>
<line x1="429.75" y1="74.45" x2="432.75" y2="74.45" stroke="#222" stroke-width="0.7"/>
<rect x="439.11" y="82.14" width="12.4" height="14.11" fill="#000"/>
<line x1="445.31" y1="82.14" x2="445.31" y2="78.08" stroke="#222" stroke-width="0.7"/>
<line x1="443.81" y1="78.08" x2="446.81" y2="78.08" stroke="#222" stroke-width="0.7"/>
<rect x="453.17" y="70.6" width="12.4" height="25.65" fill="#fff" stroke="#000" stroke-width="0.8"/>
<rect x="453.17" y="46.5" width="12.4" height="19.1" fill="#fff" stroke="#000" stroke-width="0.8"/>
<line x1="459.37" y1="46.5" x2="459.37" y2="42.46" stroke="#222" stroke-width="0.7"/>
<line x1="457.87" y1="42.46" x2="460.87" y2="42.46" stroke="#222" stroke-width="0.7"/>
<rect x="467.23" y="70.6" width="12.4" height="25.65" fill="#000"/>
<rect x="467.23" y="52.25" width="12.4" height="13.35" fill="#000"/>
<line x1="473.43" y1="52.25" x2="473.43" y2="48.5" stroke="#222" stroke-width="0.7"/>
<line x1="471.93" y1="48.5" x2="474.93" y2="48.5" stroke="#222" stroke-width="0.7"/>
<rect x="481.29" y="70.6" width="12.4" height="25.65" fill="#fff" stroke="#000" stroke-width="0.8"/>
<rect x="481.29" y="48.09" width="12.4" height="17.51" fill="#fff" stroke="#000" stroke-width="0.8"/>
<line x1="487.49" y1="48.09" x2="487.49" y2="43.76" stroke="#222" stroke-width="0.7"/>
<line x1="485.99" y1="43.76" x2="488.99" y2="43.76" stroke="#222" stroke-width="0.7"/>
<rect x="495.35" y="70.6" width="12.4" height="25.65" fill="#000"/>
<rect x="495.35" y="55.4" width="12.4" height="10.2" fill="#000"/>
<line x1="501.55" y1="55.4" x2="501.55" y2="52.74" stroke="#222" stroke-width="0.7"/>
<line x1="500.05" y1="52.74" x2="503.05" y2="52.74" stroke="#222" stroke-width="0.7"/>
<line x1="424.25" y1="96.25" x2="508.75" y2="96.25" stroke="#000" stroke-width="1.25"/>
<line x1="431.25" y1="96.25" x2="431.25" y2="98.25" stroke="#000" stroke-width="0.7"/>
<line x1="445.31" y1="96.25" x2="445.31" y2="98.25" stroke="#000" stroke-width="0.7"/>
<line x1="459.37" y1="96.25" x2="459.37" y2="98.25" stroke="#000" stroke-width="0.7"/>
<line x1="473.43" y1="96.25" x2="473.43" y2="98.25" stroke="#000" stroke-width="0.7"/>
<line x1="487.49" y1="96.25" x2="487.49" y2="98.25" stroke="#000" stroke-width="0.7"/>
<line x1="501.55" y1="96.25" x2="501.55" y2="98.25" stroke="#000" stroke-width="0.7"/>
<text x="0" y="0" font-size="5.1" font-weight="bold" text-anchor="end" transform="translate(430,104.2) rotate(-45) scale(0.9,1)">fMLP (0-2 min)</text>
<text x="0" y="0" font-size="5.1" font-weight="bold" text-anchor="end" transform="translate(444.06,104.2) rotate(-45) scale(0.9,1)">fMLP (0-2 min) + TGX-221</text>
<text x="0" y="0" font-size="5.1" font-weight="bold" text-anchor="end" transform="translate(458.12,104.2) rotate(-45) scale(0.9,1)">fMLP (5-30 min)</text>
<text x="0" y="0" font-size="5.1" font-weight="bold" text-anchor="end" transform="translate(472.18,104.2) rotate(-45) scale(0.9,1)">fMLP (5-30 min) + TGX-221</text>
<text x="0" y="0" font-size="5.1" font-weight="bold" text-anchor="end" transform="translate(486.24,104.2) rotate(-45) scale(0.9,1)">TNF (5-30 min)</text>
<text x="0" y="0" font-size="5.1" font-weight="bold" text-anchor="end" transform="translate(500.3,104.2) rotate(-45) scale(0.9,1)">TNF (5-30 min) + TGX-221</text>
<text x="416.6" y="30.4" font-size="6.1" font-weight="bold">&#177; TGX-221 (40 nM) - &#946; inhibitor</text>
<text x="0" y="0" font-size="7.1" font-weight="bold" text-anchor="middle" class="h" transform="translate(398.4,67.3) rotate(-90)">total counts</text>
<line x1="431.25" y1="70.3" x2="445.3" y2="70.3" stroke="#000" stroke-width="1.1"/>
<line x1="431.25" y1="68.2" x2="431.25" y2="72.4" stroke="#000" stroke-width="1.0"/>
<line x1="445.3" y1="68.2" x2="445.3" y2="72.4" stroke="#000" stroke-width="1.0"/>
<text x="438.27" y="68.5" font-size="5.6" font-weight="bold" text-anchor="middle">ns</text>
<line x1="458.5" y1="38.6" x2="473.75" y2="38.6" stroke="#000" stroke-width="1.1"/>
<line x1="458.5" y1="36.5" x2="458.5" y2="40.7" stroke="#000" stroke-width="1.0"/>
<line x1="473.75" y1="36.5" x2="473.75" y2="40.7" stroke="#000" stroke-width="1.0"/>
<text x="466.12" y="36.8" font-size="5.6" font-weight="bold" text-anchor="middle">ns</text>
<line x1="487.5" y1="38.8" x2="501.5" y2="38.8" stroke="#000" stroke-width="1.1"/>
<line x1="487.5" y1="36.7" x2="487.5" y2="40.9" stroke="#000" stroke-width="1.0"/>
<line x1="501.5" y1="36.7" x2="501.5" y2="40.9" stroke="#000" stroke-width="1.0"/>
<text x="494.5" y="37" font-size="5.6" font-weight="bold" text-anchor="middle">ns</text>
<text x="391" y="156.65" font-size="12.8" class="l">F</text>
<line x1="425" y1="188.1" x2="425" y2="216.9" stroke="#000" stroke-width="1.25"/>
<line x1="425" y1="222.5" x2="425" y2="250.75" stroke="#000" stroke-width="1.25"/>
<line x1="423" y1="188.74" x2="425" y2="188.74" stroke="#000" stroke-width="0.8"/>
<text x="422.7" y="190.43" font-size="4.7" font-weight="bold" text-anchor="end" class="m">8000</text>
<line x1="423" y1="196.85" x2="425" y2="196.85" stroke="#000" stroke-width="0.8"/>
<text x="422.7" y="198.54" font-size="4.7" font-weight="bold" text-anchor="end" class="m">6000</text>
<line x1="423" y1="204.97" x2="425" y2="204.97" stroke="#000" stroke-width="0.8"/>
<text x="422.7" y="206.66" font-size="4.7" font-weight="bold" text-anchor="end" class="m">4000</text>
<line x1="423" y1="213.08" x2="425" y2="213.08" stroke="#000" stroke-width="0.8"/>
<text x="422.7" y="214.78" font-size="4.7" font-weight="bold" text-anchor="end" class="m">2000</text>
<line x1="423" y1="222.5" x2="425" y2="222.5" stroke="#000" stroke-width="0.8"/>
<text x="422.7" y="224.19" font-size="4.7" font-weight="bold" text-anchor="end" class="m">500</text>
<line x1="423" y1="228.05" x2="425" y2="228.05" stroke="#000" stroke-width="0.8"/>
<text x="422.7" y="229.74" font-size="4.7" font-weight="bold" text-anchor="end" class="m">400</text>
<line x1="423" y1="233.6" x2="425" y2="233.6" stroke="#000" stroke-width="0.8"/>
<text x="422.7" y="235.29" font-size="4.7" font-weight="bold" text-anchor="end" class="m">300</text>
<line x1="423" y1="239.15" x2="425" y2="239.15" stroke="#000" stroke-width="0.8"/>
<text x="422.7" y="240.84" font-size="4.7" font-weight="bold" text-anchor="end" class="m">200</text>
<line x1="423" y1="244.7" x2="425" y2="244.7" stroke="#000" stroke-width="0.8"/>
<text x="422.7" y="246.39" font-size="4.7" font-weight="bold" text-anchor="end" class="m">100</text>
<line x1="423" y1="250.25" x2="425" y2="250.25" stroke="#000" stroke-width="0.8"/>
<text x="422.7" y="251.94" font-size="4.7" font-weight="bold" text-anchor="end" class="m">0</text>
<rect x="435.67" y="222.78" width="8.1" height="27.47" fill="#000"/>
<rect x="444.99" y="250.08" width="8.1" height="0.17" fill="#000"/>
<rect x="454.31" y="239.98" width="8.1" height="10.27" fill="#000"/>
<line x1="458.36" y1="239.98" x2="458.36" y2="237.21" stroke="#222" stroke-width="0.7"/>
<line x1="456.86" y1="237.21" x2="459.86" y2="237.21" stroke="#222" stroke-width="0.7"/>
<rect x="463.63" y="238.48" width="8.1" height="11.77" fill="#fff" stroke="#000" stroke-width="0.8"/>
<line x1="467.68" y1="238.48" x2="467.68" y2="233.49" stroke="#222" stroke-width="0.7"/>
<line x1="466.18" y1="233.49" x2="469.18" y2="233.49" stroke="#222" stroke-width="0.7"/>
<rect x="472.95" y="222.5" width="8.1" height="27.75" fill="#000"/>
<rect x="472.95" y="198.75" width="8.1" height="18.15" fill="#000"/>
<line x1="477" y1="198.75" x2="477" y2="193.11" stroke="#222" stroke-width="0.7"/>
<line x1="475.5" y1="193.11" x2="478.5" y2="193.11" stroke="#222" stroke-width="0.7"/>
<rect x="482.27" y="234.77" width="8.1" height="15.48" fill="#fff" stroke="#000" stroke-width="0.8"/>
<line x1="486.32" y1="234.77" x2="486.32" y2="225.61" stroke="#222" stroke-width="0.7"/>
<line x1="484.82" y1="225.61" x2="487.82" y2="225.61" stroke="#222" stroke-width="0.7"/>
<rect x="491.59" y="222.5" width="8.1" height="27.75" fill="#000"/>
<rect x="491.59" y="213.08" width="8.1" height="3.82" fill="#000"/>
<line x1="495.64" y1="213.08" x2="495.64" y2="210.6" stroke="#222" stroke-width="0.7"/>
<line x1="494.14" y1="210.6" x2="497.14" y2="210.6" stroke="#222" stroke-width="0.7"/>
<rect x="500.91" y="222.5" width="8.1" height="27.75" fill="#c8c8c8" stroke="#000" stroke-width="0.8"/>
<rect x="500.91" y="198.1" width="8.1" height="18.8" fill="#c8c8c8" stroke="#000" stroke-width="0.8"/>
<line x1="504.96" y1="198.1" x2="504.96" y2="191.49" stroke="#222" stroke-width="0.7"/>
<line x1="503.46" y1="191.49" x2="506.46" y2="191.49" stroke="#222" stroke-width="0.7"/>
<rect x="510.23" y="222.5" width="8.1" height="27.75" fill="#777" stroke="#000" stroke-width="0.8"/>
<rect x="510.23" y="216.25" width="8.1" height="0.65" fill="#777" stroke="#000" stroke-width="0.8"/>
<line x1="514.28" y1="216.25" x2="514.28" y2="215.64" stroke="#222" stroke-width="0.7"/>
<line x1="512.78" y1="215.64" x2="515.78" y2="215.64" stroke="#222" stroke-width="0.7"/>
<line x1="424.5" y1="250.25" x2="519.33" y2="250.25" stroke="#000" stroke-width="1.25"/>
<line x1="430.4" y1="250.25" x2="430.4" y2="252.25" stroke="#000" stroke-width="0.7"/>
<line x1="439.72" y1="250.25" x2="439.72" y2="252.25" stroke="#000" stroke-width="0.7"/>
<line x1="449.04" y1="250.25" x2="449.04" y2="252.25" stroke="#000" stroke-width="0.7"/>
<line x1="458.36" y1="250.25" x2="458.36" y2="252.25" stroke="#000" stroke-width="0.7"/>
<line x1="467.68" y1="250.25" x2="467.68" y2="252.25" stroke="#000" stroke-width="0.7"/>
<line x1="477" y1="250.25" x2="477" y2="252.25" stroke="#000" stroke-width="0.7"/>
<line x1="486.32" y1="250.25" x2="486.32" y2="252.25" stroke="#000" stroke-width="0.7"/>
<line x1="495.64" y1="250.25" x2="495.64" y2="252.25" stroke="#000" stroke-width="0.7"/>
<line x1="504.96" y1="250.25" x2="504.96" y2="252.25" stroke="#000" stroke-width="0.7"/>
<line x1="514.28" y1="250.25" x2="514.28" y2="252.25" stroke="#000" stroke-width="0.7"/>
<text x="0" y="0" font-size="5.1" font-weight="bold" text-anchor="end" transform="translate(431,257.3) rotate(-45)">Control (0-2 min)</text>
<text x="0" y="0" font-size="5.1" font-weight="bold" text-anchor="end" transform="translate(440.32,257.3) rotate(-45)">fMLP (0-2 min)</text>
<text x="0" y="0" font-size="5.1" font-weight="bold" text-anchor="end" transform="translate(449.64,257.3) rotate(-45)">15e (0-2 min)</text>
<text x="0" y="0" font-size="5.1" font-weight="bold" text-anchor="end" transform="translate(458.96,257.3) rotate(-45)">fMLP (0-2 min) + 15e</text>
<text x="0" y="0" font-size="5.1" font-weight="bold" text-anchor="end" transform="translate(468.28,257.3) rotate(-45)">Control (5-30 min)</text>
<text x="0" y="0" font-size="5.1" font-weight="bold" text-anchor="end" transform="translate(477.6,257.3) rotate(-45)">fMLP (5-30 min)</text>
<text x="0" y="0" font-size="5.1" font-weight="bold" text-anchor="end" transform="translate(486.92,257.3) rotate(-45)">15e (5-30 min)</text>
<text x="0" y="0" font-size="5.1" font-weight="bold" text-anchor="end" transform="translate(496.24,257.3) rotate(-45)">fMLP (5-30)+ 15e</text>
<text x="0" y="0" font-size="5.1" font-weight="bold" text-anchor="end" transform="translate(505.56,257.3) rotate(-45)">TNF (5-30)</text>
<text x="0" y="0" font-size="5.1" font-weight="bold" text-anchor="end" transform="translate(514.88,257.3) rotate(-45)">TNF (5-30 min) + 15e</text>
<text x="428" y="180.9" font-size="6.45" font-weight="bold">&#177; 15e (0.1 &#956;M) - &#945; inhibitor</text>
<text x="0" y="0" font-size="7.5" font-weight="bold" text-anchor="middle" class="h" transform="translate(399,218.7) rotate(-90)">total counts</text>
<line x1="439.4" y1="219.2" x2="459.4" y2="219.2" stroke="#000" stroke-width="1.1"/>
<line x1="439.4" y1="217.1" x2="439.4" y2="221.3" stroke="#000" stroke-width="1.0"/>
<line x1="459.4" y1="217.1" x2="459.4" y2="221.3" stroke="#000" stroke-width="1.0"/>
<text x="449.4" y="220.2" font-size="7.2" font-weight="bold" text-anchor="middle">**</text>
<line x1="476.5" y1="189.4" x2="495.6" y2="189.4" stroke="#000" stroke-width="1.1"/>
<line x1="476.5" y1="187.3" x2="476.5" y2="191.5" stroke="#000" stroke-width="1.0"/>
<line x1="495.6" y1="187.3" x2="495.6" y2="191.5" stroke="#000" stroke-width="1.0"/>
<text x="486.05" y="190.4" font-size="7.2" font-weight="bold" text-anchor="middle">*</text>
<line x1="504" y1="186.6" x2="515" y2="186.6" stroke="#000" stroke-width="1.1"/>
<line x1="504" y1="184.5" x2="504" y2="188.7" stroke="#000" stroke-width="1.0"/>
<line x1="515" y1="184.5" x2="515" y2="188.7" stroke="#000" stroke-width="1.0"/>
<text x="509.5" y="187.6" font-size="7.2" font-weight="bold" text-anchor="middle">**</text>
<text x="391.4" y="312.05" font-size="12.8" class="l">I</text>
<line x1="429" y1="335" x2="429" y2="362.3" stroke="#000" stroke-width="1.25"/>
<line x1="429" y1="367.3" x2="429" y2="394" stroke="#000" stroke-width="1.25"/>
<line x1="427" y1="335.62" x2="429" y2="335.62" stroke="#000" stroke-width="0.8"/>
<text x="426.7" y="337.32" font-size="4.7" font-weight="bold" text-anchor="end" class="m">10000</text>
<line x1="427" y1="341.6" x2="429" y2="341.6" stroke="#000" stroke-width="0.8"/>
<text x="426.7" y="343.29" font-size="4.7" font-weight="bold" text-anchor="end" class="m">8000</text>
<line x1="427" y1="347.57" x2="429" y2="347.57" stroke="#000" stroke-width="0.8"/>
<text x="426.7" y="349.27" font-size="4.7" font-weight="bold" text-anchor="end" class="m">6000</text>
<line x1="427" y1="353.55" x2="429" y2="353.55" stroke="#000" stroke-width="0.8"/>
<text x="426.7" y="355.24" font-size="4.7" font-weight="bold" text-anchor="end" class="m">4000</text>
<line x1="427" y1="359.52" x2="429" y2="359.52" stroke="#000" stroke-width="0.8"/>
<text x="426.7" y="361.22" font-size="4.7" font-weight="bold" text-anchor="end" class="m">2000</text>
<line x1="427" y1="367.5" x2="429" y2="367.5" stroke="#000" stroke-width="0.8"/>
<text x="426.7" y="369.19" font-size="4.7" font-weight="bold" text-anchor="end" class="m">800</text>
<line x1="427" y1="374" x2="429" y2="374" stroke="#000" stroke-width="0.8"/>
<text x="426.7" y="375.69" font-size="4.7" font-weight="bold" text-anchor="end" class="m">600</text>
<line x1="427" y1="380.5" x2="429" y2="380.5" stroke="#000" stroke-width="0.8"/>
<text x="426.7" y="382.19" font-size="4.7" font-weight="bold" text-anchor="end" class="m">400</text>
<line x1="427" y1="387" x2="429" y2="387" stroke="#000" stroke-width="0.8"/>
<text x="426.7" y="388.69" font-size="4.7" font-weight="bold" text-anchor="end" class="m">200</text>
<line x1="427" y1="393.5" x2="429" y2="393.5" stroke="#000" stroke-width="0.8"/>
<text x="426.7" y="395.19" font-size="4.7" font-weight="bold" text-anchor="end" class="m">0</text>
<rect x="438.95" y="373.09" width="7.6" height="20.41" fill="#000"/>
<line x1="442.75" y1="373.09" x2="442.75" y2="368.8" stroke="#222" stroke-width="0.7"/>
<line x1="441.25" y1="368.8" x2="444.25" y2="368.8" stroke="#222" stroke-width="0.7"/>
<rect x="456.33" y="384.99" width="7.6" height="8.51" fill="#000"/>
<line x1="460.13" y1="384.99" x2="460.13" y2="382.51" stroke="#222" stroke-width="0.7"/>
<line x1="458.63" y1="382.51" x2="461.63" y2="382.51" stroke="#222" stroke-width="0.7"/>
<rect x="465.02" y="385.6" width="7.6" height="7.9" fill="#fff" stroke="#000" stroke-width="0.8"/>
<line x1="468.82" y1="385.6" x2="468.82" y2="381.51" stroke="#222" stroke-width="0.7"/>
<line x1="467.32" y1="381.51" x2="470.32" y2="381.51" stroke="#222" stroke-width="0.7"/>
<rect x="473.71" y="367.3" width="7.6" height="26.2" fill="#000"/>
<rect x="473.71" y="342.5" width="7.6" height="19.8" fill="#000"/>
<line x1="477.51" y1="342.5" x2="477.51" y2="337.51" stroke="#222" stroke-width="0.7"/>
<line x1="476.01" y1="337.51" x2="479.01" y2="337.51" stroke="#222" stroke-width="0.7"/>
<rect x="482.4" y="387.49" width="7.6" height="6.01" fill="#fff" stroke="#000" stroke-width="0.8"/>
<line x1="486.2" y1="387.49" x2="486.2" y2="385.6" stroke="#222" stroke-width="0.7"/>
<line x1="484.7" y1="385.6" x2="487.7" y2="385.6" stroke="#222" stroke-width="0.7"/>
<rect x="491.09" y="367.3" width="7.6" height="26.2" fill="#000"/>
<rect x="491.09" y="356.9" width="7.6" height="5.4" fill="#000"/>
<line x1="494.89" y1="356.9" x2="494.89" y2="355.41" stroke="#222" stroke-width="0.7"/>
<line x1="493.39" y1="355.41" x2="496.39" y2="355.41" stroke="#222" stroke-width="0.7"/>
<rect x="499.78" y="367.3" width="7.6" height="26.2" fill="#c8c8c8" stroke="#000" stroke-width="0.8"/>
<rect x="499.78" y="345" width="7.6" height="17.3" fill="#c8c8c8" stroke="#000" stroke-width="0.8"/>
<line x1="503.58" y1="345" x2="503.58" y2="341.25" stroke="#222" stroke-width="0.7"/>
<line x1="502.08" y1="341.25" x2="505.08" y2="341.25" stroke="#222" stroke-width="0.7"/>
<rect x="508.47" y="367.3" width="7.6" height="26.2" fill="#777" stroke="#000" stroke-width="0.8"/>
<rect x="508.47" y="361.25" width="7.6" height="1.05" fill="#777" stroke="#000" stroke-width="0.8"/>
<line x1="512.27" y1="361.25" x2="512.27" y2="360.95" stroke="#222" stroke-width="0.7"/>
<line x1="510.77" y1="360.95" x2="513.77" y2="360.95" stroke="#222" stroke-width="0.7"/>
<line x1="428.5" y1="393.5" x2="517.07" y2="393.5" stroke="#000" stroke-width="1.25"/>
<line x1="434.06" y1="393.5" x2="434.06" y2="395.5" stroke="#000" stroke-width="0.7"/>
<line x1="442.75" y1="393.5" x2="442.75" y2="395.5" stroke="#000" stroke-width="0.7"/>
<line x1="451.44" y1="393.5" x2="451.44" y2="395.5" stroke="#000" stroke-width="0.7"/>
<line x1="460.13" y1="393.5" x2="460.13" y2="395.5" stroke="#000" stroke-width="0.7"/>
<line x1="468.82" y1="393.5" x2="468.82" y2="395.5" stroke="#000" stroke-width="0.7"/>
<line x1="477.51" y1="393.5" x2="477.51" y2="395.5" stroke="#000" stroke-width="0.7"/>
<line x1="486.2" y1="393.5" x2="486.2" y2="395.5" stroke="#000" stroke-width="0.7"/>
<line x1="494.89" y1="393.5" x2="494.89" y2="395.5" stroke="#000" stroke-width="0.7"/>
<line x1="503.58" y1="393.5" x2="503.58" y2="395.5" stroke="#000" stroke-width="0.7"/>
<line x1="512.27" y1="393.5" x2="512.27" y2="395.5" stroke="#000" stroke-width="0.7"/>
<text x="0" y="0" font-size="4.8" font-weight="bold" text-anchor="end" transform="translate(435.21,400.6) rotate(-45)">Control (0-2 min)</text>
<text x="0" y="0" font-size="4.8" font-weight="bold" text-anchor="end" transform="translate(443.9,400.6) rotate(-45)">fMLP (0-2 min)</text>
<text x="0" y="0" font-size="4.8" font-weight="bold" text-anchor="end" transform="translate(452.59,400.6) rotate(-45)">IC87114 (0-2 min)</text>
<text x="0" y="0" font-size="4.8" font-weight="bold" text-anchor="end" transform="translate(461.28,400.6) rotate(-45)">fMLP (0-2 min) + IC87114</text>
<text x="0" y="0" font-size="4.8" font-weight="bold" text-anchor="end" transform="translate(469.97,400.6) rotate(-45)">Control (5-30 min)</text>
<text x="0" y="0" font-size="4.8" font-weight="bold" text-anchor="end" transform="translate(478.66,400.6) rotate(-45)">fMLP (5-30 min)</text>
<text x="0" y="0" font-size="4.8" font-weight="bold" text-anchor="end" transform="translate(487.35,400.6) rotate(-45)">IC87114 (5-30 min)</text>
<text x="0" y="0" font-size="4.8" font-weight="bold" text-anchor="end" transform="translate(496.04,400.6) rotate(-45)">fMLP (5-30 min) + IC87114</text>
<text x="0" y="0" font-size="4.8" font-weight="bold" text-anchor="end" transform="translate(504.73,400.6) rotate(-45)">TNF (5-30 min)</text>
<text x="0" y="0" font-size="4.8" font-weight="bold" text-anchor="end" transform="translate(513.42,400.6) rotate(-45)">TNF (5-30 min) + IC87114</text>
<text x="406.2" y="328.4" font-size="6.1" font-weight="bold">&#177; IC87114 (0.5 &#956;M) - &#948; inhibitor</text>
<text x="0" y="0" font-size="7.0" font-weight="bold" text-anchor="middle" class="h" transform="translate(402.3,364) rotate(-90)">total counts</text>
<line x1="442.25" y1="366.7" x2="460.6" y2="366.7" stroke="#000" stroke-width="1.1"/>
<line x1="442.25" y1="364.6" x2="442.25" y2="368.8" stroke="#000" stroke-width="1.0"/>
<line x1="460.6" y1="364.6" x2="460.6" y2="368.8" stroke="#000" stroke-width="1.0"/>
<text x="451.43" y="367.7" font-size="7.2" font-weight="bold" text-anchor="middle">*</text>
<line x1="476.9" y1="337.5" x2="495.6" y2="337.5" stroke="#000" stroke-width="1.1"/>
<line x1="476.9" y1="335.4" x2="476.9" y2="339.6" stroke="#000" stroke-width="1.0"/>
<line x1="495.6" y1="335.4" x2="495.6" y2="339.6" stroke="#000" stroke-width="1.0"/>
<text x="486.25" y="338.5" font-size="7.2" font-weight="bold" text-anchor="middle">*</text>
<line x1="503.1" y1="340" x2="512.75" y2="340" stroke="#000" stroke-width="1.1"/>
<line x1="503.1" y1="337.9" x2="503.1" y2="342.1" stroke="#000" stroke-width="1.0"/>
<line x1="512.75" y1="337.9" x2="512.75" y2="342.1" stroke="#000" stroke-width="1.0"/>
<text x="507.93" y="341" font-size="7.2" font-weight="bold" text-anchor="middle">**</text>
</svg>
</body></html>
